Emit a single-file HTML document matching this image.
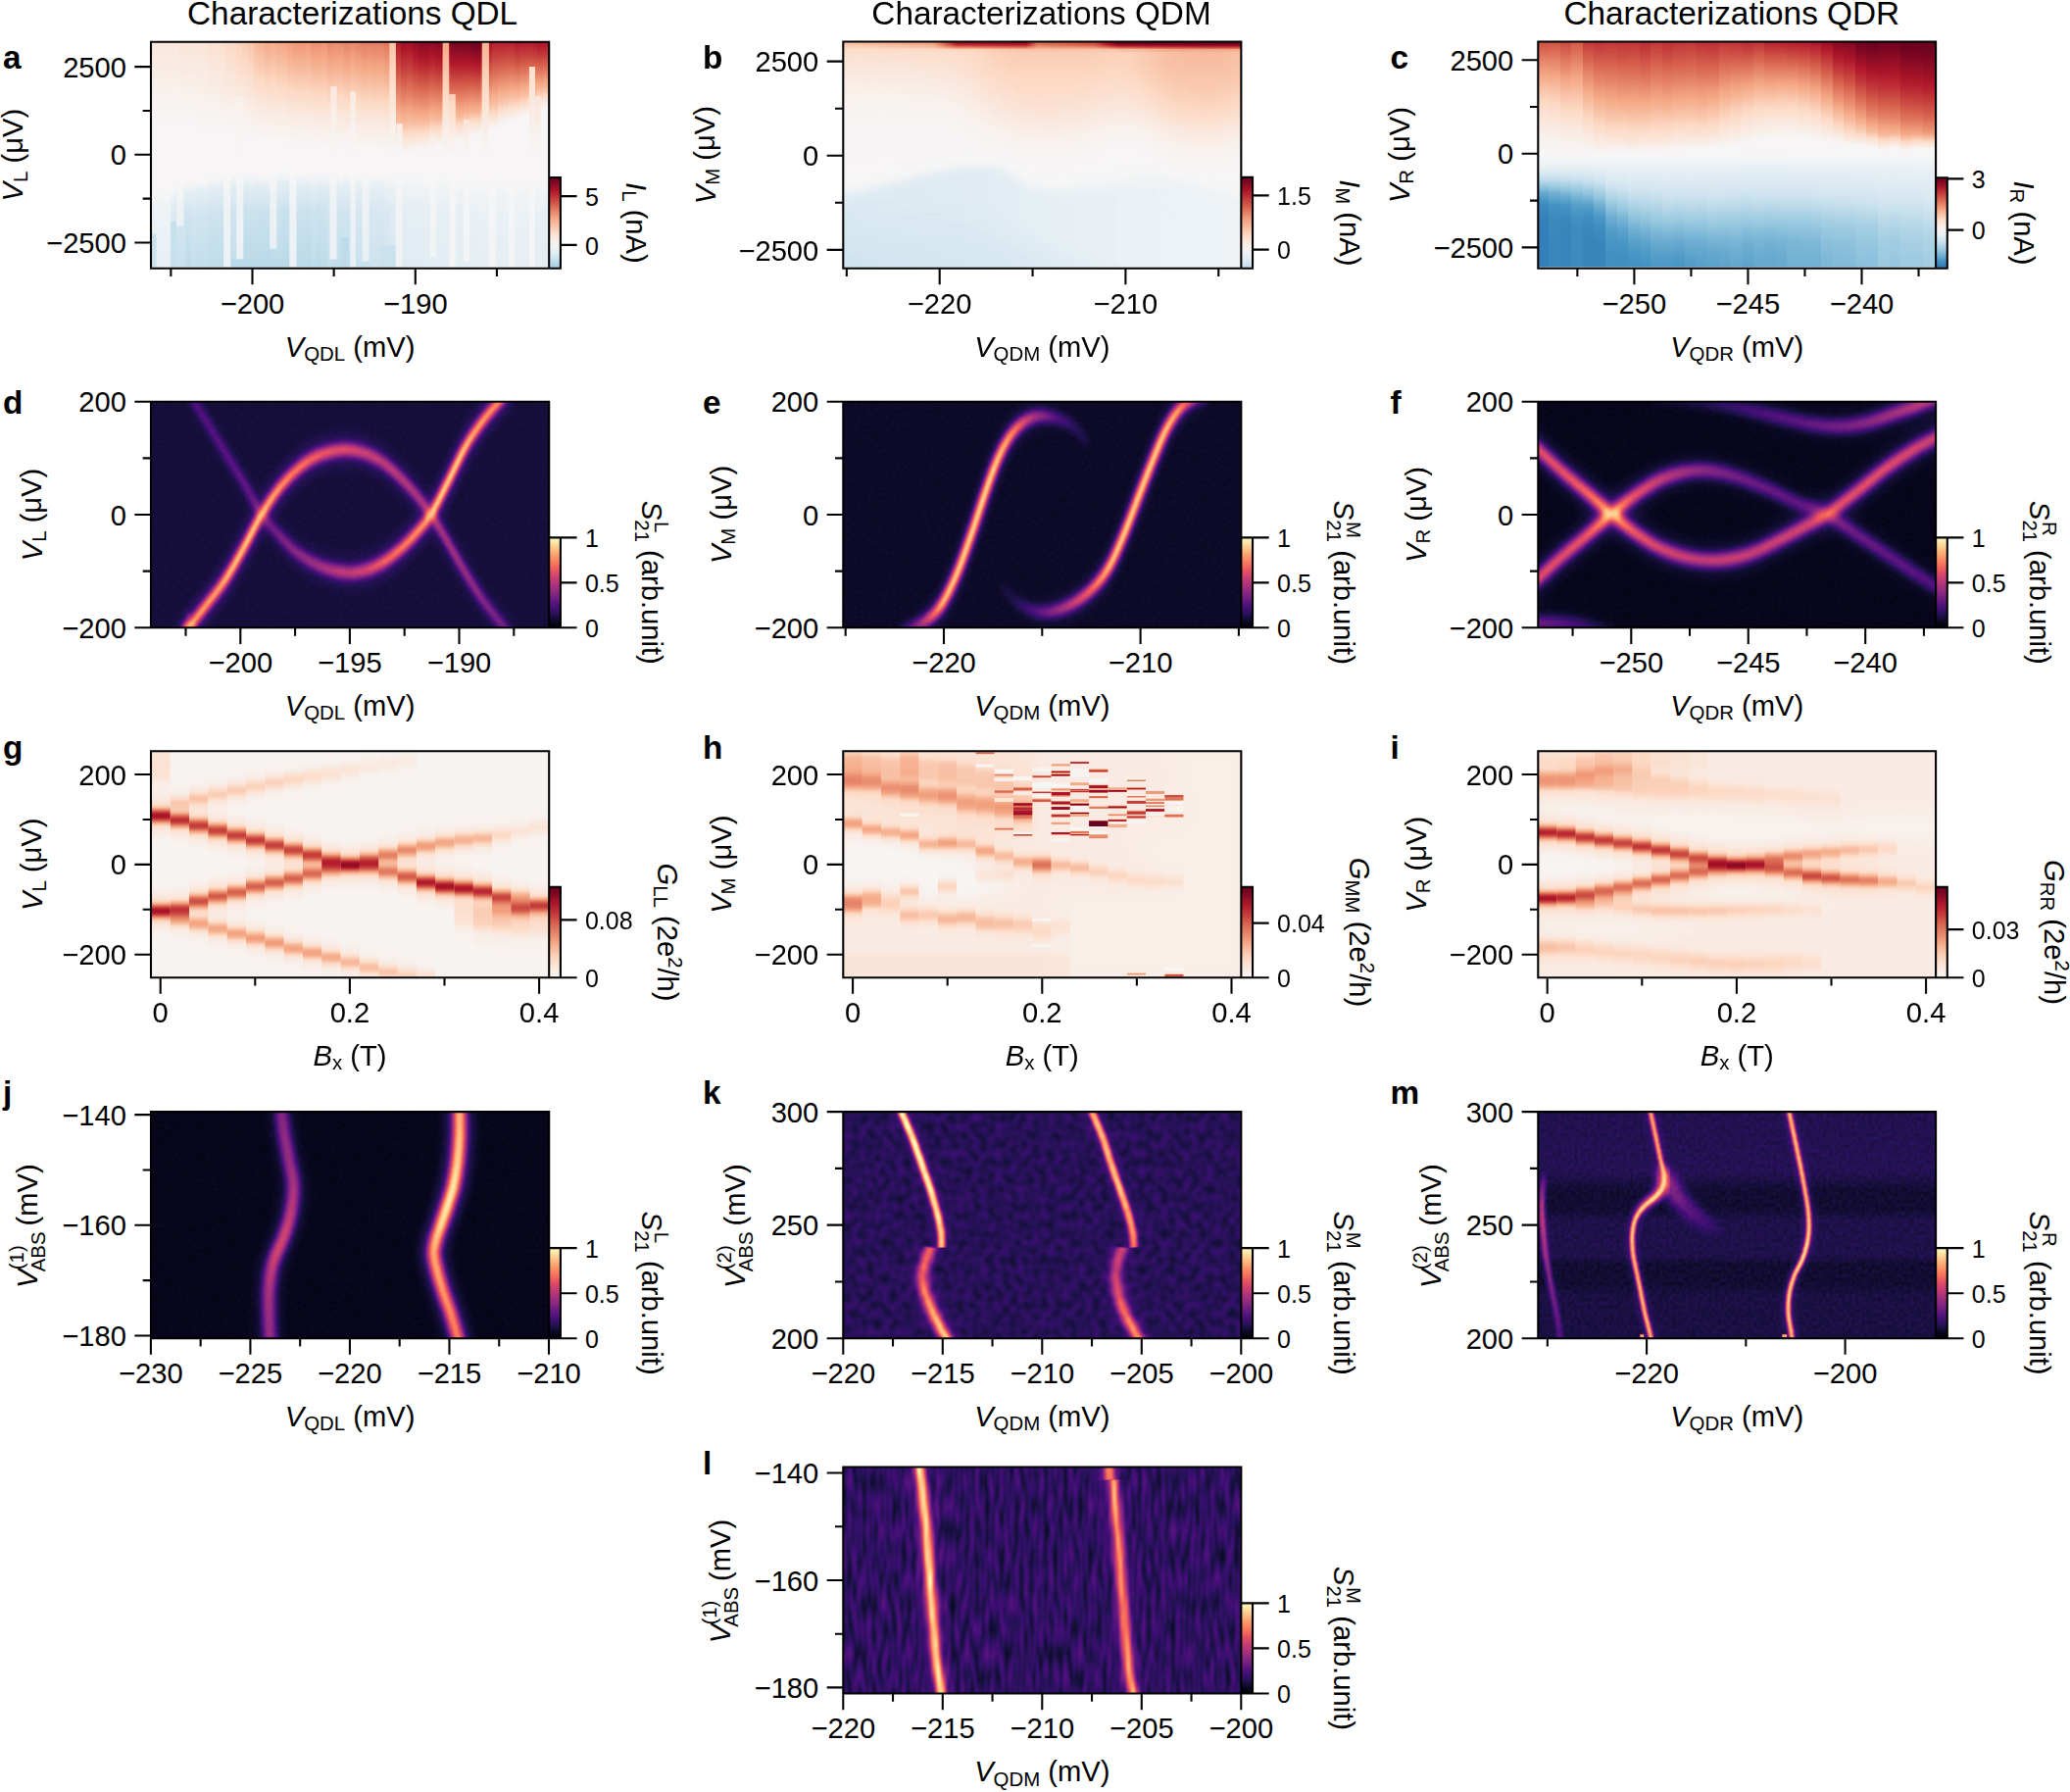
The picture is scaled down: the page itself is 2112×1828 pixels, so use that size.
<!DOCTYPE html><html><head><meta charset="utf-8"><title>Characterizations</title><style>html,body{margin:0;padding:0;background:#fff}svg{display:block}text{font-family:"Liberation Sans",Arial,Helvetica,sans-serif;fill:#000}</style></head><body><svg xmlns="http://www.w3.org/2000/svg" width="2112" height="1828" viewBox="0 0 2112 1828"><defs><filter id="cm_magma" x="0" y="0" width="1" height="1" color-interpolation-filters="sRGB"><feComponentTransfer><feFuncR type="table" tableValues="0.001 0.006 0.014 0.025 0.040 0.057 0.074 0.093 0.113 0.135 0.159 0.185 0.212 0.239 0.265 0.291 0.317 0.341 0.366 0.390 0.415 0.439 0.464 0.488 0.513 0.538 0.563 0.588 0.614 0.639 0.665 0.691 0.716 0.742 0.767 0.792 0.817 0.841 0.863 0.885 0.904 0.922 0.937 0.950 0.961 0.970 0.977 0.982 0.987 0.990 0.993 0.995 0.996 0.997 0.997 0.997 0.997 0.996 0.995 0.994 0.992 0.991 0.989 0.988 0.987"/><feFuncG type="table" tableValues="0.000 0.005 0.012 0.021 0.031 0.042 0.052 0.060 0.065 0.068 0.068 0.066 0.062 0.060 0.060 0.065 0.072 0.081 0.090 0.100 0.110 0.120 0.130 0.139 0.148 0.157 0.165 0.174 0.182 0.190 0.198 0.206 0.215 0.224 0.234 0.244 0.256 0.269 0.284 0.301 0.320 0.341 0.365 0.391 0.418 0.447 0.476 0.506 0.536 0.565 0.595 0.624 0.654 0.683 0.712 0.741 0.770 0.798 0.827 0.856 0.884 0.913 0.941 0.970 0.991"/><feFuncB type="table" tableValues="0.014 0.037 0.069 0.101 0.134 0.167 0.203 0.239 0.277 0.315 0.353 0.388 0.419 0.443 0.462 0.475 0.485 0.493 0.498 0.502 0.505 0.507 0.508 0.508 0.508 0.507 0.505 0.502 0.499 0.494 0.489 0.483 0.475 0.467 0.458 0.448 0.436 0.425 0.412 0.400 0.388 0.377 0.369 0.362 0.360 0.360 0.364 0.372 0.382 0.395 0.410 0.427 0.446 0.467 0.488 0.511 0.535 0.560 0.586 0.612 0.640 0.668 0.698 0.727 0.750"/></feComponentTransfer></filter><filter id="cm_rdbu" x="0" y="0" width="1" height="1" color-interpolation-filters="sRGB"><feComponentTransfer><feFuncR type="table" tableValues="0.020 0.037 0.054 0.071 0.089 0.106 0.123 0.142 0.163 0.184 0.205 0.226 0.247 0.275 0.323 0.372 0.421 0.469 0.518 0.566 0.606 0.645 0.684 0.723 0.761 0.800 0.831 0.855 0.878 0.901 0.925 0.948 0.969 0.973 0.976 0.980 0.984 0.988 0.991 0.988 0.982 0.977 0.971 0.966 0.960 0.950 0.931 0.913 0.895 0.876 0.858 0.839 0.817 0.795 0.773 0.751 0.728 0.706 0.669 0.623 0.577 0.531 0.485 0.439 0.404"/><feFuncG type="table" tableValues="0.188 0.221 0.255 0.288 0.321 0.354 0.388 0.417 0.445 0.473 0.500 0.528 0.556 0.584 0.615 0.646 0.676 0.707 0.738 0.769 0.790 0.809 0.829 0.849 0.869 0.888 0.904 0.915 0.926 0.937 0.948 0.959 0.966 0.949 0.932 0.915 0.898 0.880 0.863 0.834 0.801 0.767 0.734 0.701 0.668 0.631 0.589 0.546 0.504 0.461 0.419 0.376 0.332 0.288 0.244 0.199 0.155 0.111 0.085 0.070 0.055 0.041 0.026 0.011 0.000"/><feFuncB type="table" tableValues="0.380 0.427 0.473 0.519 0.565 0.611 0.657 0.683 0.698 0.712 0.726 0.740 0.754 0.769 0.785 0.802 0.819 0.835 0.852 0.869 0.880 0.891 0.902 0.913 0.925 0.936 0.943 0.948 0.952 0.956 0.961 0.965 0.965 0.935 0.906 0.876 0.847 0.817 0.788 0.749 0.706 0.664 0.621 0.579 0.536 0.498 0.465 0.432 0.400 0.367 0.335 0.302 0.281 0.260 0.239 0.218 0.197 0.176 0.164 0.157 0.149 0.142 0.134 0.127 0.122"/></feComponentTransfer></filter><filter id="cm_reds" x="0" y="0" width="1" height="1" color-interpolation-filters="sRGB"><feComponentTransfer><feFuncR type="table" tableValues="0.969 0.971 0.973 0.975 0.976 0.978 0.980 0.982 0.984 0.986 0.988 0.989 0.991 0.991 0.988 0.985 0.982 0.980 0.977 0.974 0.971 0.969 0.966 0.963 0.960 0.958 0.950 0.941 0.931 0.922 0.913 0.904 0.895 0.885 0.876 0.867 0.858 0.848 0.839 0.828 0.817 0.806 0.795 0.784 0.773 0.762 0.751 0.740 0.728 0.717 0.706 0.692 0.669 0.646 0.623 0.600 0.577 0.554 0.531 0.508 0.485 0.462 0.439 0.415 0.404"/><feFuncG type="table" tableValues="0.966 0.958 0.949 0.941 0.932 0.923 0.915 0.906 0.898 0.889 0.880 0.872 0.863 0.851 0.834 0.817 0.801 0.784 0.767 0.751 0.734 0.718 0.701 0.684 0.668 0.651 0.631 0.610 0.589 0.567 0.546 0.525 0.504 0.483 0.461 0.440 0.419 0.398 0.376 0.354 0.332 0.310 0.288 0.266 0.244 0.221 0.199 0.177 0.155 0.133 0.111 0.092 0.085 0.078 0.070 0.063 0.055 0.048 0.041 0.033 0.026 0.018 0.011 0.004 0.000"/><feFuncB type="table" tableValues="0.965 0.950 0.935 0.921 0.906 0.891 0.876 0.862 0.847 0.832 0.817 0.803 0.788 0.770 0.749 0.727 0.706 0.685 0.664 0.642 0.621 0.600 0.579 0.558 0.536 0.515 0.498 0.481 0.465 0.449 0.432 0.416 0.400 0.383 0.367 0.351 0.335 0.318 0.302 0.292 0.281 0.271 0.260 0.250 0.239 0.229 0.218 0.208 0.197 0.187 0.176 0.168 0.164 0.160 0.157 0.153 0.149 0.146 0.142 0.138 0.134 0.131 0.127 0.123 0.122"/></feComponentTransfer></filter><filter id="b1" x="-0.2" y="-0.2" width="1.4" height="1.4" color-interpolation-filters="sRGB"><feGaussianBlur stdDeviation="1 1"/></filter><filter id="b1h" x="-0.2" y="-0.2" width="1.4" height="1.4" color-interpolation-filters="sRGB"><feGaussianBlur stdDeviation="1.5 1.5"/></filter><filter id="b2" x="-0.2" y="-0.2" width="1.4" height="1.4" color-interpolation-filters="sRGB"><feGaussianBlur stdDeviation="2 2"/></filter><filter id="b3" x="-0.2" y="-0.2" width="1.4" height="1.4" color-interpolation-filters="sRGB"><feGaussianBlur stdDeviation="3 3"/></filter><filter id="b4" x="-0.2" y="-0.2" width="1.4" height="1.4" color-interpolation-filters="sRGB"><feGaussianBlur stdDeviation="4 4"/></filter><filter id="b5" x="-0.2" y="-0.2" width="1.4" height="1.4" color-interpolation-filters="sRGB"><feGaussianBlur stdDeviation="5 5"/></filter><filter id="b6" x="-0.2" y="-0.2" width="1.4" height="1.4" color-interpolation-filters="sRGB"><feGaussianBlur stdDeviation="6 6"/></filter><filter id="b8" x="-0.2" y="-0.2" width="1.4" height="1.4" color-interpolation-filters="sRGB"><feGaussianBlur stdDeviation="8 8"/></filter><filter id="b12" x="-0.2" y="-0.2" width="1.4" height="1.4" color-interpolation-filters="sRGB"><feGaussianBlur stdDeviation="12 12"/></filter><filter id="b20" x="-0.2" y="-0.2" width="1.4" height="1.4" color-interpolation-filters="sRGB"><feGaussianBlur stdDeviation="20 20"/></filter><filter id="bv2" x="-0.2" y="-0.2" width="1.4" height="1.4" color-interpolation-filters="sRGB"><feGaussianBlur stdDeviation="0 2"/></filter><filter id="bv3" x="-0.2" y="-0.2" width="1.4" height="1.4" color-interpolation-filters="sRGB"><feGaussianBlur stdDeviation="0 3"/></filter><filter id="bv4" x="-0.2" y="-0.2" width="1.4" height="1.4" color-interpolation-filters="sRGB"><feGaussianBlur stdDeviation="0 4"/></filter><filter id="bv6" x="-0.2" y="-0.2" width="1.4" height="1.4" color-interpolation-filters="sRGB"><feGaussianBlur stdDeviation="0 6"/></filter><filter id="bv10" x="-0.2" y="-0.2" width="1.4" height="1.4" color-interpolation-filters="sRGB"><feGaussianBlur stdDeviation="0 10"/></filter><filter id="bh2" x="-0.2" y="-0.2" width="1.4" height="1.4" color-interpolation-filters="sRGB"><feGaussianBlur stdDeviation="2 0"/></filter><filter id="bh3" x="-0.2" y="-0.2" width="1.4" height="1.4" color-interpolation-filters="sRGB"><feGaussianBlur stdDeviation="3 0"/></filter><filter id="bh1" x="-0.2" y="-0.2" width="1.4" height="1.4" color-interpolation-filters="sRGB"><feGaussianBlur stdDeviation="1 0"/></filter><filter id="bh5" x="-0.2" y="-0.2" width="1.4" height="1.4" color-interpolation-filters="sRGB"><feGaussianBlur stdDeviation="5 0"/></filter><linearGradient id="a_up" x1="0" y1="0" x2="0" y2="1"><stop offset="0" stop-color="#ffffff"/><stop offset="0.25" stop-color="#dedede"/><stop offset="0.5" stop-color="#bababa"/><stop offset="0.75" stop-color="#969696"/><stop offset="1" stop-color="#808080"/></linearGradient><linearGradient id="a_up2" x1="0" y1="0" x2="0" y2="1"><stop offset="0" stop-color="#ffffff"/><stop offset="0.25" stop-color="#e6e6e6"/><stop offset="0.5" stop-color="#c9c9c9"/><stop offset="0.75" stop-color="#ababab"/><stop offset="0.9" stop-color="#8f8f8f"/><stop offset="1" stop-color="#808080"/></linearGradient><linearGradient id="a_dn" x1="0" y1="0" x2="0" y2="1"><stop offset="0" stop-color="#808080"/><stop offset="0.15" stop-color="#464646"/><stop offset="0.4" stop-color="#191919"/><stop offset="1" stop-color="#000000"/></linearGradient><clipPath id="clip_a"><rect x="154" y="42.7" width="406.2" height="231"/></clipPath><linearGradient id="cbg_a" x1="0" y1="0" x2="0" y2="1"><stop offset="0" stop-color="#67001f"/><stop offset="0.08" stop-color="#8d0c25"/><stop offset="0.15" stop-color="#b3192c"/><stop offset="0.23" stop-color="#c53e3d"/><stop offset="0.31" stop-color="#d86551"/><stop offset="0.38" stop-color="#e8896c"/><stop offset="0.46" stop-color="#f5aa89"/><stop offset="0.54" stop-color="#f9c6ac"/><stop offset="0.62" stop-color="#fcdfcf"/><stop offset="0.69" stop-color="#f9eee7"/><stop offset="0.77" stop-color="#f0f4f6"/><stop offset="0.85" stop-color="#ddebf2"/><stop offset="0.92" stop-color="#c2ddec"/><stop offset="1" stop-color="#a2cde3"/></linearGradient><linearGradient id="lg1" gradientUnits="userSpaceOnUse" x1="0" y1="42.01" x2="0" y2="158.29"><stop offset="0" stop-color="#999999" stop-opacity="1"/><stop offset="0.224" stop-color="#939393" stop-opacity="1"/><stop offset="0.534" stop-color="#8a8a8a" stop-opacity="1"/><stop offset="0.793" stop-color="#838383" stop-opacity="1"/><stop offset="1" stop-color="#808080" stop-opacity="1"/></linearGradient><linearGradient id="lg2" gradientUnits="userSpaceOnUse" x1="860.41" y1="0" x2="1265.98" y2="0"><stop offset="0" stop-color="#fff" stop-opacity="0.1"/><stop offset="0.226" stop-color="#fff" stop-opacity="0.2"/><stop offset="0.286" stop-color="#fff" stop-opacity="0.75"/><stop offset="0.459" stop-color="#fff" stop-opacity="0.8"/><stop offset="0.488" stop-color="#fff" stop-opacity="0.35"/><stop offset="0.632" stop-color="#fff" stop-opacity="0.5"/><stop offset="0.691" stop-color="#fff" stop-opacity="0.95"/><stop offset="1" stop-color="#fff" stop-opacity="1"/></linearGradient><linearGradient id="lg3" gradientUnits="userSpaceOnUse" x1="860.41" y1="0" x2="1265.98" y2="0"><stop offset="0" stop-color="#fff" stop-opacity="0.02"/><stop offset="0.286" stop-color="#fff" stop-opacity="0.1"/><stop offset="0.632" stop-color="#fff" stop-opacity="0.1"/><stop offset="0.706" stop-color="#fff" stop-opacity="0.22"/><stop offset="1" stop-color="#fff" stop-opacity="0.25"/></linearGradient><linearGradient id="lg4" gradientUnits="userSpaceOnUse" x1="856" y1="0" x2="1268.99" y2="0"><stop offset="0" stop-color="#000000" stop-opacity="0.15"/><stop offset="0.34" stop-color="#000000" stop-opacity="0.125"/><stop offset="0.534" stop-color="#000000" stop-opacity="0.085"/><stop offset="0.777" stop-color="#000000" stop-opacity="0.065"/><stop offset="1" stop-color="#000000" stop-opacity="0.055"/></linearGradient><linearGradient id="lg5" gradientUnits="userSpaceOnUse" x1="0" y1="198.38" x2="0" y2="272.56"><stop offset="0" stop-color="#000000" stop-opacity="0"/><stop offset="1" stop-color="#000000" stop-opacity="0.075"/></linearGradient><clipPath id="clip_b"><rect x="860.3" y="42.5" width="406.05" height="231.2"/></clipPath><linearGradient id="cbg_b" x1="0" y1="0" x2="0" y2="1"><stop offset="0" stop-color="#67001f"/><stop offset="0.08" stop-color="#8a0b25"/><stop offset="0.15" stop-color="#ae172a"/><stop offset="0.23" stop-color="#c2383a"/><stop offset="0.31" stop-color="#d35a4a"/><stop offset="0.38" stop-color="#e27b62"/><stop offset="0.46" stop-color="#f19e7d"/><stop offset="0.54" stop-color="#f7b99c"/><stop offset="0.62" stop-color="#fcd3bc"/><stop offset="0.69" stop-color="#fbe5d8"/><stop offset="0.77" stop-color="#f8f2ef"/><stop offset="0.85" stop-color="#ecf2f5"/><stop offset="0.92" stop-color="#d8e9f1"/><stop offset="1" stop-color="#c0dceb"/></linearGradient><linearGradient id="cc0" x1="0" y1="0" x2="0" y2="1"><stop offset="0" stop-color="#d2d2d2"/><stop offset="0.071" stop-color="#c1c1c1"/><stop offset="0.141" stop-color="#b2b2b2"/><stop offset="0.212" stop-color="#a4a4a4"/><stop offset="0.282" stop-color="#979797"/><stop offset="0.353" stop-color="#8d8d8d"/><stop offset="0.424" stop-color="#848484"/><stop offset="0.494" stop-color="#808080"/><stop offset="0.504" stop-color="#808080"/><stop offset="0.559" stop-color="#757575"/><stop offset="0.614" stop-color="#5e5e5e"/><stop offset="0.67" stop-color="#3f3f3f"/><stop offset="0.725" stop-color="#2e2e2e"/><stop offset="0.78" stop-color="#292929"/><stop offset="0.835" stop-color="#282828"/><stop offset="0.89" stop-color="#282828"/><stop offset="0.945" stop-color="#282828"/><stop offset="1" stop-color="#282828"/></linearGradient><linearGradient id="cc1" x1="0" y1="0" x2="0" y2="1"><stop offset="0" stop-color="#d0d0d0"/><stop offset="0.071" stop-color="#c1c1c1"/><stop offset="0.142" stop-color="#b3b3b3"/><stop offset="0.212" stop-color="#a5a5a5"/><stop offset="0.283" stop-color="#999999"/><stop offset="0.354" stop-color="#8e8e8e"/><stop offset="0.425" stop-color="#858585"/><stop offset="0.496" stop-color="#808080"/><stop offset="0.504" stop-color="#808080"/><stop offset="0.559" stop-color="#747474"/><stop offset="0.614" stop-color="#5e5e5e"/><stop offset="0.67" stop-color="#434343"/><stop offset="0.725" stop-color="#333333"/><stop offset="0.78" stop-color="#2e2e2e"/><stop offset="0.835" stop-color="#2d2d2d"/><stop offset="0.89" stop-color="#2c2c2c"/><stop offset="0.945" stop-color="#2c2c2c"/><stop offset="1" stop-color="#2c2c2c"/></linearGradient><linearGradient id="cc2" x1="0" y1="0" x2="0" y2="1"><stop offset="0" stop-color="#d4d4d4"/><stop offset="0.071" stop-color="#c5c5c5"/><stop offset="0.142" stop-color="#b7b7b7"/><stop offset="0.213" stop-color="#a9a9a9"/><stop offset="0.284" stop-color="#9c9c9c"/><stop offset="0.355" stop-color="#919191"/><stop offset="0.426" stop-color="#878787"/><stop offset="0.497" stop-color="#808080"/><stop offset="0.504" stop-color="#808080"/><stop offset="0.559" stop-color="#747474"/><stop offset="0.614" stop-color="#606060"/><stop offset="0.67" stop-color="#464646"/><stop offset="0.725" stop-color="#343434"/><stop offset="0.78" stop-color="#2d2d2d"/><stop offset="0.835" stop-color="#2b2b2b"/><stop offset="0.89" stop-color="#2a2a2a"/><stop offset="0.945" stop-color="#2a2a2a"/><stop offset="1" stop-color="#2a2a2a"/></linearGradient><linearGradient id="cc3" x1="0" y1="0" x2="0" y2="1"><stop offset="0" stop-color="#cecece"/><stop offset="0.071" stop-color="#c1c1c1"/><stop offset="0.141" stop-color="#b4b4b4"/><stop offset="0.212" stop-color="#a8a8a8"/><stop offset="0.283" stop-color="#9c9c9c"/><stop offset="0.354" stop-color="#919191"/><stop offset="0.424" stop-color="#878787"/><stop offset="0.495" stop-color="#808080"/><stop offset="0.504" stop-color="#808080"/><stop offset="0.559" stop-color="#747474"/><stop offset="0.614" stop-color="#626262"/><stop offset="0.67" stop-color="#4a4a4a"/><stop offset="0.725" stop-color="#393939"/><stop offset="0.78" stop-color="#323232"/><stop offset="0.835" stop-color="#2f2f2f"/><stop offset="0.89" stop-color="#2f2f2f"/><stop offset="0.945" stop-color="#2e2e2e"/><stop offset="1" stop-color="#2e2e2e"/></linearGradient><linearGradient id="cc4" x1="0" y1="0" x2="0" y2="1"><stop offset="0" stop-color="#dadada"/><stop offset="0.07" stop-color="#cccccc"/><stop offset="0.14" stop-color="#bebebe"/><stop offset="0.211" stop-color="#b1b1b1"/><stop offset="0.281" stop-color="#a4a4a4"/><stop offset="0.351" stop-color="#979797"/><stop offset="0.421" stop-color="#8b8b8b"/><stop offset="0.492" stop-color="#808080"/><stop offset="0.504" stop-color="#808080"/><stop offset="0.559" stop-color="#747474"/><stop offset="0.614" stop-color="#646464"/><stop offset="0.67" stop-color="#4e4e4e"/><stop offset="0.725" stop-color="#3a3a3a"/><stop offset="0.78" stop-color="#303030"/><stop offset="0.835" stop-color="#2c2c2c"/><stop offset="0.89" stop-color="#2b2b2b"/><stop offset="0.945" stop-color="#2b2b2b"/><stop offset="1" stop-color="#2b2b2b"/></linearGradient><linearGradient id="cc5" x1="0" y1="0" x2="0" y2="1"><stop offset="0" stop-color="#dcdcdc"/><stop offset="0.071" stop-color="#cfcfcf"/><stop offset="0.142" stop-color="#c3c3c3"/><stop offset="0.214" stop-color="#b6b6b6"/><stop offset="0.285" stop-color="#a9a9a9"/><stop offset="0.356" stop-color="#9c9c9c"/><stop offset="0.427" stop-color="#8e8e8e"/><stop offset="0.499" stop-color="#808080"/><stop offset="0.504" stop-color="#808080"/><stop offset="0.559" stop-color="#757575"/><stop offset="0.614" stop-color="#676767"/><stop offset="0.67" stop-color="#545454"/><stop offset="0.725" stop-color="#424242"/><stop offset="0.78" stop-color="#353535"/><stop offset="0.835" stop-color="#2f2f2f"/><stop offset="0.89" stop-color="#2c2c2c"/><stop offset="0.945" stop-color="#2b2b2b"/><stop offset="1" stop-color="#2b2b2b"/></linearGradient><linearGradient id="cc6" x1="0" y1="0" x2="0" y2="1"><stop offset="0" stop-color="#dadada"/><stop offset="0.07" stop-color="#cfcfcf"/><stop offset="0.141" stop-color="#c4c4c4"/><stop offset="0.211" stop-color="#b8b8b8"/><stop offset="0.282" stop-color="#acacac"/><stop offset="0.352" stop-color="#a0a0a0"/><stop offset="0.423" stop-color="#929292"/><stop offset="0.493" stop-color="#808080"/><stop offset="0.504" stop-color="#808080"/><stop offset="0.559" stop-color="#767676"/><stop offset="0.614" stop-color="#6c6c6c"/><stop offset="0.67" stop-color="#5e5e5e"/><stop offset="0.725" stop-color="#4e4e4e"/><stop offset="0.78" stop-color="#414141"/><stop offset="0.835" stop-color="#383838"/><stop offset="0.89" stop-color="#343434"/><stop offset="0.945" stop-color="#323232"/><stop offset="1" stop-color="#313131"/></linearGradient><linearGradient id="cc7" x1="0" y1="0" x2="0" y2="1"><stop offset="0" stop-color="#dbdbdb"/><stop offset="0.07" stop-color="#d1d1d1"/><stop offset="0.14" stop-color="#c5c5c5"/><stop offset="0.211" stop-color="#bababa"/><stop offset="0.281" stop-color="#adadad"/><stop offset="0.351" stop-color="#a0a0a0"/><stop offset="0.421" stop-color="#929292"/><stop offset="0.491" stop-color="#808080"/><stop offset="0.504" stop-color="#808080"/><stop offset="0.559" stop-color="#767676"/><stop offset="0.614" stop-color="#6c6c6c"/><stop offset="0.67" stop-color="#616161"/><stop offset="0.725" stop-color="#535353"/><stop offset="0.78" stop-color="#454545"/><stop offset="0.835" stop-color="#3b3b3b"/><stop offset="0.89" stop-color="#353535"/><stop offset="0.945" stop-color="#323232"/><stop offset="1" stop-color="#303030"/></linearGradient><linearGradient id="cc8" x1="0" y1="0" x2="0" y2="1"><stop offset="0" stop-color="#dbdbdb"/><stop offset="0.071" stop-color="#d0d0d0"/><stop offset="0.143" stop-color="#c5c5c5"/><stop offset="0.214" stop-color="#b9b9b9"/><stop offset="0.285" stop-color="#adadad"/><stop offset="0.356" stop-color="#a0a0a0"/><stop offset="0.428" stop-color="#929292"/><stop offset="0.499" stop-color="#808080"/><stop offset="0.504" stop-color="#808080"/><stop offset="0.559" stop-color="#767676"/><stop offset="0.614" stop-color="#6e6e6e"/><stop offset="0.67" stop-color="#646464"/><stop offset="0.725" stop-color="#585858"/><stop offset="0.78" stop-color="#4c4c4c"/><stop offset="0.835" stop-color="#414141"/><stop offset="0.89" stop-color="#393939"/><stop offset="0.945" stop-color="#343434"/><stop offset="1" stop-color="#313131"/></linearGradient><linearGradient id="cc9" x1="0" y1="0" x2="0" y2="1"><stop offset="0" stop-color="#dedede"/><stop offset="0.07" stop-color="#d3d3d3"/><stop offset="0.14" stop-color="#c7c7c7"/><stop offset="0.21" stop-color="#bbbbbb"/><stop offset="0.281" stop-color="#aeaeae"/><stop offset="0.351" stop-color="#a1a1a1"/><stop offset="0.421" stop-color="#929292"/><stop offset="0.491" stop-color="#808080"/><stop offset="0.504" stop-color="#808080"/><stop offset="0.559" stop-color="#757575"/><stop offset="0.614" stop-color="#6d6d6d"/><stop offset="0.67" stop-color="#646464"/><stop offset="0.725" stop-color="#5a5a5a"/><stop offset="0.78" stop-color="#4e4e4e"/><stop offset="0.835" stop-color="#444444"/><stop offset="0.89" stop-color="#3b3b3b"/><stop offset="0.945" stop-color="#363636"/><stop offset="1" stop-color="#323232"/></linearGradient><linearGradient id="cc10" x1="0" y1="0" x2="0" y2="1"><stop offset="0" stop-color="#dadada"/><stop offset="0.07" stop-color="#cfcfcf"/><stop offset="0.141" stop-color="#c4c4c4"/><stop offset="0.211" stop-color="#b8b8b8"/><stop offset="0.282" stop-color="#acacac"/><stop offset="0.352" stop-color="#9f9f9f"/><stop offset="0.423" stop-color="#919191"/><stop offset="0.493" stop-color="#808080"/><stop offset="0.504" stop-color="#808080"/><stop offset="0.559" stop-color="#757575"/><stop offset="0.614" stop-color="#6e6e6e"/><stop offset="0.67" stop-color="#656565"/><stop offset="0.725" stop-color="#5b5b5b"/><stop offset="0.78" stop-color="#515151"/><stop offset="0.835" stop-color="#474747"/><stop offset="0.89" stop-color="#3f3f3f"/><stop offset="0.945" stop-color="#393939"/><stop offset="1" stop-color="#353535"/></linearGradient><linearGradient id="cc11" x1="0" y1="0" x2="0" y2="1"><stop offset="0" stop-color="#dddddd"/><stop offset="0.07" stop-color="#d2d2d2"/><stop offset="0.139" stop-color="#c6c6c6"/><stop offset="0.209" stop-color="#bababa"/><stop offset="0.278" stop-color="#aeaeae"/><stop offset="0.348" stop-color="#a0a0a0"/><stop offset="0.417" stop-color="#929292"/><stop offset="0.487" stop-color="#808080"/><stop offset="0.504" stop-color="#808080"/><stop offset="0.559" stop-color="#767676"/><stop offset="0.614" stop-color="#6f6f6f"/><stop offset="0.67" stop-color="#676767"/><stop offset="0.725" stop-color="#5e5e5e"/><stop offset="0.78" stop-color="#535353"/><stop offset="0.835" stop-color="#484848"/><stop offset="0.89" stop-color="#404040"/><stop offset="0.945" stop-color="#393939"/><stop offset="1" stop-color="#353535"/></linearGradient><linearGradient id="cc12" x1="0" y1="0" x2="0" y2="1"><stop offset="0" stop-color="#dbdbdb"/><stop offset="0.069" stop-color="#d0d0d0"/><stop offset="0.138" stop-color="#c5c5c5"/><stop offset="0.207" stop-color="#b9b9b9"/><stop offset="0.276" stop-color="#acacac"/><stop offset="0.344" stop-color="#9f9f9f"/><stop offset="0.413" stop-color="#919191"/><stop offset="0.482" stop-color="#808080"/><stop offset="0.504" stop-color="#808080"/><stop offset="0.559" stop-color="#757575"/><stop offset="0.614" stop-color="#6e6e6e"/><stop offset="0.67" stop-color="#666666"/><stop offset="0.725" stop-color="#5d5d5d"/><stop offset="0.78" stop-color="#525252"/><stop offset="0.835" stop-color="#474747"/><stop offset="0.89" stop-color="#3f3f3f"/><stop offset="0.945" stop-color="#383838"/><stop offset="1" stop-color="#343434"/></linearGradient><linearGradient id="cc13" x1="0" y1="0" x2="0" y2="1"><stop offset="0" stop-color="#dadada"/><stop offset="0.069" stop-color="#cfcfcf"/><stop offset="0.137" stop-color="#c4c4c4"/><stop offset="0.206" stop-color="#b8b8b8"/><stop offset="0.274" stop-color="#acacac"/><stop offset="0.343" stop-color="#9f9f9f"/><stop offset="0.411" stop-color="#919191"/><stop offset="0.48" stop-color="#808080"/><stop offset="0.504" stop-color="#808080"/><stop offset="0.559" stop-color="#767676"/><stop offset="0.614" stop-color="#6f6f6f"/><stop offset="0.67" stop-color="#676767"/><stop offset="0.725" stop-color="#5e5e5e"/><stop offset="0.78" stop-color="#545454"/><stop offset="0.835" stop-color="#494949"/><stop offset="0.89" stop-color="#414141"/><stop offset="0.945" stop-color="#3b3b3b"/><stop offset="1" stop-color="#373737"/></linearGradient><linearGradient id="cc14" x1="0" y1="0" x2="0" y2="1"><stop offset="0" stop-color="#dddddd"/><stop offset="0.069" stop-color="#d1d1d1"/><stop offset="0.137" stop-color="#c6c6c6"/><stop offset="0.206" stop-color="#b9b9b9"/><stop offset="0.274" stop-color="#adadad"/><stop offset="0.343" stop-color="#a0a0a0"/><stop offset="0.411" stop-color="#919191"/><stop offset="0.48" stop-color="#808080"/><stop offset="0.504" stop-color="#808080"/><stop offset="0.559" stop-color="#757575"/><stop offset="0.614" stop-color="#6e6e6e"/><stop offset="0.67" stop-color="#676767"/><stop offset="0.725" stop-color="#5d5d5d"/><stop offset="0.78" stop-color="#535353"/><stop offset="0.835" stop-color="#494949"/><stop offset="0.89" stop-color="#414141"/><stop offset="0.945" stop-color="#3c3c3c"/><stop offset="1" stop-color="#393939"/></linearGradient><linearGradient id="cc15" x1="0" y1="0" x2="0" y2="1"><stop offset="0" stop-color="#dedede"/><stop offset="0.067" stop-color="#d2d2d2"/><stop offset="0.135" stop-color="#c6c6c6"/><stop offset="0.202" stop-color="#b9b9b9"/><stop offset="0.27" stop-color="#acacac"/><stop offset="0.337" stop-color="#9f9f9f"/><stop offset="0.405" stop-color="#919191"/><stop offset="0.472" stop-color="#808080"/><stop offset="0.504" stop-color="#808080"/><stop offset="0.559" stop-color="#757575"/><stop offset="0.614" stop-color="#6f6f6f"/><stop offset="0.67" stop-color="#686868"/><stop offset="0.725" stop-color="#5f5f5f"/><stop offset="0.78" stop-color="#555555"/><stop offset="0.835" stop-color="#4b4b4b"/><stop offset="0.89" stop-color="#434343"/><stop offset="0.945" stop-color="#3d3d3d"/><stop offset="1" stop-color="#3a3a3a"/></linearGradient><linearGradient id="cc16" x1="0" y1="0" x2="0" y2="1"><stop offset="0" stop-color="#dbdbdb"/><stop offset="0.067" stop-color="#cecece"/><stop offset="0.134" stop-color="#c2c2c2"/><stop offset="0.2" stop-color="#b5b5b5"/><stop offset="0.267" stop-color="#a8a8a8"/><stop offset="0.334" stop-color="#9b9b9b"/><stop offset="0.401" stop-color="#8e8e8e"/><stop offset="0.467" stop-color="#808080"/><stop offset="0.504" stop-color="#808080"/><stop offset="0.559" stop-color="#757575"/><stop offset="0.614" stop-color="#6e6e6e"/><stop offset="0.67" stop-color="#676767"/><stop offset="0.725" stop-color="#5e5e5e"/><stop offset="0.78" stop-color="#545454"/><stop offset="0.835" stop-color="#4a4a4a"/><stop offset="0.89" stop-color="#434343"/><stop offset="0.945" stop-color="#3e3e3e"/><stop offset="1" stop-color="#3b3b3b"/></linearGradient><linearGradient id="cc17" x1="0" y1="0" x2="0" y2="1"><stop offset="0" stop-color="#dcdcdc"/><stop offset="0.066" stop-color="#cfcfcf"/><stop offset="0.132" stop-color="#c1c1c1"/><stop offset="0.198" stop-color="#b3b3b3"/><stop offset="0.265" stop-color="#a6a6a6"/><stop offset="0.331" stop-color="#989898"/><stop offset="0.397" stop-color="#8c8c8c"/><stop offset="0.463" stop-color="#808080"/><stop offset="0.504" stop-color="#808080"/><stop offset="0.559" stop-color="#757575"/><stop offset="0.614" stop-color="#6e6e6e"/><stop offset="0.67" stop-color="#676767"/><stop offset="0.725" stop-color="#5e5e5e"/><stop offset="0.78" stop-color="#545454"/><stop offset="0.835" stop-color="#4b4b4b"/><stop offset="0.89" stop-color="#444444"/><stop offset="0.945" stop-color="#404040"/><stop offset="1" stop-color="#3d3d3d"/></linearGradient><linearGradient id="cc18" x1="0" y1="0" x2="0" y2="1"><stop offset="0" stop-color="#dfdfdf"/><stop offset="0.065" stop-color="#d0d0d0"/><stop offset="0.13" stop-color="#c1c1c1"/><stop offset="0.195" stop-color="#b2b2b2"/><stop offset="0.259" stop-color="#a4a4a4"/><stop offset="0.324" stop-color="#969696"/><stop offset="0.389" stop-color="#8a8a8a"/><stop offset="0.454" stop-color="#808080"/><stop offset="0.504" stop-color="#808080"/><stop offset="0.559" stop-color="#747474"/><stop offset="0.614" stop-color="#6e6e6e"/><stop offset="0.67" stop-color="#666666"/><stop offset="0.725" stop-color="#5d5d5d"/><stop offset="0.78" stop-color="#535353"/><stop offset="0.835" stop-color="#494949"/><stop offset="0.89" stop-color="#424242"/><stop offset="0.945" stop-color="#3e3e3e"/><stop offset="1" stop-color="#3b3b3b"/></linearGradient><linearGradient id="cc19" x1="0" y1="0" x2="0" y2="1"><stop offset="0" stop-color="#dddddd"/><stop offset="0.063" stop-color="#cdcdcd"/><stop offset="0.127" stop-color="#bebebe"/><stop offset="0.19" stop-color="#b0b0b0"/><stop offset="0.253" stop-color="#a2a2a2"/><stop offset="0.317" stop-color="#959595"/><stop offset="0.38" stop-color="#898989"/><stop offset="0.443" stop-color="#808080"/><stop offset="0.504" stop-color="#808080"/><stop offset="0.559" stop-color="#747474"/><stop offset="0.614" stop-color="#6e6e6e"/><stop offset="0.67" stop-color="#676767"/><stop offset="0.725" stop-color="#5e5e5e"/><stop offset="0.78" stop-color="#545454"/><stop offset="0.835" stop-color="#4a4a4a"/><stop offset="0.89" stop-color="#444444"/><stop offset="0.945" stop-color="#404040"/><stop offset="1" stop-color="#3e3e3e"/></linearGradient><linearGradient id="cc20" x1="0" y1="0" x2="0" y2="1"><stop offset="0" stop-color="#e2e2e2"/><stop offset="0.062" stop-color="#d1d1d1"/><stop offset="0.125" stop-color="#c1c1c1"/><stop offset="0.187" stop-color="#b2b2b2"/><stop offset="0.249" stop-color="#a3a3a3"/><stop offset="0.312" stop-color="#959595"/><stop offset="0.374" stop-color="#898989"/><stop offset="0.437" stop-color="#808080"/><stop offset="0.504" stop-color="#808080"/><stop offset="0.559" stop-color="#747474"/><stop offset="0.614" stop-color="#6e6e6e"/><stop offset="0.67" stop-color="#676767"/><stop offset="0.725" stop-color="#5d5d5d"/><stop offset="0.78" stop-color="#535353"/><stop offset="0.835" stop-color="#494949"/><stop offset="0.89" stop-color="#434343"/><stop offset="0.945" stop-color="#3f3f3f"/><stop offset="1" stop-color="#3e3e3e"/></linearGradient><linearGradient id="cc21" x1="0" y1="0" x2="0" y2="1"><stop offset="0" stop-color="#e3e3e3"/><stop offset="0.062" stop-color="#d1d1d1"/><stop offset="0.125" stop-color="#c1c1c1"/><stop offset="0.187" stop-color="#b1b1b1"/><stop offset="0.249" stop-color="#a2a2a2"/><stop offset="0.312" stop-color="#959595"/><stop offset="0.374" stop-color="#888888"/><stop offset="0.437" stop-color="#808080"/><stop offset="0.504" stop-color="#808080"/><stop offset="0.559" stop-color="#747474"/><stop offset="0.614" stop-color="#6e6e6e"/><stop offset="0.67" stop-color="#676767"/><stop offset="0.725" stop-color="#5e5e5e"/><stop offset="0.78" stop-color="#535353"/><stop offset="0.835" stop-color="#4a4a4a"/><stop offset="0.89" stop-color="#444444"/><stop offset="0.945" stop-color="#404040"/><stop offset="1" stop-color="#3f3f3f"/></linearGradient><linearGradient id="cc22" x1="0" y1="0" x2="0" y2="1"><stop offset="0" stop-color="#e4e4e4"/><stop offset="0.062" stop-color="#d3d3d3"/><stop offset="0.123" stop-color="#c2c2c2"/><stop offset="0.185" stop-color="#b2b2b2"/><stop offset="0.246" stop-color="#a3a3a3"/><stop offset="0.308" stop-color="#959595"/><stop offset="0.369" stop-color="#898989"/><stop offset="0.431" stop-color="#808080"/><stop offset="0.504" stop-color="#808080"/><stop offset="0.559" stop-color="#757575"/><stop offset="0.614" stop-color="#6e6e6e"/><stop offset="0.67" stop-color="#676767"/><stop offset="0.725" stop-color="#5e5e5e"/><stop offset="0.78" stop-color="#535353"/><stop offset="0.835" stop-color="#4b4b4b"/><stop offset="0.89" stop-color="#454545"/><stop offset="0.945" stop-color="#434343"/><stop offset="1" stop-color="#424242"/></linearGradient><linearGradient id="cc23" x1="0" y1="0" x2="0" y2="1"><stop offset="0" stop-color="#e5e5e5"/><stop offset="0.062" stop-color="#d4d4d4"/><stop offset="0.124" stop-color="#c4c4c4"/><stop offset="0.187" stop-color="#b4b4b4"/><stop offset="0.249" stop-color="#a5a5a5"/><stop offset="0.311" stop-color="#979797"/><stop offset="0.373" stop-color="#8a8a8a"/><stop offset="0.435" stop-color="#808080"/><stop offset="0.504" stop-color="#808080"/><stop offset="0.559" stop-color="#757575"/><stop offset="0.614" stop-color="#6e6e6e"/><stop offset="0.67" stop-color="#676767"/><stop offset="0.725" stop-color="#5e5e5e"/><stop offset="0.78" stop-color="#535353"/><stop offset="0.835" stop-color="#4b4b4b"/><stop offset="0.89" stop-color="#464646"/><stop offset="0.945" stop-color="#434343"/><stop offset="1" stop-color="#424242"/></linearGradient><linearGradient id="cc24" x1="0" y1="0" x2="0" y2="1"><stop offset="0" stop-color="#e7e7e7"/><stop offset="0.063" stop-color="#d7d7d7"/><stop offset="0.126" stop-color="#c7c7c7"/><stop offset="0.189" stop-color="#b7b7b7"/><stop offset="0.253" stop-color="#a8a8a8"/><stop offset="0.316" stop-color="#999999"/><stop offset="0.379" stop-color="#8b8b8b"/><stop offset="0.442" stop-color="#808080"/><stop offset="0.504" stop-color="#808080"/><stop offset="0.559" stop-color="#757575"/><stop offset="0.614" stop-color="#6e6e6e"/><stop offset="0.67" stop-color="#686868"/><stop offset="0.725" stop-color="#5f5f5f"/><stop offset="0.78" stop-color="#545454"/><stop offset="0.835" stop-color="#4c4c4c"/><stop offset="0.89" stop-color="#464646"/><stop offset="0.945" stop-color="#434343"/><stop offset="1" stop-color="#424242"/></linearGradient><linearGradient id="cc25" x1="0" y1="0" x2="0" y2="1"><stop offset="0" stop-color="#ededed"/><stop offset="0.064" stop-color="#dddddd"/><stop offset="0.127" stop-color="#cecece"/><stop offset="0.191" stop-color="#bebebe"/><stop offset="0.255" stop-color="#afafaf"/><stop offset="0.319" stop-color="#9f9f9f"/><stop offset="0.382" stop-color="#909090"/><stop offset="0.446" stop-color="#808080"/><stop offset="0.504" stop-color="#808080"/><stop offset="0.559" stop-color="#757575"/><stop offset="0.614" stop-color="#6f6f6f"/><stop offset="0.67" stop-color="#696969"/><stop offset="0.725" stop-color="#606060"/><stop offset="0.78" stop-color="#575757"/><stop offset="0.835" stop-color="#4f4f4f"/><stop offset="0.89" stop-color="#4a4a4a"/><stop offset="0.945" stop-color="#474747"/><stop offset="1" stop-color="#464646"/></linearGradient><linearGradient id="cc26" x1="0" y1="0" x2="0" y2="1"><stop offset="0" stop-color="#f5f5f5"/><stop offset="0.064" stop-color="#e6e6e6"/><stop offset="0.128" stop-color="#d8d8d8"/><stop offset="0.192" stop-color="#c8c8c8"/><stop offset="0.255" stop-color="#b9b9b9"/><stop offset="0.319" stop-color="#a8a8a8"/><stop offset="0.383" stop-color="#969696"/><stop offset="0.447" stop-color="#808080"/><stop offset="0.504" stop-color="#808080"/><stop offset="0.559" stop-color="#757575"/><stop offset="0.614" stop-color="#6f6f6f"/><stop offset="0.67" stop-color="#696969"/><stop offset="0.725" stop-color="#616161"/><stop offset="0.78" stop-color="#585858"/><stop offset="0.835" stop-color="#505050"/><stop offset="0.89" stop-color="#4b4b4b"/><stop offset="0.945" stop-color="#484848"/><stop offset="1" stop-color="#474747"/></linearGradient><linearGradient id="cc27" x1="0" y1="0" x2="0" y2="1"><stop offset="0" stop-color="#f6f6f6"/><stop offset="0.066" stop-color="#e9e9e9"/><stop offset="0.132" stop-color="#dbdbdb"/><stop offset="0.198" stop-color="#cccccc"/><stop offset="0.264" stop-color="#bdbdbd"/><stop offset="0.329" stop-color="#adadad"/><stop offset="0.395" stop-color="#9a9a9a"/><stop offset="0.461" stop-color="#808080"/><stop offset="0.504" stop-color="#808080"/><stop offset="0.559" stop-color="#757575"/><stop offset="0.614" stop-color="#6f6f6f"/><stop offset="0.67" stop-color="#696969"/><stop offset="0.725" stop-color="#616161"/><stop offset="0.78" stop-color="#585858"/><stop offset="0.835" stop-color="#505050"/><stop offset="0.89" stop-color="#4b4b4b"/><stop offset="0.945" stop-color="#494949"/><stop offset="1" stop-color="#474747"/></linearGradient><linearGradient id="cc28" x1="0" y1="0" x2="0" y2="1"><stop offset="0" stop-color="#fdfdfd"/><stop offset="0.066" stop-color="#f0f0f0"/><stop offset="0.132" stop-color="#e3e3e3"/><stop offset="0.198" stop-color="#d5d5d5"/><stop offset="0.264" stop-color="#c5c5c5"/><stop offset="0.33" stop-color="#b4b4b4"/><stop offset="0.396" stop-color="#a0a0a0"/><stop offset="0.462" stop-color="#808080"/><stop offset="0.504" stop-color="#808080"/><stop offset="0.559" stop-color="#767676"/><stop offset="0.614" stop-color="#707070"/><stop offset="0.67" stop-color="#6a6a6a"/><stop offset="0.725" stop-color="#626262"/><stop offset="0.78" stop-color="#5a5a5a"/><stop offset="0.835" stop-color="#535353"/><stop offset="0.89" stop-color="#4e4e4e"/><stop offset="0.945" stop-color="#4c4c4c"/><stop offset="1" stop-color="#4a4a4a"/></linearGradient><linearGradient id="cc29" x1="0" y1="0" x2="0" y2="1"><stop offset="0" stop-color="#ffffff"/><stop offset="0.067" stop-color="#f3f3f3"/><stop offset="0.134" stop-color="#e7e7e7"/><stop offset="0.201" stop-color="#dadada"/><stop offset="0.268" stop-color="#cbcbcb"/><stop offset="0.335" stop-color="#bbbbbb"/><stop offset="0.401" stop-color="#a6a6a6"/><stop offset="0.468" stop-color="#808080"/><stop offset="0.504" stop-color="#808080"/><stop offset="0.559" stop-color="#767676"/><stop offset="0.614" stop-color="#707070"/><stop offset="0.67" stop-color="#6a6a6a"/><stop offset="0.725" stop-color="#636363"/><stop offset="0.78" stop-color="#5a5a5a"/><stop offset="0.835" stop-color="#535353"/><stop offset="0.89" stop-color="#4e4e4e"/><stop offset="0.945" stop-color="#4b4b4b"/><stop offset="1" stop-color="#4a4a4a"/></linearGradient><linearGradient id="cc30" x1="0" y1="0" x2="0" y2="1"><stop offset="0" stop-color="#fcfcfc"/><stop offset="0.069" stop-color="#f2f2f2"/><stop offset="0.137" stop-color="#e7e7e7"/><stop offset="0.206" stop-color="#dbdbdb"/><stop offset="0.274" stop-color="#cdcdcd"/><stop offset="0.343" stop-color="#bdbdbd"/><stop offset="0.411" stop-color="#a9a9a9"/><stop offset="0.48" stop-color="#808080"/><stop offset="0.504" stop-color="#808080"/><stop offset="0.559" stop-color="#777777"/><stop offset="0.614" stop-color="#717171"/><stop offset="0.67" stop-color="#6c6c6c"/><stop offset="0.725" stop-color="#666666"/><stop offset="0.78" stop-color="#5e5e5e"/><stop offset="0.835" stop-color="#585858"/><stop offset="0.89" stop-color="#535353"/><stop offset="0.945" stop-color="#515151"/><stop offset="1" stop-color="#505050"/></linearGradient><linearGradient id="cc31" x1="0" y1="0" x2="0" y2="1"><stop offset="0" stop-color="#fcfcfc"/><stop offset="0.067" stop-color="#f2f2f2"/><stop offset="0.135" stop-color="#e7e7e7"/><stop offset="0.202" stop-color="#dcdcdc"/><stop offset="0.27" stop-color="#cecece"/><stop offset="0.337" stop-color="#bfbfbf"/><stop offset="0.405" stop-color="#ababab"/><stop offset="0.472" stop-color="#808080"/><stop offset="0.504" stop-color="#808080"/><stop offset="0.559" stop-color="#767676"/><stop offset="0.614" stop-color="#717171"/><stop offset="0.67" stop-color="#6c6c6c"/><stop offset="0.725" stop-color="#656565"/><stop offset="0.78" stop-color="#5d5d5d"/><stop offset="0.835" stop-color="#575757"/><stop offset="0.89" stop-color="#525252"/><stop offset="0.945" stop-color="#505050"/><stop offset="1" stop-color="#4e4e4e"/></linearGradient><linearGradient id="cc32" x1="0" y1="0" x2="0" y2="1"><stop offset="0" stop-color="#ffffff"/><stop offset="0.069" stop-color="#f6f6f6"/><stop offset="0.138" stop-color="#ebebeb"/><stop offset="0.207" stop-color="#e0e0e0"/><stop offset="0.276" stop-color="#d2d2d2"/><stop offset="0.345" stop-color="#c3c3c3"/><stop offset="0.414" stop-color="#afafaf"/><stop offset="0.483" stop-color="#808080"/><stop offset="0.504" stop-color="#808080"/><stop offset="0.559" stop-color="#777777"/><stop offset="0.614" stop-color="#717171"/><stop offset="0.67" stop-color="#6c6c6c"/><stop offset="0.725" stop-color="#666666"/><stop offset="0.78" stop-color="#5f5f5f"/><stop offset="0.835" stop-color="#595959"/><stop offset="0.89" stop-color="#555555"/><stop offset="0.945" stop-color="#525252"/><stop offset="1" stop-color="#515151"/></linearGradient><linearGradient id="cc33" x1="0" y1="0" x2="0" y2="1"><stop offset="0" stop-color="#ffffff"/><stop offset="0.068" stop-color="#f6f6f6"/><stop offset="0.136" stop-color="#ececec"/><stop offset="0.204" stop-color="#e1e1e1"/><stop offset="0.272" stop-color="#d4d4d4"/><stop offset="0.34" stop-color="#c5c5c5"/><stop offset="0.408" stop-color="#b1b1b1"/><stop offset="0.476" stop-color="#808080"/><stop offset="0.504" stop-color="#808080"/><stop offset="0.559" stop-color="#777777"/><stop offset="0.614" stop-color="#727272"/><stop offset="0.67" stop-color="#6c6c6c"/><stop offset="0.725" stop-color="#666666"/><stop offset="0.78" stop-color="#5f5f5f"/><stop offset="0.835" stop-color="#595959"/><stop offset="0.89" stop-color="#555555"/><stop offset="0.945" stop-color="#525252"/><stop offset="1" stop-color="#515151"/></linearGradient><linearGradient id="cc34" x1="0" y1="0" x2="0" y2="1"><stop offset="0" stop-color="#ffffff"/><stop offset="0.068" stop-color="#f7f7f7"/><stop offset="0.136" stop-color="#eeeeee"/><stop offset="0.205" stop-color="#e3e3e3"/><stop offset="0.273" stop-color="#d6d6d6"/><stop offset="0.341" stop-color="#c8c8c8"/><stop offset="0.409" stop-color="#b4b4b4"/><stop offset="0.477" stop-color="#808080"/><stop offset="0.504" stop-color="#808080"/><stop offset="0.559" stop-color="#777777"/><stop offset="0.614" stop-color="#727272"/><stop offset="0.67" stop-color="#6e6e6e"/><stop offset="0.725" stop-color="#686868"/><stop offset="0.78" stop-color="#616161"/><stop offset="0.835" stop-color="#5b5b5b"/><stop offset="0.89" stop-color="#575757"/><stop offset="0.945" stop-color="#555555"/><stop offset="1" stop-color="#535353"/></linearGradient><clipPath id="clip_c"><rect x="1569.3" y="42.5" width="405.8" height="231.2"/></clipPath><linearGradient id="cbg_c" x1="0" y1="0" x2="0" y2="1"><stop offset="0" stop-color="#67001f"/><stop offset="0.08" stop-color="#991027"/><stop offset="0.15" stop-color="#be3036"/><stop offset="0.23" stop-color="#d6604d"/><stop offset="0.31" stop-color="#ea8e70"/><stop offset="0.38" stop-color="#f7b799"/><stop offset="0.46" stop-color="#fddbc7"/><stop offset="0.54" stop-color="#f9eee7"/><stop offset="0.62" stop-color="#eaf1f5"/><stop offset="0.69" stop-color="#d1e5f0"/><stop offset="0.77" stop-color="#a7d0e4"/><stop offset="0.85" stop-color="#78b4d5"/><stop offset="0.92" stop-color="#4393c3"/><stop offset="1" stop-color="#2c75b4"/></linearGradient><linearGradient id="lg6" gradientUnits="userSpaceOnUse" x1="180.07" y1="0" x2="524.9" y2="0"><stop offset="0" stop-color="#fff" stop-opacity="0.336"/><stop offset="0.047" stop-color="#fff" stop-opacity="0.42"/><stop offset="0.494" stop-color="#fff" stop-opacity="0.42"/><stop offset="0.61" stop-color="#fff" stop-opacity="0.294"/><stop offset="0.753" stop-color="#fff" stop-opacity="0.189"/><stop offset="0.843" stop-color="#fff" stop-opacity="0.168"/><stop offset="1" stop-color="#fff" stop-opacity="0.126"/></linearGradient><linearGradient id="lg7" gradientUnits="userSpaceOnUse" x1="180.07" y1="0" x2="524.9" y2="0"><stop offset="0" stop-color="#fff" stop-opacity="0.8"/><stop offset="0.047" stop-color="#fff" stop-opacity="1"/><stop offset="0.494" stop-color="#fff" stop-opacity="1"/><stop offset="0.61" stop-color="#fff" stop-opacity="0.7"/><stop offset="0.753" stop-color="#fff" stop-opacity="0.45"/><stop offset="0.843" stop-color="#fff" stop-opacity="0.4"/><stop offset="1" stop-color="#fff" stop-opacity="0.3"/></linearGradient><linearGradient id="lg8" gradientUnits="userSpaceOnUse" x1="190.1" y1="0" x2="520.89" y2="0"><stop offset="0" stop-color="#fff" stop-opacity="0.067"/><stop offset="0.232" stop-color="#fff" stop-opacity="0.101"/><stop offset="0.339" stop-color="#fff" stop-opacity="0.189"/><stop offset="0.485" stop-color="#fff" stop-opacity="0.336"/><stop offset="0.606" stop-color="#fff" stop-opacity="0.42"/><stop offset="1" stop-color="#fff" stop-opacity="0.42"/></linearGradient><linearGradient id="lg9" gradientUnits="userSpaceOnUse" x1="190.1" y1="0" x2="520.89" y2="0"><stop offset="0" stop-color="#fff" stop-opacity="0.16"/><stop offset="0.232" stop-color="#fff" stop-opacity="0.24"/><stop offset="0.339" stop-color="#fff" stop-opacity="0.45"/><stop offset="0.485" stop-color="#fff" stop-opacity="0.8"/><stop offset="0.606" stop-color="#fff" stop-opacity="1"/><stop offset="1" stop-color="#fff" stop-opacity="1"/></linearGradient><filter id="cm_dn" x="0" y="0" width="1" height="1" color-interpolation-filters="sRGB"><feTurbulence type="fractalNoise" baseFrequency="0.28 0.32" numOctaves="1" seed="21" result="n"/><feColorMatrix in="n" type="matrix" values="1 0 0 0 0 1 0 0 0 0 1 0 0 0 0 0 0 0 0 1" result="ng"/><feComposite in="SourceGraphic" in2="ng" operator="arithmetic" k1="0" k2="1" k3="0.04" k4="-0.02" result="mix"/><feComponentTransfer in="mix"><feFuncR type="table" tableValues="0.001 0.006 0.014 0.025 0.040 0.057 0.074 0.093 0.113 0.135 0.159 0.185 0.212 0.239 0.265 0.291 0.317 0.341 0.366 0.390 0.415 0.439 0.464 0.488 0.513 0.538 0.563 0.588 0.614 0.639 0.665 0.691 0.716 0.742 0.767 0.792 0.817 0.841 0.863 0.885 0.904 0.922 0.937 0.950 0.961 0.970 0.977 0.982 0.987 0.990 0.993 0.995 0.996 0.997 0.997 0.997 0.997 0.996 0.995 0.994 0.992 0.991 0.989 0.988 0.987"/><feFuncG type="table" tableValues="0.000 0.005 0.012 0.021 0.031 0.042 0.052 0.060 0.065 0.068 0.068 0.066 0.062 0.060 0.060 0.065 0.072 0.081 0.090 0.100 0.110 0.120 0.130 0.139 0.148 0.157 0.165 0.174 0.182 0.190 0.198 0.206 0.215 0.224 0.234 0.244 0.256 0.269 0.284 0.301 0.320 0.341 0.365 0.391 0.418 0.447 0.476 0.506 0.536 0.565 0.595 0.624 0.654 0.683 0.712 0.741 0.770 0.798 0.827 0.856 0.884 0.913 0.941 0.970 0.991"/><feFuncB type="table" tableValues="0.014 0.037 0.069 0.101 0.134 0.167 0.203 0.239 0.277 0.315 0.353 0.388 0.419 0.443 0.462 0.475 0.485 0.493 0.498 0.502 0.505 0.507 0.508 0.508 0.508 0.507 0.505 0.502 0.499 0.494 0.489 0.483 0.475 0.467 0.458 0.448 0.436 0.425 0.412 0.400 0.388 0.377 0.369 0.362 0.360 0.360 0.364 0.372 0.382 0.395 0.410 0.427 0.446 0.467 0.488 0.511 0.535 0.560 0.586 0.612 0.640 0.668 0.698 0.727 0.750"/></feComponentTransfer></filter><filter id="bd_glow" x="-0.2" y="-0.2" width="1.4" height="1.4" color-interpolation-filters="sRGB"><feGaussianBlur stdDeviation="4.5 11"/></filter><filter id="bd_core" x="-0.2" y="-0.2" width="1.4" height="1.4" color-interpolation-filters="sRGB"><feGaussianBlur stdDeviation="1.8 4.6"/></filter><clipPath id="clip_d"><rect x="154" y="409.7" width="406.2" height="230.6"/></clipPath><linearGradient id="cbg_d" x1="0" y1="0" x2="0" y2="1"><stop offset="0" stop-color="#fcfdbf"/><stop offset="0.08" stop-color="#fdda9c"/><stop offset="0.15" stop-color="#feb67c"/><stop offset="0.23" stop-color="#fc9065"/><stop offset="0.31" stop-color="#f66c5c"/><stop offset="0.38" stop-color="#e34e65"/><stop offset="0.46" stop-color="#c53c74"/><stop offset="0.54" stop-color="#a6317d"/><stop offset="0.62" stop-color="#862781"/><stop offset="0.69" stop-color="#671b80"/><stop offset="0.77" stop-color="#491078"/><stop offset="0.85" stop-color="#271258"/><stop offset="0.92" stop-color="#0d0a29"/><stop offset="1" stop-color="#000004"/></linearGradient><linearGradient id="lg10" gradientUnits="userSpaceOnUse" x1="916.14" y1="0" x2="1110.61" y2="0"><stop offset="0" stop-color="#fff" stop-opacity="0.035"/><stop offset="0.052" stop-color="#fff" stop-opacity="0.087"/><stop offset="0.144" stop-color="#fff" stop-opacity="0.245"/><stop offset="0.227" stop-color="#fff" stop-opacity="0.35"/><stop offset="0.309" stop-color="#fff" stop-opacity="0.35"/><stop offset="0.392" stop-color="#fff" stop-opacity="0.35"/><stop offset="0.454" stop-color="#fff" stop-opacity="0.35"/><stop offset="0.515" stop-color="#fff" stop-opacity="0.35"/><stop offset="0.577" stop-color="#fff" stop-opacity="0.332"/><stop offset="0.649" stop-color="#fff" stop-opacity="0.297"/><stop offset="0.732" stop-color="#fff" stop-opacity="0.21"/><stop offset="0.825" stop-color="#fff" stop-opacity="0.105"/><stop offset="0.928" stop-color="#fff" stop-opacity="0.042"/><stop offset="1" stop-color="#fff" stop-opacity="0.017"/></linearGradient><linearGradient id="lg11" gradientUnits="userSpaceOnUse" x1="916.14" y1="0" x2="1110.61" y2="0"><stop offset="0" stop-color="#fff" stop-opacity="0.1"/><stop offset="0.052" stop-color="#fff" stop-opacity="0.25"/><stop offset="0.144" stop-color="#fff" stop-opacity="0.7"/><stop offset="0.227" stop-color="#fff" stop-opacity="1"/><stop offset="0.309" stop-color="#fff" stop-opacity="1"/><stop offset="0.392" stop-color="#fff" stop-opacity="1"/><stop offset="0.454" stop-color="#fff" stop-opacity="1"/><stop offset="0.515" stop-color="#fff" stop-opacity="1"/><stop offset="0.577" stop-color="#fff" stop-opacity="0.95"/><stop offset="0.649" stop-color="#fff" stop-opacity="0.85"/><stop offset="0.732" stop-color="#fff" stop-opacity="0.6"/><stop offset="0.825" stop-color="#fff" stop-opacity="0.3"/><stop offset="0.928" stop-color="#fff" stop-opacity="0.12"/><stop offset="1" stop-color="#fff" stop-opacity="0.05"/></linearGradient><linearGradient id="lg12" gradientUnits="userSpaceOnUse" x1="1020.39" y1="0" x2="1232.9" y2="0"><stop offset="0" stop-color="#fff" stop-opacity="0.01"/><stop offset="0.075" stop-color="#fff" stop-opacity="0.035"/><stop offset="0.151" stop-color="#fff" stop-opacity="0.087"/><stop offset="0.245" stop-color="#fff" stop-opacity="0.175"/><stop offset="0.358" stop-color="#fff" stop-opacity="0.262"/><stop offset="0.453" stop-color="#fff" stop-opacity="0.315"/><stop offset="0.528" stop-color="#fff" stop-opacity="0.35"/><stop offset="0.594" stop-color="#fff" stop-opacity="0.35"/><stop offset="0.66" stop-color="#fff" stop-opacity="0.35"/><stop offset="0.726" stop-color="#fff" stop-opacity="0.35"/><stop offset="0.792" stop-color="#fff" stop-opacity="0.35"/><stop offset="0.858" stop-color="#fff" stop-opacity="0.35"/><stop offset="0.925" stop-color="#fff" stop-opacity="0.28"/><stop offset="1" stop-color="#fff" stop-opacity="0.14"/></linearGradient><linearGradient id="lg13" gradientUnits="userSpaceOnUse" x1="1020.39" y1="0" x2="1232.9" y2="0"><stop offset="0" stop-color="#fff" stop-opacity="0.03"/><stop offset="0.075" stop-color="#fff" stop-opacity="0.1"/><stop offset="0.151" stop-color="#fff" stop-opacity="0.25"/><stop offset="0.245" stop-color="#fff" stop-opacity="0.5"/><stop offset="0.358" stop-color="#fff" stop-opacity="0.75"/><stop offset="0.453" stop-color="#fff" stop-opacity="0.9"/><stop offset="0.528" stop-color="#fff" stop-opacity="1"/><stop offset="0.594" stop-color="#fff" stop-opacity="1"/><stop offset="0.66" stop-color="#fff" stop-opacity="1"/><stop offset="0.726" stop-color="#fff" stop-opacity="1"/><stop offset="0.792" stop-color="#fff" stop-opacity="1"/><stop offset="0.858" stop-color="#fff" stop-opacity="1"/><stop offset="0.925" stop-color="#fff" stop-opacity="0.8"/><stop offset="1" stop-color="#fff" stop-opacity="0.4"/></linearGradient><filter id="bg_e" x="-0.2" y="-0.2" width="1.4" height="1.4" color-interpolation-filters="sRGB"><feGaussianBlur stdDeviation="4.5 10"/></filter><filter id="bc_e" x="-0.2" y="-0.2" width="1.4" height="1.4" color-interpolation-filters="sRGB"><feGaussianBlur stdDeviation="2.2 4.3"/></filter><clipPath id="clip_e"><rect x="860.3" y="409.7" width="406.05" height="230.6"/></clipPath><linearGradient id="cbg_e" x1="0" y1="0" x2="0" y2="1"><stop offset="0" stop-color="#fcfdbf"/><stop offset="0.08" stop-color="#fdda9c"/><stop offset="0.15" stop-color="#feb67c"/><stop offset="0.23" stop-color="#fc9065"/><stop offset="0.31" stop-color="#f66c5c"/><stop offset="0.38" stop-color="#e34e65"/><stop offset="0.46" stop-color="#c53c74"/><stop offset="0.54" stop-color="#a6317d"/><stop offset="0.62" stop-color="#862781"/><stop offset="0.69" stop-color="#671b80"/><stop offset="0.77" stop-color="#491078"/><stop offset="0.85" stop-color="#271258"/><stop offset="0.92" stop-color="#0d0a29"/><stop offset="1" stop-color="#000004"/></linearGradient><linearGradient id="lg14" gradientUnits="userSpaceOnUse" x1="1555.98" y1="0" x2="1985.01" y2="0"><stop offset="0" stop-color="#fff" stop-opacity="0.28"/><stop offset="0.033" stop-color="#fff" stop-opacity="0.28"/><stop offset="0.089" stop-color="#fff" stop-opacity="0.288"/><stop offset="0.15" stop-color="#fff" stop-opacity="0.32"/><stop offset="0.206" stop-color="#fff" stop-opacity="0.38"/><stop offset="0.262" stop-color="#fff" stop-opacity="0.312"/><stop offset="0.322" stop-color="#fff" stop-opacity="0.288"/><stop offset="0.393" stop-color="#fff" stop-opacity="0.28"/><stop offset="0.463" stop-color="#fff" stop-opacity="0.28"/><stop offset="0.533" stop-color="#fff" stop-opacity="0.272"/><stop offset="0.603" stop-color="#fff" stop-opacity="0.272"/><stop offset="0.673" stop-color="#fff" stop-opacity="0.28"/><stop offset="0.72" stop-color="#fff" stop-opacity="0.296"/><stop offset="0.79" stop-color="#fff" stop-opacity="0.288"/><stop offset="0.86" stop-color="#fff" stop-opacity="0.288"/><stop offset="0.93" stop-color="#fff" stop-opacity="0.28"/><stop offset="0.974" stop-color="#fff" stop-opacity="0.272"/><stop offset="1" stop-color="#fff" stop-opacity="0.272"/></linearGradient><linearGradient id="lg15" gradientUnits="userSpaceOnUse" x1="1555.98" y1="0" x2="1985.01" y2="0"><stop offset="0" stop-color="#fff" stop-opacity="0.7"/><stop offset="0.033" stop-color="#fff" stop-opacity="0.7"/><stop offset="0.089" stop-color="#fff" stop-opacity="0.72"/><stop offset="0.15" stop-color="#fff" stop-opacity="0.8"/><stop offset="0.206" stop-color="#fff" stop-opacity="0.95"/><stop offset="0.262" stop-color="#fff" stop-opacity="0.78"/><stop offset="0.322" stop-color="#fff" stop-opacity="0.72"/><stop offset="0.393" stop-color="#fff" stop-opacity="0.7"/><stop offset="0.463" stop-color="#fff" stop-opacity="0.7"/><stop offset="0.533" stop-color="#fff" stop-opacity="0.68"/><stop offset="0.603" stop-color="#fff" stop-opacity="0.68"/><stop offset="0.673" stop-color="#fff" stop-opacity="0.7"/><stop offset="0.72" stop-color="#fff" stop-opacity="0.74"/><stop offset="0.79" stop-color="#fff" stop-opacity="0.72"/><stop offset="0.86" stop-color="#fff" stop-opacity="0.72"/><stop offset="0.93" stop-color="#fff" stop-opacity="0.7"/><stop offset="0.974" stop-color="#fff" stop-opacity="0.68"/><stop offset="1" stop-color="#fff" stop-opacity="0.68"/></linearGradient><linearGradient id="lg16" gradientUnits="userSpaceOnUse" x1="1555.98" y1="0" x2="1985.01" y2="0"><stop offset="0" stop-color="#fff" stop-opacity="0.28"/><stop offset="0.033" stop-color="#fff" stop-opacity="0.28"/><stop offset="0.089" stop-color="#fff" stop-opacity="0.28"/><stop offset="0.15" stop-color="#fff" stop-opacity="0.304"/><stop offset="0.206" stop-color="#fff" stop-opacity="0.38"/><stop offset="0.262" stop-color="#fff" stop-opacity="0.296"/><stop offset="0.322" stop-color="#fff" stop-opacity="0.264"/><stop offset="0.383" stop-color="#fff" stop-opacity="0.224"/><stop offset="0.439" stop-color="#fff" stop-opacity="0.184"/><stop offset="0.509" stop-color="#fff" stop-opacity="0.152"/><stop offset="0.579" stop-color="#fff" stop-opacity="0.132"/><stop offset="0.65" stop-color="#fff" stop-opacity="0.12"/><stop offset="0.72" stop-color="#fff" stop-opacity="0.144"/><stop offset="0.79" stop-color="#fff" stop-opacity="0.132"/><stop offset="0.86" stop-color="#fff" stop-opacity="0.12"/><stop offset="0.93" stop-color="#fff" stop-opacity="0.112"/><stop offset="0.974" stop-color="#fff" stop-opacity="0.104"/><stop offset="1" stop-color="#fff" stop-opacity="0.104"/></linearGradient><linearGradient id="lg17" gradientUnits="userSpaceOnUse" x1="1555.98" y1="0" x2="1985.01" y2="0"><stop offset="0" stop-color="#fff" stop-opacity="0.7"/><stop offset="0.033" stop-color="#fff" stop-opacity="0.7"/><stop offset="0.089" stop-color="#fff" stop-opacity="0.7"/><stop offset="0.15" stop-color="#fff" stop-opacity="0.76"/><stop offset="0.206" stop-color="#fff" stop-opacity="0.95"/><stop offset="0.262" stop-color="#fff" stop-opacity="0.74"/><stop offset="0.322" stop-color="#fff" stop-opacity="0.66"/><stop offset="0.383" stop-color="#fff" stop-opacity="0.56"/><stop offset="0.439" stop-color="#fff" stop-opacity="0.46"/><stop offset="0.509" stop-color="#fff" stop-opacity="0.38"/><stop offset="0.579" stop-color="#fff" stop-opacity="0.33"/><stop offset="0.65" stop-color="#fff" stop-opacity="0.3"/><stop offset="0.72" stop-color="#fff" stop-opacity="0.36"/><stop offset="0.79" stop-color="#fff" stop-opacity="0.33"/><stop offset="0.86" stop-color="#fff" stop-opacity="0.3"/><stop offset="0.93" stop-color="#fff" stop-opacity="0.28"/><stop offset="0.974" stop-color="#fff" stop-opacity="0.26"/><stop offset="1" stop-color="#fff" stop-opacity="0.26"/></linearGradient><linearGradient id="lg18" gradientUnits="userSpaceOnUse" x1="1684.29" y1="0" x2="1985.01" y2="0"><stop offset="0" stop-color="#fff" stop-opacity="0.016"/><stop offset="0.133" stop-color="#fff" stop-opacity="0.04"/><stop offset="0.267" stop-color="#fff" stop-opacity="0.072"/><stop offset="0.4" stop-color="#fff" stop-opacity="0.108"/><stop offset="0.533" stop-color="#fff" stop-opacity="0.132"/><stop offset="0.633" stop-color="#fff" stop-opacity="0.16"/><stop offset="0.733" stop-color="#fff" stop-opacity="0.184"/><stop offset="0.833" stop-color="#fff" stop-opacity="0.224"/><stop offset="0.9" stop-color="#fff" stop-opacity="0.248"/><stop offset="0.963" stop-color="#fff" stop-opacity="0.264"/><stop offset="1" stop-color="#fff" stop-opacity="0.264"/></linearGradient><linearGradient id="lg19" gradientUnits="userSpaceOnUse" x1="1684.29" y1="0" x2="1985.01" y2="0"><stop offset="0" stop-color="#fff" stop-opacity="0.04"/><stop offset="0.133" stop-color="#fff" stop-opacity="0.1"/><stop offset="0.267" stop-color="#fff" stop-opacity="0.18"/><stop offset="0.4" stop-color="#fff" stop-opacity="0.27"/><stop offset="0.533" stop-color="#fff" stop-opacity="0.33"/><stop offset="0.633" stop-color="#fff" stop-opacity="0.4"/><stop offset="0.733" stop-color="#fff" stop-opacity="0.46"/><stop offset="0.833" stop-color="#fff" stop-opacity="0.56"/><stop offset="0.9" stop-color="#fff" stop-opacity="0.62"/><stop offset="0.963" stop-color="#fff" stop-opacity="0.66"/><stop offset="1" stop-color="#fff" stop-opacity="0.66"/></linearGradient><linearGradient id="lg20" gradientUnits="userSpaceOnUse" x1="1555.98" y1="0" x2="1654.22" y2="0"><stop offset="0" stop-color="#fff" stop-opacity="0.16"/><stop offset="0.143" stop-color="#fff" stop-opacity="0.152"/><stop offset="0.49" stop-color="#fff" stop-opacity="0.1"/><stop offset="0.796" stop-color="#fff" stop-opacity="0.04"/><stop offset="1" stop-color="#fff" stop-opacity="0.012"/></linearGradient><linearGradient id="lg21" gradientUnits="userSpaceOnUse" x1="1555.98" y1="0" x2="1654.22" y2="0"><stop offset="0" stop-color="#fff" stop-opacity="0.4"/><stop offset="0.143" stop-color="#fff" stop-opacity="0.38"/><stop offset="0.49" stop-color="#fff" stop-opacity="0.25"/><stop offset="0.796" stop-color="#fff" stop-opacity="0.1"/><stop offset="1" stop-color="#fff" stop-opacity="0.03"/></linearGradient><filter id="bg_f" x="-0.2" y="-0.2" width="1.4" height="1.4" color-interpolation-filters="sRGB"><feGaussianBlur stdDeviation="7 12"/></filter><filter id="bc_f" x="-0.2" y="-0.2" width="1.4" height="1.4" color-interpolation-filters="sRGB"><feGaussianBlur stdDeviation="2.5 4.6"/></filter><clipPath id="clip_f"><rect x="1569.3" y="409.7" width="405.8" height="230.6"/></clipPath><linearGradient id="cbg_f" x1="0" y1="0" x2="0" y2="1"><stop offset="0" stop-color="#fcfdbf"/><stop offset="0.08" stop-color="#fdda9c"/><stop offset="0.15" stop-color="#feb67c"/><stop offset="0.23" stop-color="#fc9065"/><stop offset="0.31" stop-color="#f66c5c"/><stop offset="0.38" stop-color="#e34e65"/><stop offset="0.46" stop-color="#c53c74"/><stop offset="0.54" stop-color="#a6317d"/><stop offset="0.62" stop-color="#862781"/><stop offset="0.69" stop-color="#671b80"/><stop offset="0.77" stop-color="#491078"/><stop offset="0.85" stop-color="#271258"/><stop offset="0.92" stop-color="#0d0a29"/><stop offset="1" stop-color="#000004"/></linearGradient><filter id="bcol_g" x="-0.2" y="-0.2" width="1.4" height="1.4" color-interpolation-filters="sRGB"><feGaussianBlur stdDeviation="0 3.6"/></filter><filter id="bcol_gg" x="-0.2" y="-0.2" width="1.4" height="1.4" color-interpolation-filters="sRGB"><feGaussianBlur stdDeviation="0 8"/></filter><clipPath id="clip_g"><rect x="154" y="766.3" width="406.2" height="230.9"/></clipPath><linearGradient id="cbg_g" x1="0" y1="0" x2="0" y2="1"><stop offset="0" stop-color="#67001f"/><stop offset="0.08" stop-color="#810823"/><stop offset="0.15" stop-color="#9f1228"/><stop offset="0.23" stop-color="#b72230"/><stop offset="0.31" stop-color="#c53e3d"/><stop offset="0.38" stop-color="#d35a4a"/><stop offset="0.46" stop-color="#df765e"/><stop offset="0.54" stop-color="#ea8e70"/><stop offset="0.62" stop-color="#f5a886"/><stop offset="0.69" stop-color="#f8bda1"/><stop offset="0.77" stop-color="#fcd3bc"/><stop offset="0.85" stop-color="#fce2d2"/><stop offset="0.92" stop-color="#f9ede5"/><stop offset="1" stop-color="#f7f6f6"/></linearGradient><filter id="bcol_h" x="-0.2" y="-0.2" width="1.4" height="1.4" color-interpolation-filters="sRGB"><feGaussianBlur stdDeviation="0 3"/></filter><filter id="bcol_hg" x="-0.2" y="-0.2" width="1.4" height="1.4" color-interpolation-filters="sRGB"><feGaussianBlur stdDeviation="0 7"/></filter><filter id="bv05" x="-0.2" y="-0.2" width="1.4" height="1.4" color-interpolation-filters="sRGB"><feGaussianBlur stdDeviation="0 0.5"/></filter><clipPath id="clip_h"><rect x="860.3" y="766.3" width="406.05" height="230.9"/></clipPath><linearGradient id="cbg_h" x1="0" y1="0" x2="0" y2="1"><stop offset="0" stop-color="#67001f"/><stop offset="0.08" stop-color="#810823"/><stop offset="0.15" stop-color="#9f1228"/><stop offset="0.23" stop-color="#b72230"/><stop offset="0.31" stop-color="#c53e3d"/><stop offset="0.38" stop-color="#d35a4a"/><stop offset="0.46" stop-color="#df765e"/><stop offset="0.54" stop-color="#ea8e70"/><stop offset="0.62" stop-color="#f5a886"/><stop offset="0.69" stop-color="#f8bda1"/><stop offset="0.77" stop-color="#fcd3bc"/><stop offset="0.85" stop-color="#fce2d2"/><stop offset="0.92" stop-color="#f9ede5"/><stop offset="1" stop-color="#f7f6f6"/></linearGradient><filter id="bcol_i" x="-0.2" y="-0.2" width="1.4" height="1.4" color-interpolation-filters="sRGB"><feGaussianBlur stdDeviation="0 3.4"/></filter><filter id="bcol_ig" x="-0.2" y="-0.2" width="1.4" height="1.4" color-interpolation-filters="sRGB"><feGaussianBlur stdDeviation="0 8"/></filter><clipPath id="clip_i"><rect x="1569.3" y="766.3" width="405.8" height="230.9"/></clipPath><linearGradient id="cbg_i" x1="0" y1="0" x2="0" y2="1"><stop offset="0" stop-color="#67001f"/><stop offset="0.08" stop-color="#810823"/><stop offset="0.15" stop-color="#9f1228"/><stop offset="0.23" stop-color="#b72230"/><stop offset="0.31" stop-color="#c53e3d"/><stop offset="0.38" stop-color="#d35a4a"/><stop offset="0.46" stop-color="#df765e"/><stop offset="0.54" stop-color="#ea8e70"/><stop offset="0.62" stop-color="#f5a886"/><stop offset="0.69" stop-color="#f8bda1"/><stop offset="0.77" stop-color="#fcd3bc"/><stop offset="0.85" stop-color="#fce2d2"/><stop offset="0.92" stop-color="#f9ede5"/><stop offset="1" stop-color="#f7f6f6"/></linearGradient><linearGradient id="lg22" gradientUnits="userSpaceOnUse" x1="0" y1="1120.98" x2="0" y2="1377.6"><stop offset="0" stop-color="#fff" stop-opacity="0.161"/><stop offset="0.055" stop-color="#fff" stop-opacity="0.161"/><stop offset="0.148" stop-color="#fff" stop-opacity="0.175"/><stop offset="0.25" stop-color="#fff" stop-opacity="0.184"/><stop offset="0.344" stop-color="#fff" stop-opacity="0.207"/><stop offset="0.437" stop-color="#fff" stop-opacity="0.23"/><stop offset="0.516" stop-color="#fff" stop-opacity="0.253"/><stop offset="0.578" stop-color="#fff" stop-opacity="0.258"/><stop offset="0.633" stop-color="#fff" stop-opacity="0.253"/><stop offset="0.695" stop-color="#fff" stop-opacity="0.23"/><stop offset="0.773" stop-color="#fff" stop-opacity="0.207"/><stop offset="0.852" stop-color="#fff" stop-opacity="0.193"/><stop offset="0.945" stop-color="#fff" stop-opacity="0.184"/><stop offset="1" stop-color="#fff" stop-opacity="0.184"/></linearGradient><linearGradient id="lg23" gradientUnits="userSpaceOnUse" x1="0" y1="1120.98" x2="0" y2="1377.6"><stop offset="0" stop-color="#fff" stop-opacity="0.322"/><stop offset="0.055" stop-color="#fff" stop-opacity="0.322"/><stop offset="0.148" stop-color="#fff" stop-opacity="0.35"/><stop offset="0.25" stop-color="#fff" stop-opacity="0.368"/><stop offset="0.344" stop-color="#fff" stop-opacity="0.414"/><stop offset="0.437" stop-color="#fff" stop-opacity="0.46"/><stop offset="0.516" stop-color="#fff" stop-opacity="0.506"/><stop offset="0.578" stop-color="#fff" stop-opacity="0.515"/><stop offset="0.633" stop-color="#fff" stop-opacity="0.506"/><stop offset="0.695" stop-color="#fff" stop-opacity="0.46"/><stop offset="0.773" stop-color="#fff" stop-opacity="0.414"/><stop offset="0.852" stop-color="#fff" stop-opacity="0.386"/><stop offset="0.945" stop-color="#fff" stop-opacity="0.368"/><stop offset="1" stop-color="#fff" stop-opacity="0.368"/></linearGradient><linearGradient id="lg24" gradientUnits="userSpaceOnUse" x1="0" y1="1120.98" x2="0" y2="1377.6"><stop offset="0" stop-color="#fff" stop-opacity="0.425"/><stop offset="0.055" stop-color="#fff" stop-opacity="0.425"/><stop offset="0.148" stop-color="#fff" stop-opacity="0.45"/><stop offset="0.25" stop-color="#fff" stop-opacity="0.475"/><stop offset="0.344" stop-color="#fff" stop-opacity="0.5"/><stop offset="0.422" stop-color="#fff" stop-opacity="0.5"/><stop offset="0.492" stop-color="#fff" stop-opacity="0.48"/><stop offset="0.562" stop-color="#fff" stop-opacity="0.44"/><stop offset="0.617" stop-color="#fff" stop-opacity="0.41"/><stop offset="0.695" stop-color="#fff" stop-opacity="0.4"/><stop offset="0.773" stop-color="#fff" stop-opacity="0.38"/><stop offset="0.852" stop-color="#fff" stop-opacity="0.365"/><stop offset="0.945" stop-color="#fff" stop-opacity="0.35"/><stop offset="1" stop-color="#fff" stop-opacity="0.35"/></linearGradient><linearGradient id="lg25" gradientUnits="userSpaceOnUse" x1="0" y1="1120.98" x2="0" y2="1377.6"><stop offset="0" stop-color="#fff" stop-opacity="0.85"/><stop offset="0.055" stop-color="#fff" stop-opacity="0.85"/><stop offset="0.148" stop-color="#fff" stop-opacity="0.9"/><stop offset="0.25" stop-color="#fff" stop-opacity="0.95"/><stop offset="0.344" stop-color="#fff" stop-opacity="1"/><stop offset="0.422" stop-color="#fff" stop-opacity="1"/><stop offset="0.492" stop-color="#fff" stop-opacity="0.96"/><stop offset="0.562" stop-color="#fff" stop-opacity="0.88"/><stop offset="0.617" stop-color="#fff" stop-opacity="0.82"/><stop offset="0.695" stop-color="#fff" stop-opacity="0.8"/><stop offset="0.773" stop-color="#fff" stop-opacity="0.76"/><stop offset="0.852" stop-color="#fff" stop-opacity="0.73"/><stop offset="0.945" stop-color="#fff" stop-opacity="0.7"/><stop offset="1" stop-color="#fff" stop-opacity="0.7"/></linearGradient><filter id="bg_j" x="-0.2" y="-0.2" width="1.4" height="1.4" color-interpolation-filters="sRGB"><feGaussianBlur stdDeviation="9 2"/></filter><filter id="bc_j" x="-0.2" y="-0.2" width="1.4" height="1.4" color-interpolation-filters="sRGB"><feGaussianBlur stdDeviation="3.2 1"/></filter><clipPath id="clip_j"><rect x="154" y="1134.1" width="406.2" height="231.1"/></clipPath><linearGradient id="cbg_j" x1="0" y1="0" x2="0" y2="1"><stop offset="0" stop-color="#fcfdbf"/><stop offset="0.08" stop-color="#fdda9c"/><stop offset="0.15" stop-color="#feb67c"/><stop offset="0.23" stop-color="#fc9065"/><stop offset="0.31" stop-color="#f66c5c"/><stop offset="0.38" stop-color="#e34e65"/><stop offset="0.46" stop-color="#c53c74"/><stop offset="0.54" stop-color="#a6317d"/><stop offset="0.62" stop-color="#862781"/><stop offset="0.69" stop-color="#671b80"/><stop offset="0.77" stop-color="#491078"/><stop offset="0.85" stop-color="#271258"/><stop offset="0.92" stop-color="#0d0a29"/><stop offset="1" stop-color="#000004"/></linearGradient><linearGradient id="lg26" gradientUnits="userSpaceOnUse" x1="0" y1="1120.98" x2="0" y2="1272.54"><stop offset="0" stop-color="#fff" stop-opacity="0.285"/><stop offset="0.093" stop-color="#fff" stop-opacity="0.285"/><stop offset="0.251" stop-color="#fff" stop-opacity="0.285"/><stop offset="0.437" stop-color="#fff" stop-opacity="0.3"/><stop offset="0.608" stop-color="#fff" stop-opacity="0.285"/><stop offset="0.767" stop-color="#fff" stop-opacity="0.27"/><stop offset="0.899" stop-color="#fff" stop-opacity="0.255"/><stop offset="1" stop-color="#fff" stop-opacity="0.24"/></linearGradient><linearGradient id="lg27" gradientUnits="userSpaceOnUse" x1="0" y1="1120.98" x2="0" y2="1272.54"><stop offset="0" stop-color="#fff" stop-opacity="0.95"/><stop offset="0.093" stop-color="#fff" stop-opacity="0.95"/><stop offset="0.251" stop-color="#fff" stop-opacity="0.95"/><stop offset="0.437" stop-color="#fff" stop-opacity="1"/><stop offset="0.608" stop-color="#fff" stop-opacity="0.95"/><stop offset="0.767" stop-color="#fff" stop-opacity="0.9"/><stop offset="0.899" stop-color="#fff" stop-opacity="0.85"/><stop offset="1" stop-color="#fff" stop-opacity="0.8"/></linearGradient><linearGradient id="lg28" gradientUnits="userSpaceOnUse" x1="0" y1="1120.98" x2="0" y2="1272.54"><stop offset="0" stop-color="#fff" stop-opacity="0.225"/><stop offset="0.093" stop-color="#fff" stop-opacity="0.225"/><stop offset="0.251" stop-color="#fff" stop-opacity="0.24"/><stop offset="0.437" stop-color="#fff" stop-opacity="0.24"/><stop offset="0.608" stop-color="#fff" stop-opacity="0.24"/><stop offset="0.767" stop-color="#fff" stop-opacity="0.228"/><stop offset="0.899" stop-color="#fff" stop-opacity="0.21"/><stop offset="1" stop-color="#fff" stop-opacity="0.186"/></linearGradient><linearGradient id="lg29" gradientUnits="userSpaceOnUse" x1="0" y1="1120.98" x2="0" y2="1272.54"><stop offset="0" stop-color="#fff" stop-opacity="0.75"/><stop offset="0.093" stop-color="#fff" stop-opacity="0.75"/><stop offset="0.251" stop-color="#fff" stop-opacity="0.8"/><stop offset="0.437" stop-color="#fff" stop-opacity="0.8"/><stop offset="0.608" stop-color="#fff" stop-opacity="0.8"/><stop offset="0.767" stop-color="#fff" stop-opacity="0.76"/><stop offset="0.899" stop-color="#fff" stop-opacity="0.7"/><stop offset="1" stop-color="#fff" stop-opacity="0.62"/></linearGradient><filter id="bg_k1" x="-0.2" y="-0.2" width="1.4" height="1.4" color-interpolation-filters="sRGB"><feGaussianBlur stdDeviation="5 1"/></filter><filter id="bc_k1" x="-0.2" y="-0.2" width="1.4" height="1.4" color-interpolation-filters="sRGB"><feGaussianBlur stdDeviation="1.8 0.6"/></filter><linearGradient id="lg30" gradientUnits="userSpaceOnUse" x1="0" y1="1272.54" x2="0" y2="1375.59"><stop offset="0" stop-color="#fff" stop-opacity="0.315"/><stop offset="0.144" stop-color="#fff" stop-opacity="0.297"/><stop offset="0.28" stop-color="#fff" stop-opacity="0.315"/><stop offset="0.455" stop-color="#fff" stop-opacity="0.36"/><stop offset="0.65" stop-color="#fff" stop-opacity="0.405"/><stop offset="0.805" stop-color="#fff" stop-opacity="0.427"/><stop offset="0.893" stop-color="#fff" stop-opacity="0.45"/><stop offset="1" stop-color="#fff" stop-opacity="0.45"/></linearGradient><linearGradient id="lg31" gradientUnits="userSpaceOnUse" x1="0" y1="1272.54" x2="0" y2="1375.59"><stop offset="0" stop-color="#fff" stop-opacity="0.7"/><stop offset="0.144" stop-color="#fff" stop-opacity="0.66"/><stop offset="0.28" stop-color="#fff" stop-opacity="0.7"/><stop offset="0.455" stop-color="#fff" stop-opacity="0.8"/><stop offset="0.65" stop-color="#fff" stop-opacity="0.9"/><stop offset="0.805" stop-color="#fff" stop-opacity="0.95"/><stop offset="0.893" stop-color="#fff" stop-opacity="1"/><stop offset="1" stop-color="#fff" stop-opacity="1"/></linearGradient><linearGradient id="lg32" gradientUnits="userSpaceOnUse" x1="0" y1="1272.54" x2="0" y2="1375.59"><stop offset="0" stop-color="#fff" stop-opacity="0.248"/><stop offset="0.163" stop-color="#fff" stop-opacity="0.225"/><stop offset="0.319" stop-color="#fff" stop-opacity="0.248"/><stop offset="0.514" stop-color="#fff" stop-opacity="0.293"/><stop offset="0.708" stop-color="#fff" stop-opacity="0.338"/><stop offset="0.883" stop-color="#fff" stop-opacity="0.36"/><stop offset="1" stop-color="#fff" stop-opacity="0.36"/></linearGradient><linearGradient id="lg33" gradientUnits="userSpaceOnUse" x1="0" y1="1272.54" x2="0" y2="1375.59"><stop offset="0" stop-color="#fff" stop-opacity="0.55"/><stop offset="0.163" stop-color="#fff" stop-opacity="0.5"/><stop offset="0.319" stop-color="#fff" stop-opacity="0.55"/><stop offset="0.514" stop-color="#fff" stop-opacity="0.65"/><stop offset="0.708" stop-color="#fff" stop-opacity="0.75"/><stop offset="0.883" stop-color="#fff" stop-opacity="0.8"/><stop offset="1" stop-color="#fff" stop-opacity="0.8"/></linearGradient><filter id="bg_k2" x="-0.2" y="-0.2" width="1.4" height="1.4" color-interpolation-filters="sRGB"><feGaussianBlur stdDeviation="7 1"/></filter><filter id="bc_k2" x="-0.2" y="-0.2" width="1.4" height="1.4" color-interpolation-filters="sRGB"><feGaussianBlur stdDeviation="3.2 0.6"/></filter><filter id="cm_k" x="0" y="0" width="1" height="1" color-interpolation-filters="sRGB"><feTurbulence type="fractalNoise" baseFrequency="0.13 0.11" numOctaves="1" seed="7" result="n"/><feColorMatrix in="n" type="matrix" values="1 0 0 0 0 1 0 0 0 0 1 0 0 0 0 0 0 0 0 1" result="ng"/><feComposite in="SourceGraphic" in2="ng" operator="arithmetic" k1="0" k2="1" k3="0.17" k4="-0.09" result="mix"/><feComponentTransfer in="mix"><feFuncR type="table" tableValues="0.001 0.006 0.014 0.025 0.040 0.057 0.074 0.093 0.113 0.135 0.159 0.185 0.212 0.239 0.265 0.291 0.317 0.341 0.366 0.390 0.415 0.439 0.464 0.488 0.513 0.538 0.563 0.588 0.614 0.639 0.665 0.691 0.716 0.742 0.767 0.792 0.817 0.841 0.863 0.885 0.904 0.922 0.937 0.950 0.961 0.970 0.977 0.982 0.987 0.990 0.993 0.995 0.996 0.997 0.997 0.997 0.997 0.996 0.995 0.994 0.992 0.991 0.989 0.988 0.987"/><feFuncG type="table" tableValues="0.000 0.005 0.012 0.021 0.031 0.042 0.052 0.060 0.065 0.068 0.068 0.066 0.062 0.060 0.060 0.065 0.072 0.081 0.090 0.100 0.110 0.120 0.130 0.139 0.148 0.157 0.165 0.174 0.182 0.190 0.198 0.206 0.215 0.224 0.234 0.244 0.256 0.269 0.284 0.301 0.320 0.341 0.365 0.391 0.418 0.447 0.476 0.506 0.536 0.565 0.595 0.624 0.654 0.683 0.712 0.741 0.770 0.798 0.827 0.856 0.884 0.913 0.941 0.970 0.991"/><feFuncB type="table" tableValues="0.014 0.037 0.069 0.101 0.134 0.167 0.203 0.239 0.277 0.315 0.353 0.388 0.419 0.443 0.462 0.475 0.485 0.493 0.498 0.502 0.505 0.507 0.508 0.508 0.508 0.507 0.505 0.502 0.499 0.494 0.489 0.483 0.475 0.467 0.458 0.448 0.436 0.425 0.412 0.400 0.388 0.377 0.369 0.362 0.360 0.360 0.364 0.372 0.382 0.395 0.410 0.427 0.446 0.467 0.488 0.511 0.535 0.560 0.586 0.612 0.640 0.668 0.698 0.727 0.750"/></feComponentTransfer></filter><clipPath id="clip_k"><rect x="860.3" y="1134.1" width="406.05" height="231.1"/></clipPath><linearGradient id="cbg_k" x1="0" y1="0" x2="0" y2="1"><stop offset="0" stop-color="#fcfdbf"/><stop offset="0.08" stop-color="#fdda9c"/><stop offset="0.15" stop-color="#feb67c"/><stop offset="0.23" stop-color="#fc9065"/><stop offset="0.31" stop-color="#f66c5c"/><stop offset="0.38" stop-color="#e34e65"/><stop offset="0.46" stop-color="#c53c74"/><stop offset="0.54" stop-color="#a6317d"/><stop offset="0.62" stop-color="#862781"/><stop offset="0.69" stop-color="#671b80"/><stop offset="0.77" stop-color="#491078"/><stop offset="0.85" stop-color="#271258"/><stop offset="0.92" stop-color="#0d0a29"/><stop offset="1" stop-color="#000004"/></linearGradient><linearGradient id="lg34" gradientUnits="userSpaceOnUse" x1="0" y1="1120.98" x2="0" y2="1375.59"><stop offset="0" stop-color="#fff" stop-opacity="0.229"/><stop offset="0.055" stop-color="#fff" stop-opacity="0.229"/><stop offset="0.15" stop-color="#fff" stop-opacity="0.229"/><stop offset="0.244" stop-color="#fff" stop-opacity="0.229"/><stop offset="0.307" stop-color="#fff" stop-opacity="0.229"/><stop offset="0.354" stop-color="#fff" stop-opacity="0.229"/><stop offset="0.394" stop-color="#fff" stop-opacity="0.243"/><stop offset="0.433" stop-color="#fff" stop-opacity="0.248"/><stop offset="0.48" stop-color="#fff" stop-opacity="0.257"/><stop offset="0.543" stop-color="#fff" stop-opacity="0.257"/><stop offset="0.622" stop-color="#fff" stop-opacity="0.243"/><stop offset="0.701" stop-color="#fff" stop-opacity="0.243"/><stop offset="0.78" stop-color="#fff" stop-opacity="0.243"/><stop offset="0.858" stop-color="#fff" stop-opacity="0.243"/><stop offset="0.937" stop-color="#fff" stop-opacity="0.243"/><stop offset="1" stop-color="#fff" stop-opacity="0.243"/></linearGradient><linearGradient id="lg35" gradientUnits="userSpaceOnUse" x1="0" y1="1120.98" x2="0" y2="1375.59"><stop offset="0" stop-color="#fff" stop-opacity="0.765"/><stop offset="0.055" stop-color="#fff" stop-opacity="0.765"/><stop offset="0.15" stop-color="#fff" stop-opacity="0.765"/><stop offset="0.244" stop-color="#fff" stop-opacity="0.765"/><stop offset="0.307" stop-color="#fff" stop-opacity="0.765"/><stop offset="0.354" stop-color="#fff" stop-opacity="0.765"/><stop offset="0.394" stop-color="#fff" stop-opacity="0.81"/><stop offset="0.433" stop-color="#fff" stop-opacity="0.828"/><stop offset="0.48" stop-color="#fff" stop-opacity="0.855"/><stop offset="0.543" stop-color="#fff" stop-opacity="0.855"/><stop offset="0.622" stop-color="#fff" stop-opacity="0.81"/><stop offset="0.701" stop-color="#fff" stop-opacity="0.81"/><stop offset="0.78" stop-color="#fff" stop-opacity="0.81"/><stop offset="0.858" stop-color="#fff" stop-opacity="0.81"/><stop offset="0.937" stop-color="#fff" stop-opacity="0.81"/><stop offset="1" stop-color="#fff" stop-opacity="0.81"/></linearGradient><linearGradient id="lg36" gradientUnits="userSpaceOnUse" x1="0" y1="1120.98" x2="0" y2="1375.59"><stop offset="0" stop-color="#fff" stop-opacity="0.248"/><stop offset="0.055" stop-color="#fff" stop-opacity="0.248"/><stop offset="0.15" stop-color="#fff" stop-opacity="0.248"/><stop offset="0.244" stop-color="#fff" stop-opacity="0.248"/><stop offset="0.346" stop-color="#fff" stop-opacity="0.243"/><stop offset="0.441" stop-color="#fff" stop-opacity="0.248"/><stop offset="0.52" stop-color="#fff" stop-opacity="0.262"/><stop offset="0.583" stop-color="#fff" stop-opacity="0.276"/><stop offset="0.646" stop-color="#fff" stop-opacity="0.276"/><stop offset="0.709" stop-color="#fff" stop-opacity="0.262"/><stop offset="0.78" stop-color="#fff" stop-opacity="0.262"/><stop offset="0.858" stop-color="#fff" stop-opacity="0.262"/><stop offset="0.937" stop-color="#fff" stop-opacity="0.248"/><stop offset="1" stop-color="#fff" stop-opacity="0.248"/></linearGradient><linearGradient id="lg37" gradientUnits="userSpaceOnUse" x1="0" y1="1120.98" x2="0" y2="1375.59"><stop offset="0" stop-color="#fff" stop-opacity="0.828"/><stop offset="0.055" stop-color="#fff" stop-opacity="0.828"/><stop offset="0.15" stop-color="#fff" stop-opacity="0.828"/><stop offset="0.244" stop-color="#fff" stop-opacity="0.828"/><stop offset="0.346" stop-color="#fff" stop-opacity="0.81"/><stop offset="0.441" stop-color="#fff" stop-opacity="0.828"/><stop offset="0.52" stop-color="#fff" stop-opacity="0.874"/><stop offset="0.583" stop-color="#fff" stop-opacity="0.92"/><stop offset="0.646" stop-color="#fff" stop-opacity="0.92"/><stop offset="0.709" stop-color="#fff" stop-opacity="0.874"/><stop offset="0.78" stop-color="#fff" stop-opacity="0.874"/><stop offset="0.858" stop-color="#fff" stop-opacity="0.874"/><stop offset="0.937" stop-color="#fff" stop-opacity="0.828"/><stop offset="1" stop-color="#fff" stop-opacity="0.828"/></linearGradient><filter id="bg_m1" x="-0.2" y="-0.2" width="1.4" height="1.4" color-interpolation-filters="sRGB"><feGaussianBlur stdDeviation="4.5 1.5"/></filter><filter id="bc_m1" x="-0.2" y="-0.2" width="1.4" height="1.4" color-interpolation-filters="sRGB"><feGaussianBlur stdDeviation="1.3 0.8"/></filter><linearGradient id="lg38" gradientUnits="userSpaceOnUse" x1="0" y1="1189.14" x2="0" y2="1263.32"><stop offset="0" stop-color="#fff" stop-opacity="0"/><stop offset="0.216" stop-color="#fff" stop-opacity="0.15"/><stop offset="0.459" stop-color="#fff" stop-opacity="0.12"/><stop offset="0.676" stop-color="#fff" stop-opacity="0.07"/><stop offset="0.865" stop-color="#fff" stop-opacity="0.025"/><stop offset="1" stop-color="#fff" stop-opacity="0"/></linearGradient><linearGradient id="lg39" gradientUnits="userSpaceOnUse" x1="0" y1="1189.14" x2="0" y2="1263.32"><stop offset="0" stop-color="#fff" stop-opacity="0"/><stop offset="0.216" stop-color="#fff" stop-opacity="0.3"/><stop offset="0.459" stop-color="#fff" stop-opacity="0.24"/><stop offset="0.676" stop-color="#fff" stop-opacity="0.14"/><stop offset="0.865" stop-color="#fff" stop-opacity="0.05"/><stop offset="1" stop-color="#fff" stop-opacity="0"/></linearGradient><filter id="bg_m2" x="-0.2" y="-0.2" width="1.4" height="1.4" color-interpolation-filters="sRGB"><feGaussianBlur stdDeviation="9 6"/></filter><filter id="bc_m2" x="-0.2" y="-0.2" width="1.4" height="1.4" color-interpolation-filters="sRGB"><feGaussianBlur stdDeviation="5 4"/></filter><linearGradient id="lg40" gradientUnits="userSpaceOnUse" x1="0" y1="1195.16" x2="0" y2="1375.59"><stop offset="0" stop-color="#fff" stop-opacity="0"/><stop offset="0.078" stop-color="#fff" stop-opacity="0.075"/><stop offset="0.189" stop-color="#fff" stop-opacity="0.126"/><stop offset="0.3" stop-color="#fff" stop-opacity="0.126"/><stop offset="0.467" stop-color="#fff" stop-opacity="0.105"/><stop offset="0.633" stop-color="#fff" stop-opacity="0.081"/><stop offset="0.8" stop-color="#fff" stop-opacity="0.06"/><stop offset="0.911" stop-color="#fff" stop-opacity="0.048"/><stop offset="1" stop-color="#fff" stop-opacity="0.048"/></linearGradient><linearGradient id="lg41" gradientUnits="userSpaceOnUse" x1="0" y1="1195.16" x2="0" y2="1375.59"><stop offset="0" stop-color="#fff" stop-opacity="0"/><stop offset="0.078" stop-color="#fff" stop-opacity="0.25"/><stop offset="0.189" stop-color="#fff" stop-opacity="0.42"/><stop offset="0.3" stop-color="#fff" stop-opacity="0.42"/><stop offset="0.467" stop-color="#fff" stop-opacity="0.35"/><stop offset="0.633" stop-color="#fff" stop-opacity="0.27"/><stop offset="0.8" stop-color="#fff" stop-opacity="0.2"/><stop offset="0.911" stop-color="#fff" stop-opacity="0.16"/><stop offset="1" stop-color="#fff" stop-opacity="0.16"/></linearGradient><filter id="bg_m3" x="-0.2" y="-0.2" width="1.4" height="1.4" color-interpolation-filters="sRGB"><feGaussianBlur stdDeviation="3 1"/></filter><filter id="bc_m3" x="-0.2" y="-0.2" width="1.4" height="1.4" color-interpolation-filters="sRGB"><feGaussianBlur stdDeviation="1.5 1"/></filter><linearGradient id="lg42" gradientUnits="userSpaceOnUse" x1="0" y1="1185.13" x2="0" y2="1243.27"><stop offset="0" stop-color="#fff" stop-opacity="0"/><stop offset="0.241" stop-color="#fff" stop-opacity="0.18"/><stop offset="0.448" stop-color="#fff" stop-opacity="0.22"/><stop offset="0.621" stop-color="#fff" stop-opacity="0.2"/><stop offset="0.793" stop-color="#fff" stop-opacity="0.12"/><stop offset="1" stop-color="#fff" stop-opacity="0"/></linearGradient><linearGradient id="lg43" gradientUnits="userSpaceOnUse" x1="0" y1="1185.13" x2="0" y2="1243.27"><stop offset="0" stop-color="#fff" stop-opacity="0"/><stop offset="0.241" stop-color="#fff" stop-opacity="0.45"/><stop offset="0.448" stop-color="#fff" stop-opacity="0.55"/><stop offset="0.621" stop-color="#fff" stop-opacity="0.5"/><stop offset="0.793" stop-color="#fff" stop-opacity="0.3"/><stop offset="1" stop-color="#fff" stop-opacity="0"/></linearGradient><filter id="bg_m4" x="-0.2" y="-0.2" width="1.4" height="1.4" color-interpolation-filters="sRGB"><feGaussianBlur stdDeviation="6 3"/></filter><filter id="bc_m4" x="-0.2" y="-0.2" width="1.4" height="1.4" color-interpolation-filters="sRGB"><feGaussianBlur stdDeviation="3 2"/></filter><linearGradient id="lg44" gradientUnits="userSpaceOnUse" x1="0" y1="1129" x2="0" y2="1369.58"><stop offset="0" stop-color="#222222" stop-opacity="1"/><stop offset="0.275" stop-color="#242424" stop-opacity="1"/><stop offset="0.358" stop-color="#161616" stop-opacity="1"/><stop offset="0.433" stop-color="#161616" stop-opacity="1"/><stop offset="0.483" stop-color="#202020" stop-opacity="1"/><stop offset="0.633" stop-color="#202020" stop-opacity="1"/><stop offset="0.667" stop-color="#161616" stop-opacity="1"/><stop offset="0.75" stop-color="#161616" stop-opacity="1"/><stop offset="0.8" stop-color="#1d1d1d" stop-opacity="1"/><stop offset="1" stop-color="#1d1d1d" stop-opacity="1"/></linearGradient><filter id="cm_m" x="0" y="0" width="1" height="1" color-interpolation-filters="sRGB"><feTurbulence type="fractalNoise" baseFrequency="0.3 0.25" numOctaves="1" seed="11" result="n"/><feColorMatrix in="n" type="matrix" values="1 0 0 0 0 1 0 0 0 0 1 0 0 0 0 0 0 0 0 1" result="ng"/><feComposite in="SourceGraphic" in2="ng" operator="arithmetic" k1="0" k2="1" k3="0.09" k4="-0.04" result="mix"/><feComponentTransfer in="mix"><feFuncR type="table" tableValues="0.001 0.006 0.014 0.025 0.040 0.057 0.074 0.093 0.113 0.135 0.159 0.185 0.212 0.239 0.265 0.291 0.317 0.341 0.366 0.390 0.415 0.439 0.464 0.488 0.513 0.538 0.563 0.588 0.614 0.639 0.665 0.691 0.716 0.742 0.767 0.792 0.817 0.841 0.863 0.885 0.904 0.922 0.937 0.950 0.961 0.970 0.977 0.982 0.987 0.990 0.993 0.995 0.996 0.997 0.997 0.997 0.997 0.996 0.995 0.994 0.992 0.991 0.989 0.988 0.987"/><feFuncG type="table" tableValues="0.000 0.005 0.012 0.021 0.031 0.042 0.052 0.060 0.065 0.068 0.068 0.066 0.062 0.060 0.060 0.065 0.072 0.081 0.090 0.100 0.110 0.120 0.130 0.139 0.148 0.157 0.165 0.174 0.182 0.190 0.198 0.206 0.215 0.224 0.234 0.244 0.256 0.269 0.284 0.301 0.320 0.341 0.365 0.391 0.418 0.447 0.476 0.506 0.536 0.565 0.595 0.624 0.654 0.683 0.712 0.741 0.770 0.798 0.827 0.856 0.884 0.913 0.941 0.970 0.991"/><feFuncB type="table" tableValues="0.014 0.037 0.069 0.101 0.134 0.167 0.203 0.239 0.277 0.315 0.353 0.388 0.419 0.443 0.462 0.475 0.485 0.493 0.498 0.502 0.505 0.507 0.508 0.508 0.508 0.507 0.505 0.502 0.499 0.494 0.489 0.483 0.475 0.467 0.458 0.448 0.436 0.425 0.412 0.400 0.388 0.377 0.369 0.362 0.360 0.360 0.364 0.372 0.382 0.395 0.410 0.427 0.446 0.467 0.488 0.511 0.535 0.560 0.586 0.612 0.640 0.668 0.698 0.727 0.750"/></feComponentTransfer></filter><clipPath id="clip_m"><rect x="1569.3" y="1134.1" width="405.8" height="231.1"/></clipPath><linearGradient id="cbg_m" x1="0" y1="0" x2="0" y2="1"><stop offset="0" stop-color="#fcfdbf"/><stop offset="0.08" stop-color="#fdda9c"/><stop offset="0.15" stop-color="#feb67c"/><stop offset="0.23" stop-color="#fc9065"/><stop offset="0.31" stop-color="#f66c5c"/><stop offset="0.38" stop-color="#e34e65"/><stop offset="0.46" stop-color="#c53c74"/><stop offset="0.54" stop-color="#a6317d"/><stop offset="0.62" stop-color="#862781"/><stop offset="0.69" stop-color="#671b80"/><stop offset="0.77" stop-color="#491078"/><stop offset="0.85" stop-color="#271258"/><stop offset="0.92" stop-color="#0d0a29"/><stop offset="1" stop-color="#000004"/></linearGradient><linearGradient id="lg45" gradientUnits="userSpaceOnUse" x1="0" y1="1482.98" x2="0" y2="1737.59"><stop offset="0" stop-color="#fff" stop-opacity="0.4"/><stop offset="0.055" stop-color="#fff" stop-opacity="0.4"/><stop offset="0.15" stop-color="#fff" stop-opacity="0.4"/><stop offset="0.268" stop-color="#fff" stop-opacity="0.4"/><stop offset="0.386" stop-color="#fff" stop-opacity="0.4"/><stop offset="0.504" stop-color="#fff" stop-opacity="0.4"/><stop offset="0.622" stop-color="#fff" stop-opacity="0.392"/><stop offset="0.74" stop-color="#fff" stop-opacity="0.392"/><stop offset="0.835" stop-color="#fff" stop-opacity="0.392"/><stop offset="0.913" stop-color="#fff" stop-opacity="0.392"/><stop offset="0.953" stop-color="#fff" stop-opacity="0.392"/><stop offset="1" stop-color="#fff" stop-opacity="0.392"/></linearGradient><linearGradient id="lg46" gradientUnits="userSpaceOnUse" x1="0" y1="1482.98" x2="0" y2="1737.59"><stop offset="0" stop-color="#fff" stop-opacity="1"/><stop offset="0.055" stop-color="#fff" stop-opacity="1"/><stop offset="0.15" stop-color="#fff" stop-opacity="1"/><stop offset="0.268" stop-color="#fff" stop-opacity="1"/><stop offset="0.386" stop-color="#fff" stop-opacity="1"/><stop offset="0.504" stop-color="#fff" stop-opacity="1"/><stop offset="0.622" stop-color="#fff" stop-opacity="0.98"/><stop offset="0.74" stop-color="#fff" stop-opacity="0.98"/><stop offset="0.835" stop-color="#fff" stop-opacity="0.98"/><stop offset="0.913" stop-color="#fff" stop-opacity="0.98"/><stop offset="0.953" stop-color="#fff" stop-opacity="0.98"/><stop offset="1" stop-color="#fff" stop-opacity="0.98"/></linearGradient><linearGradient id="lg47" gradientUnits="userSpaceOnUse" x1="0" y1="1482.98" x2="0" y2="1509.44"><stop offset="0" stop-color="#fff" stop-opacity="0.32"/><stop offset="0.53" stop-color="#fff" stop-opacity="0.32"/><stop offset="1" stop-color="#fff" stop-opacity="0.32"/></linearGradient><linearGradient id="lg48" gradientUnits="userSpaceOnUse" x1="0" y1="1482.98" x2="0" y2="1509.44"><stop offset="0" stop-color="#fff" stop-opacity="0.8"/><stop offset="0.53" stop-color="#fff" stop-opacity="0.8"/><stop offset="1" stop-color="#fff" stop-opacity="0.8"/></linearGradient><linearGradient id="lg49" gradientUnits="userSpaceOnUse" x1="0" y1="1509.44" x2="0" y2="1737.59"><stop offset="0" stop-color="#fff" stop-opacity="0.32"/><stop offset="0.051" stop-color="#fff" stop-opacity="0.312"/><stop offset="0.183" stop-color="#fff" stop-opacity="0.312"/><stop offset="0.315" stop-color="#fff" stop-opacity="0.304"/><stop offset="0.446" stop-color="#fff" stop-opacity="0.3"/><stop offset="0.578" stop-color="#fff" stop-opacity="0.3"/><stop offset="0.71" stop-color="#fff" stop-opacity="0.304"/><stop offset="0.815" stop-color="#fff" stop-opacity="0.312"/><stop offset="0.903" stop-color="#fff" stop-opacity="0.32"/><stop offset="0.947" stop-color="#fff" stop-opacity="0.32"/><stop offset="1" stop-color="#fff" stop-opacity="0.32"/></linearGradient><linearGradient id="lg50" gradientUnits="userSpaceOnUse" x1="0" y1="1509.44" x2="0" y2="1737.59"><stop offset="0" stop-color="#fff" stop-opacity="0.8"/><stop offset="0.051" stop-color="#fff" stop-opacity="0.78"/><stop offset="0.183" stop-color="#fff" stop-opacity="0.78"/><stop offset="0.315" stop-color="#fff" stop-opacity="0.76"/><stop offset="0.446" stop-color="#fff" stop-opacity="0.75"/><stop offset="0.578" stop-color="#fff" stop-opacity="0.75"/><stop offset="0.71" stop-color="#fff" stop-opacity="0.76"/><stop offset="0.815" stop-color="#fff" stop-opacity="0.78"/><stop offset="0.903" stop-color="#fff" stop-opacity="0.8"/><stop offset="0.947" stop-color="#fff" stop-opacity="0.8"/><stop offset="1" stop-color="#fff" stop-opacity="0.8"/></linearGradient><filter id="bg_l" x="-0.2" y="-0.2" width="1.4" height="1.4" color-interpolation-filters="sRGB"><feGaussianBlur stdDeviation="6.5 1"/></filter><filter id="bc_l" x="-0.2" y="-0.2" width="1.4" height="1.4" color-interpolation-filters="sRGB"><feGaussianBlur stdDeviation="2.4 0.5"/></filter><filter id="cm_l" x="0" y="0" width="1" height="1" color-interpolation-filters="sRGB"><feTurbulence type="fractalNoise" baseFrequency="0.2 0.04" numOctaves="1" seed="3" result="n"/><feColorMatrix in="n" type="matrix" values="1 0 0 0 0 1 0 0 0 0 1 0 0 0 0 0 0 0 0 1" result="ng"/><feComposite in="SourceGraphic" in2="ng" operator="arithmetic" k1="0" k2="1" k3="0.3" k4="-0.15" result="mix"/><feComponentTransfer in="mix"><feFuncR type="table" tableValues="0.001 0.006 0.014 0.025 0.040 0.057 0.074 0.093 0.113 0.135 0.159 0.185 0.212 0.239 0.265 0.291 0.317 0.341 0.366 0.390 0.415 0.439 0.464 0.488 0.513 0.538 0.563 0.588 0.614 0.639 0.665 0.691 0.716 0.742 0.767 0.792 0.817 0.841 0.863 0.885 0.904 0.922 0.937 0.950 0.961 0.970 0.977 0.982 0.987 0.990 0.993 0.995 0.996 0.997 0.997 0.997 0.997 0.996 0.995 0.994 0.992 0.991 0.989 0.988 0.987"/><feFuncG type="table" tableValues="0.000 0.005 0.012 0.021 0.031 0.042 0.052 0.060 0.065 0.068 0.068 0.066 0.062 0.060 0.060 0.065 0.072 0.081 0.090 0.100 0.110 0.120 0.130 0.139 0.148 0.157 0.165 0.174 0.182 0.190 0.198 0.206 0.215 0.224 0.234 0.244 0.256 0.269 0.284 0.301 0.320 0.341 0.365 0.391 0.418 0.447 0.476 0.506 0.536 0.565 0.595 0.624 0.654 0.683 0.712 0.741 0.770 0.798 0.827 0.856 0.884 0.913 0.941 0.970 0.991"/><feFuncB type="table" tableValues="0.014 0.037 0.069 0.101 0.134 0.167 0.203 0.239 0.277 0.315 0.353 0.388 0.419 0.443 0.462 0.475 0.485 0.493 0.498 0.502 0.505 0.507 0.508 0.508 0.508 0.507 0.505 0.502 0.499 0.494 0.489 0.483 0.475 0.467 0.458 0.448 0.436 0.425 0.412 0.400 0.388 0.377 0.369 0.362 0.360 0.360 0.364 0.372 0.382 0.395 0.410 0.427 0.446 0.467 0.488 0.511 0.535 0.560 0.586 0.612 0.640 0.668 0.698 0.727 0.750"/></feComponentTransfer></filter><clipPath id="clip_l"><rect x="860.3" y="1496.5" width="406.05" height="231"/></clipPath><linearGradient id="cbg_l" x1="0" y1="0" x2="0" y2="1"><stop offset="0" stop-color="#fcfdbf"/><stop offset="0.08" stop-color="#fdda9c"/><stop offset="0.15" stop-color="#feb67c"/><stop offset="0.23" stop-color="#fc9065"/><stop offset="0.31" stop-color="#f66c5c"/><stop offset="0.38" stop-color="#e34e65"/><stop offset="0.46" stop-color="#c53c74"/><stop offset="0.54" stop-color="#a6317d"/><stop offset="0.62" stop-color="#862781"/><stop offset="0.69" stop-color="#671b80"/><stop offset="0.77" stop-color="#491078"/><stop offset="0.85" stop-color="#271258"/><stop offset="0.92" stop-color="#0d0a29"/><stop offset="1" stop-color="#000004"/></linearGradient></defs><g id="panel-a"><g clip-path="url(#clip_a)"><g filter="url(#cm_rdbu)"><rect x="152" y="40.7" width="410.2" height="235" fill="#808080"/><rect x="154" y="42.01" width="6" height="81.49" fill="url(#a_up)" opacity="0.095"/><rect x="154" y="199.27" width="6" height="73.29" fill="url(#a_dn)" opacity="0.096"/><rect x="160" y="42.01" width="6" height="83.11" fill="url(#a_up)" opacity="0.103"/><rect x="160" y="195.59" width="6" height="76.98" fill="url(#a_dn)" opacity="0.121"/><rect x="166" y="42.01" width="6" height="83.28" fill="url(#a_up)" opacity="0.112"/><rect x="166" y="192.4" width="6" height="80.16" fill="url(#a_dn)" opacity="0.107"/><rect x="172" y="42.01" width="6" height="83.03" fill="url(#a_up)" opacity="0.104"/><rect x="172" y="192.35" width="6" height="80.21" fill="url(#a_dn)" opacity="0.198"/><rect x="178" y="42.01" width="5" height="83.97" fill="url(#a_up)" opacity="0.096"/><rect x="178" y="190.83" width="5" height="81.74" fill="url(#a_dn)" opacity="0.230"/><rect x="183" y="42.01" width="6" height="84.83" fill="url(#a_up)" opacity="0.120"/><rect x="183" y="184.81" width="6" height="87.75" fill="url(#a_dn)" opacity="0.233"/><rect x="189" y="42.01" width="6" height="85.77" fill="url(#a_up)" opacity="0.120"/><rect x="189" y="185.54" width="6" height="87.02" fill="url(#a_dn)" opacity="0.262"/><rect x="195" y="42.01" width="6" height="87.1" fill="url(#a_up)" opacity="0.113"/><rect x="195" y="184.68" width="6" height="87.88" fill="url(#a_dn)" opacity="0.240"/><rect x="201" y="42.01" width="6" height="90.53" fill="url(#a_up)" opacity="0.120"/><rect x="201" y="183.03" width="6" height="89.53" fill="url(#a_dn)" opacity="0.252"/><rect x="207" y="42.01" width="5" height="91.51" fill="url(#a_up)" opacity="0.122"/><rect x="207" y="183.32" width="5" height="89.24" fill="url(#a_dn)" opacity="0.250"/><rect x="212" y="42.01" width="6" height="90.34" fill="url(#a_up)" opacity="0.153"/><rect x="212" y="179.24" width="6" height="93.32" fill="url(#a_dn)" opacity="0.260"/><rect x="218" y="42.01" width="6" height="90.46" fill="url(#a_up)" opacity="0.146"/><rect x="218" y="180.12" width="6" height="92.44" fill="url(#a_dn)" opacity="0.262"/><rect x="224" y="42.01" width="6" height="93.29" fill="url(#a_up)" opacity="0.155"/><rect x="224" y="178.08" width="6" height="94.48" fill="url(#a_dn)" opacity="0.263"/><rect x="230" y="42.01" width="6" height="93.53" fill="url(#a_up)" opacity="0.191"/><rect x="230" y="178.14" width="6" height="94.42" fill="url(#a_dn)" opacity="0.265"/><rect x="236" y="42.01" width="5" height="93.04" fill="url(#a_up)" opacity="0.202"/><rect x="236" y="176.01" width="5" height="96.55" fill="url(#a_dn)" opacity="0.251"/><rect x="241" y="42.01" width="6" height="96.43" fill="url(#a_up)" opacity="0.230"/><rect x="241" y="178.79" width="6" height="93.77" fill="url(#a_dn)" opacity="0.275"/><rect x="247" y="42.01" width="6" height="96.45" fill="url(#a_up)" opacity="0.252"/><rect x="247" y="175.53" width="6" height="97.03" fill="url(#a_dn)" opacity="0.277"/><rect x="253" y="42.01" width="6" height="98.8" fill="url(#a_up)" opacity="0.278"/><rect x="253" y="178.08" width="6" height="94.48" fill="url(#a_dn)" opacity="0.274"/><rect x="259" y="42.01" width="5" height="99.92" fill="url(#a_up)" opacity="0.330"/><rect x="259" y="176.18" width="5" height="96.38" fill="url(#a_dn)" opacity="0.272"/><rect x="264" y="42.01" width="6" height="100.55" fill="url(#a_up)" opacity="0.346"/><rect x="264" y="177.47" width="6" height="95.09" fill="url(#a_dn)" opacity="0.279"/><rect x="270" y="42.01" width="6" height="101.68" fill="url(#a_up)" opacity="0.376"/><rect x="270" y="178.12" width="6" height="94.44" fill="url(#a_dn)" opacity="0.281"/><rect x="276" y="42.01" width="6" height="100.6" fill="url(#a_up)" opacity="0.364"/><rect x="276" y="178.01" width="6" height="94.55" fill="url(#a_dn)" opacity="0.267"/><rect x="282" y="42.01" width="6" height="103.05" fill="url(#a_up)" opacity="0.384"/><rect x="282" y="175.58" width="6" height="96.98" fill="url(#a_dn)" opacity="0.269"/><rect x="288" y="42.01" width="5" height="101.23" fill="url(#a_up)" opacity="0.394"/><rect x="288" y="174.92" width="5" height="97.64" fill="url(#a_dn)" opacity="0.280"/><rect x="293" y="42.01" width="6" height="104.44" fill="url(#a_up)" opacity="0.418"/><rect x="293" y="174.52" width="6" height="98.04" fill="url(#a_dn)" opacity="0.278"/><rect x="299" y="42.01" width="6" height="103.53" fill="url(#a_up)" opacity="0.440"/><rect x="299" y="175.28" width="6" height="97.28" fill="url(#a_dn)" opacity="0.272"/><rect x="305" y="42.01" width="6" height="105.05" fill="url(#a_up)" opacity="0.438"/><rect x="305" y="176.02" width="6" height="96.54" fill="url(#a_dn)" opacity="0.271"/><rect x="311" y="42.01" width="6" height="105.84" fill="url(#a_up)" opacity="0.428"/><rect x="311" y="176.31" width="6" height="96.26" fill="url(#a_dn)" opacity="0.280"/><rect x="317" y="42.01" width="5" height="103.75" fill="url(#a_up)" opacity="0.461"/><rect x="317" y="178.14" width="5" height="94.43" fill="url(#a_dn)" opacity="0.260"/><rect x="322" y="42.01" width="6" height="106.29" fill="url(#a_up)" opacity="0.459"/><rect x="322" y="176.07" width="6" height="96.49" fill="url(#a_dn)" opacity="0.272"/><rect x="328" y="42.01" width="6" height="106.91" fill="url(#a_up)" opacity="0.448"/><rect x="328" y="176.14" width="6" height="96.42" fill="url(#a_dn)" opacity="0.265"/><rect x="334" y="42.01" width="6" height="107.37" fill="url(#a_up)" opacity="0.484"/><rect x="334" y="176.15" width="6" height="96.42" fill="url(#a_dn)" opacity="0.245"/><rect x="340" y="42.01" width="6" height="107.41" fill="url(#a_up)" opacity="0.472"/><rect x="340" y="175.49" width="6" height="97.07" fill="url(#a_dn)" opacity="0.254"/><rect x="346" y="42.01" width="5" height="105.98" fill="url(#a_up)" opacity="0.475"/><rect x="346" y="178.29" width="5" height="94.27" fill="url(#a_dn)" opacity="0.254"/><rect x="351" y="42.01" width="6" height="107.95" fill="url(#a_up)" opacity="0.501"/><rect x="351" y="175.68" width="6" height="96.88" fill="url(#a_dn)" opacity="0.246"/><rect x="357" y="42.01" width="6" height="107.25" fill="url(#a_up)" opacity="0.477"/><rect x="357" y="177.81" width="6" height="94.76" fill="url(#a_dn)" opacity="0.234"/><rect x="363" y="42.01" width="6" height="109.33" fill="url(#a_up)" opacity="0.494"/><rect x="363" y="177.11" width="6" height="95.45" fill="url(#a_dn)" opacity="0.228"/><rect x="369" y="42.01" width="6" height="109.68" fill="url(#a_up)" opacity="0.512"/><rect x="369" y="177.15" width="6" height="95.41" fill="url(#a_dn)" opacity="0.232"/><rect x="375" y="42.01" width="5" height="109.24" fill="url(#a_up)" opacity="0.506"/><rect x="375" y="177.1" width="5" height="95.47" fill="url(#a_dn)" opacity="0.217"/><rect x="380" y="42.01" width="6" height="111.15" fill="url(#a_up)" opacity="0.513"/><rect x="380" y="176.66" width="6" height="95.91" fill="url(#a_dn)" opacity="0.214"/><rect x="386" y="42.01" width="6" height="110.3" fill="url(#a_up)" opacity="0.510"/><rect x="386" y="177.02" width="6" height="95.54" fill="url(#a_dn)" opacity="0.217"/><rect x="392" y="42.01" width="6" height="111.28" fill="url(#a_up)" opacity="0.532"/><rect x="392" y="177.95" width="6" height="94.61" fill="url(#a_dn)" opacity="0.192"/><rect x="398" y="42.01" width="6" height="110.73" fill="url(#a_up)" opacity="0.532"/><rect x="398" y="178.66" width="6" height="93.91" fill="url(#a_dn)" opacity="0.169"/><rect x="404" y="42.01" width="5" height="115.09" fill="url(#a_up2)" opacity="0.801"/><rect x="404" y="178.67" width="5" height="93.89" fill="url(#a_dn)" opacity="0.146"/><rect x="409" y="42.01" width="6" height="114.57" fill="url(#a_up2)" opacity="0.850"/><rect x="409" y="178.62" width="6" height="93.95" fill="url(#a_dn)" opacity="0.138"/><rect x="415" y="42.01" width="6" height="113.29" fill="url(#a_up2)" opacity="0.837"/><rect x="415" y="178.99" width="6" height="93.58" fill="url(#a_dn)" opacity="0.124"/><rect x="421" y="42.01" width="6" height="112.02" fill="url(#a_up2)" opacity="0.882"/><rect x="421" y="178.34" width="6" height="94.22" fill="url(#a_dn)" opacity="0.125"/><rect x="427" y="42.01" width="6" height="110.69" fill="url(#a_up2)" opacity="0.909"/><rect x="427" y="179.92" width="6" height="92.64" fill="url(#a_dn)" opacity="0.122"/><rect x="433" y="42.01" width="5" height="109.96" fill="url(#a_up2)" opacity="0.915"/><rect x="433" y="181.7" width="5" height="90.86" fill="url(#a_dn)" opacity="0.118"/><rect x="438" y="42.01" width="6" height="106.54" fill="url(#a_up2)" opacity="0.899"/><rect x="438" y="182" width="6" height="90.57" fill="url(#a_dn)" opacity="0.119"/><rect x="444" y="42.01" width="6" height="106.78" fill="url(#a_up2)" opacity="0.920"/><rect x="444" y="180.14" width="6" height="92.43" fill="url(#a_dn)" opacity="0.110"/><rect x="450" y="42.01" width="6" height="103.68" fill="url(#a_up2)" opacity="0.944"/><rect x="450" y="180.88" width="6" height="91.69" fill="url(#a_dn)" opacity="0.120"/><rect x="456" y="42.01" width="5" height="101.61" fill="url(#a_up2)" opacity="0.951"/><rect x="456" y="180.48" width="5" height="92.08" fill="url(#a_dn)" opacity="0.115"/><rect x="461" y="42.01" width="6" height="100.51" fill="url(#a_up2)" opacity="0.965"/><rect x="461" y="182.71" width="6" height="89.85" fill="url(#a_dn)" opacity="0.103"/><rect x="467" y="42.01" width="6" height="100.94" fill="url(#a_up2)" opacity="0.962"/><rect x="467" y="181.97" width="6" height="90.6" fill="url(#a_dn)" opacity="0.116"/><rect x="473" y="42.01" width="6" height="98.12" fill="url(#a_up2)" opacity="0.971"/><rect x="473" y="183.68" width="6" height="88.89" fill="url(#a_dn)" opacity="0.111"/><rect x="479" y="42.01" width="6" height="95.68" fill="url(#a_up2)" opacity="0.983"/><rect x="479" y="180.72" width="6" height="91.84" fill="url(#a_dn)" opacity="0.097"/><rect x="485" y="42.01" width="5" height="95.41" fill="url(#a_up2)" opacity="0.998"/><rect x="485" y="184.18" width="5" height="88.38" fill="url(#a_dn)" opacity="0.096"/><rect x="490" y="42.01" width="6" height="93.7" fill="url(#a_up2)" opacity="0.964"/><rect x="490" y="182.92" width="6" height="89.65" fill="url(#a_dn)" opacity="0.088"/><rect x="496" y="42.01" width="6" height="89.92" fill="url(#a_up2)" opacity="0.828"/><rect x="496" y="182.6" width="6" height="89.96" fill="url(#a_dn)" opacity="0.092"/><rect x="502" y="42.01" width="6" height="89.9" fill="url(#a_up2)" opacity="0.782"/><rect x="502" y="181.75" width="6" height="90.81" fill="url(#a_dn)" opacity="0.089"/><rect x="508" y="42.01" width="6" height="84.55" fill="url(#a_up2)" opacity="0.785"/><rect x="508" y="182.61" width="6" height="89.95" fill="url(#a_dn)" opacity="0.099"/><rect x="514" y="42.01" width="5" height="82.74" fill="url(#a_up2)" opacity="0.779"/><rect x="514" y="183.92" width="5" height="88.65" fill="url(#a_dn)" opacity="0.089"/><rect x="519" y="42.01" width="6" height="81.48" fill="url(#a_up2)" opacity="0.775"/><rect x="519" y="181.51" width="6" height="91.05" fill="url(#a_dn)" opacity="0.101"/><rect x="525" y="42.01" width="6" height="79.28" fill="url(#a_up2)" opacity="0.807"/><rect x="525" y="184.01" width="6" height="88.56" fill="url(#a_dn)" opacity="0.086"/><rect x="531" y="42.01" width="6" height="76.87" fill="url(#a_up2)" opacity="0.797"/><rect x="531" y="182.33" width="6" height="90.23" fill="url(#a_dn)" opacity="0.088"/><rect x="537" y="42.01" width="6" height="75.03" fill="url(#a_up2)" opacity="0.795"/><rect x="537" y="182.31" width="6" height="90.25" fill="url(#a_dn)" opacity="0.090"/><rect x="543" y="42.01" width="5" height="72.95" fill="url(#a_up2)" opacity="0.805"/><rect x="543" y="182.83" width="5" height="89.73" fill="url(#a_dn)" opacity="0.113"/><rect x="548" y="42.01" width="6" height="69.61" fill="url(#a_up2)" opacity="0.830"/><rect x="548" y="183.66" width="6" height="88.91" fill="url(#a_dn)" opacity="0.100"/><rect x="554" y="42.01" width="6" height="67.64" fill="url(#a_up2)" opacity="0.829"/><rect x="554" y="184.09" width="6" height="88.47" fill="url(#a_dn)" opacity="0.114"/><rect x="337.45" y="88.12" width="6.01" height="78.19" fill="#808080"/><rect x="337.45" y="88.12" width="6.01" height="70.17" fill="url(#a_up)" opacity="0.090"/><rect x="357.5" y="93.13" width="5.41" height="73.18" fill="#808080"/><rect x="357.5" y="93.13" width="5.41" height="65.16" fill="url(#a_up)" opacity="0.080"/><rect x="397.59" y="42.01" width="6.01" height="124.3" fill="#808080"/><rect x="397.59" y="42.01" width="6.01" height="116.28" fill="url(#a_up)" opacity="0.280"/><rect x="451.72" y="42.01" width="6.42" height="124.3" fill="#808080"/><rect x="451.72" y="42.01" width="6.42" height="116.28" fill="url(#a_up)" opacity="0.380"/><rect x="458.14" y="96.14" width="6.62" height="70.17" fill="#808080"/><rect x="458.14" y="96.14" width="6.62" height="62.15" fill="url(#a_up)" opacity="0.240"/><rect x="491.82" y="42.01" width="7.02" height="124.3" fill="#808080"/><rect x="491.82" y="42.01" width="7.02" height="116.28" fill="url(#a_up)" opacity="0.340"/><rect x="539.94" y="68.07" width="6.01" height="98.24" fill="#808080"/><rect x="539.94" y="68.07" width="6.01" height="90.22" fill="url(#a_up)" opacity="0.170"/><rect x="472.77" y="122.2" width="6.01" height="44.11" fill="#808080"/><rect x="472.77" y="122.2" width="6.01" height="36.09" fill="url(#a_up)" opacity="0.120"/><rect x="438.69" y="138.24" width="6.01" height="28.07" fill="#808080"/><rect x="438.69" y="138.24" width="6.01" height="20.05" fill="url(#a_up)" opacity="0.060"/><rect x="241.22" y="98.14" width="7.02" height="68.16" fill="#808080"/><rect x="241.22" y="98.14" width="7.02" height="60.14" fill="url(#a_up)" opacity="0.040"/><rect x="404.61" y="126.21" width="6.01" height="40.1" fill="#808080"/><rect x="404.61" y="126.21" width="6.01" height="32.08" fill="url(#a_up)" opacity="0.070"/><rect x="545.95" y="98.14" width="5.61" height="68.16" fill="#808080"/><rect x="545.95" y="98.14" width="5.61" height="60.14" fill="url(#a_up)" opacity="0.120"/><rect x="228.19" y="162.3" width="7.02" height="110.26" fill="#808080"/><rect x="228.19" y="178.26" width="7.02" height="94.3" fill="url(#a_dn)" opacity="0.070"/><rect x="241.22" y="162.3" width="7.02" height="102.25" fill="#808080"/><rect x="241.22" y="177.61" width="7.02" height="86.93" fill="url(#a_dn)" opacity="0.070"/><rect x="275.3" y="162.3" width="7.02" height="91.22" fill="#808080"/><rect x="275.3" y="176.33" width="7.02" height="77.19" fill="url(#a_dn)" opacity="0.080"/><rect x="295.35" y="162.3" width="7.02" height="110.26" fill="#808080"/><rect x="295.35" y="176.33" width="7.02" height="96.23" fill="url(#a_dn)" opacity="0.070"/><rect x="336.45" y="162.3" width="7.02" height="102.25" fill="#808080"/><rect x="336.45" y="176.33" width="7.02" height="88.21" fill="url(#a_dn)" opacity="0.070"/><rect x="357.5" y="162.3" width="5.41" height="110.26" fill="#808080"/><rect x="357.5" y="176.33" width="5.41" height="96.23" fill="url(#a_dn)" opacity="0.080"/><rect x="369.53" y="162.3" width="7.02" height="104.25" fill="#808080"/><rect x="369.53" y="176.33" width="7.02" height="90.22" fill="url(#a_dn)" opacity="0.080"/><rect x="403.61" y="162.3" width="7.02" height="110.26" fill="#808080"/><rect x="403.61" y="177.99" width="7.02" height="94.58" fill="url(#a_dn)" opacity="0.050"/><rect x="438.69" y="162.3" width="6.01" height="100.24" fill="#808080"/><rect x="438.69" y="181.44" width="6.01" height="81.09" fill="url(#a_dn)" opacity="0.040"/><rect x="458.74" y="162.3" width="6.01" height="110.26" fill="#808080"/><rect x="458.74" y="182.35" width="6.01" height="90.22" fill="url(#a_dn)" opacity="0.030"/><rect x="472.77" y="162.3" width="6.01" height="104.25" fill="#808080"/><rect x="472.77" y="182.35" width="6.01" height="84.2" fill="url(#a_dn)" opacity="0.030"/><rect x="498.84" y="162.3" width="7.02" height="110.26" fill="#808080"/><rect x="498.84" y="182.35" width="7.02" height="90.22" fill="url(#a_dn)" opacity="0.030"/><rect x="518.89" y="162.3" width="6.01" height="110.26" fill="#808080"/><rect x="518.89" y="182.35" width="6.01" height="90.22" fill="url(#a_dn)" opacity="0.030"/><rect x="539.94" y="162.3" width="6.01" height="110.26" fill="#808080"/><rect x="539.94" y="182.35" width="6.01" height="90.22" fill="url(#a_dn)" opacity="0.030"/><rect x="159.62" y="162.3" width="14.43" height="110.26" fill="#808080"/><rect x="159.62" y="194.58" width="14.43" height="77.98" fill="url(#a_dn)" opacity="0.080"/><rect x="180.07" y="162.3" width="7.02" height="68.16" fill="#808080"/><rect x="180.07" y="187.61" width="7.02" height="42.85" fill="url(#a_dn)" opacity="0.060"/><rect x="154.41" y="238.48" width="5.21" height="34.08" fill="#636363"/><rect x="174.06" y="226.45" width="6.01" height="46.11" fill="#626262"/><rect x="348.48" y="242.49" width="7.02" height="30.07" fill="#5e5e5e"/><rect x="390.58" y="250.51" width="13.03" height="22.05" fill="#636363"/><rect x="236.21" y="264.54" width="58.14" height="8.02" fill="#5d5d5d"/></g></g><rect x="560.2" y="181.1" width="11.7" height="92.6" fill="url(#cbg_a)"/><path d="M257.5 273.7v16.67M423.8 273.7v16.67M174.35 273.7v8.33M340.65 273.7v8.33M506.95 273.7v8.33M154 68.1h-16.67M154 157.8h-16.67M154 247.5h-16.67M154 112.95h-8.33M154 202.65h-8.33M571.9 200.1h16.67M571.9 249.9h16.67M154 42.7H560.2V273.7H154ZM560.2 181.1H571.9V273.7H560.2Z" fill="none" stroke="#000" stroke-width="2.08" stroke-linejoin="miter" stroke-linecap="butt"/><text x="257.5" y="319.6" font-size="29.17" text-anchor="middle">−200</text><text x="423.8" y="319.6" font-size="29.17" text-anchor="middle">−190</text><text x="129" y="78.7" font-size="29.17" text-anchor="end">2500</text><text x="129" y="168.4" font-size="29.17" text-anchor="end">0</text><text x="129" y="258.1" font-size="29.17" text-anchor="end">−2500</text><text x="596.9" y="209.9" font-size="25" text-anchor="start">5</text><text x="596.9" y="259.7" font-size="25" text-anchor="start">0</text><text x="357.1" y="363.6" font-size="29.17" text-anchor="middle"><tspan font-style="italic">V</tspan><tspan font-size="0.7em" dy="0.21em">QDL</tspan><tspan dy="-0.15em"> (mV)</tspan></text><text transform="translate(23.3,158.2) rotate(-90)" font-size="29.17" text-anchor="middle"><tspan font-style="italic">V</tspan><tspan font-size="0.7em" dy="0.21em">L</tspan><tspan dy="-0.15em"> (μV)</tspan></text><text transform="translate(639.1,227.4) rotate(90)" font-size="29.17" text-anchor="middle"><tspan font-style="italic">I</tspan><tspan font-size="0.7em" dy="0.21em">L</tspan><tspan dy="-0.15em"> (nA)</tspan></text><text x="3.1" y="70.2" font-size="33.33" text-anchor="start" font-weight="bold">a</text><text x="359.6" y="25.2" font-size="33.33" text-anchor="middle">Characterizations QDL</text></g><g id="panel-b"><g clip-path="url(#clip_b)"><g filter="url(#cm_rdbu)"><rect x="858.3" y="40.5" width="410.05" height="235.2" fill="#808080"/><rect x="856" y="42.01" width="417" height="116.28" fill="url(#lg1)"/><g filter="url(#b20)"><ellipse cx="1072.52" cy="72.08" rx="76.18" ry="66.16" fill="#fff" opacity="0.09"/><ellipse cx="1226.89" cy="72.08" rx="66.16" ry="68.16" fill="#fff" opacity="0.17"/><ellipse cx="876.05" cy="124.21" rx="130.31" ry="50.12" fill="#808080" opacity="0.6"/><ellipse cx="1156.72" cy="162.3" rx="140.34" ry="24.06" fill="#808080" opacity="0.8"/><ellipse cx="916.14" cy="142.25" rx="100.24" ry="32.08" fill="#808080" opacity="0.7"/></g><g filter="url(#bv2)"><rect x="856" y="39.6" width="417" height="8.42" fill="url(#lg2)"/></g><g filter="url(#bv4)"><rect x="856" y="38" width="417" height="12.03" fill="url(#lg3)"/></g><g filter="url(#b6)"><path d="M843.97 204.4C846.71 203.4 851.72 200.72 860.41 198.38C869.1 196.05 883.47 193.37 896.1 190.37C908.73 187.36 924.5 183.28 936.19 180.34C947.89 177.4 956.24 174.56 966.26 172.72C976.29 170.89 987.32 169.55 996.34 169.32C1005.36 169.08 1013.71 169.48 1020.39 171.32C1027.08 173.16 1031.09 177.17 1036.43 180.34C1041.78 183.52 1044.12 188.36 1052.47 190.37C1060.82 192.37 1074.19 192.87 1086.55 192.37C1098.92 191.87 1113.28 189.2 1126.65 187.36C1140.01 185.52 1155.05 182.18 1166.75 181.34C1178.44 180.51 1186.79 180.84 1196.82 182.35C1206.84 183.85 1215.36 187.36 1226.89 190.37C1238.42 193.37 1256.96 198.05 1265.98 200.39C1275.01 202.73 1278.51 203.73 1281.02 204.4L1281.02 290.61L843.97 290.61Z" fill="url(#lg4)"/></g><g filter="url(#b12)"><path d="M843.97 208.41L996.34 218.43L1156.72 290.61L843.97 290.61Z" fill="url(#lg5)"/></g></g></g><rect x="1266.35" y="180.9" width="11.7" height="92.8" fill="url(#cbg_b)"/><path d="M958.7 273.7v16.67M1148.4 273.7v16.67M863.85 273.7v8.33M1053.55 273.7v8.33M1243.25 273.7v8.33M860.3 62.6h-16.67M860.3 158.75h-16.67M860.3 254.9h-16.67M860.3 110.68h-8.33M860.3 206.82h-8.33M1278.05 199.4h16.67M1278.05 254.6h16.67M860.3 42.5H1266.35V273.7H860.3ZM1266.35 180.9H1278.05V273.7H1266.35Z" fill="none" stroke="#000" stroke-width="2.08" stroke-linejoin="miter" stroke-linecap="butt"/><text x="958.7" y="319.6" font-size="29.17" text-anchor="middle">−220</text><text x="1148.4" y="319.6" font-size="29.17" text-anchor="middle">−210</text><text x="835.3" y="73.2" font-size="29.17" text-anchor="end">2500</text><text x="835.3" y="169.35" font-size="29.17" text-anchor="end">0</text><text x="835.3" y="265.5" font-size="29.17" text-anchor="end">−2500</text><text x="1303.05" y="209.2" font-size="25" text-anchor="start">1.5</text><text x="1303.05" y="264.4" font-size="25" text-anchor="start">0</text><text x="1063.32" y="363.6" font-size="29.17" text-anchor="middle"><tspan font-style="italic">V</tspan><tspan font-size="0.7em" dy="0.21em">QDM</tspan><tspan dy="-0.15em"> (mV)</tspan></text><text transform="translate(729.5,158.1) rotate(-90)" font-size="29.17" text-anchor="middle"><tspan font-style="italic">V</tspan><tspan font-size="0.7em" dy="0.21em">M</tspan><tspan dy="-0.15em"> (μV)</tspan></text><text transform="translate(1366.9,227.3) rotate(90)" font-size="29.17" text-anchor="middle"><tspan font-style="italic">I</tspan><tspan font-size="0.7em" dy="0.21em">M</tspan><tspan dy="-0.15em"> (nA)</tspan></text><text x="717" y="70" font-size="33.33" text-anchor="start" font-weight="bold">b</text><text x="1062.5" y="25.2" font-size="33.33" text-anchor="middle">Characterizations QDM</text></g><g id="panel-c"><g clip-path="url(#clip_c)"><g filter="url(#cm_rdbu)"><rect x="1567.3" y="40.5" width="409.8" height="235.2" fill="#808080"/><rect x="1566" y="42.01" width="14" height="230.55" fill="url(#cc0)"/><rect x="1580" y="42.01" width="12" height="230.55" fill="url(#cc1)"/><rect x="1592" y="42.01" width="11" height="230.55" fill="url(#cc2)"/><rect x="1603" y="42.01" width="12" height="230.55" fill="url(#cc3)"/><rect x="1615" y="42.01" width="11" height="230.55" fill="url(#cc4)"/><rect x="1626" y="42.01" width="12" height="230.55" fill="url(#cc5)"/><rect x="1638" y="42.01" width="12" height="230.55" fill="url(#cc6)"/><rect x="1650" y="42.01" width="11" height="230.55" fill="url(#cc7)"/><rect x="1661" y="42.01" width="12" height="230.55" fill="url(#cc8)"/><rect x="1673" y="42.01" width="11" height="230.55" fill="url(#cc9)"/><rect x="1684" y="42.01" width="12" height="230.55" fill="url(#cc10)"/><rect x="1696" y="42.01" width="11" height="230.55" fill="url(#cc11)"/><rect x="1707" y="42.01" width="12" height="230.55" fill="url(#cc12)"/><rect x="1719" y="42.01" width="12" height="230.55" fill="url(#cc13)"/><rect x="1731" y="42.01" width="11" height="230.55" fill="url(#cc14)"/><rect x="1742" y="42.01" width="12" height="230.55" fill="url(#cc15)"/><rect x="1754" y="42.01" width="11" height="230.55" fill="url(#cc16)"/><rect x="1765" y="42.01" width="12" height="230.55" fill="url(#cc17)"/><rect x="1777" y="42.01" width="12" height="230.55" fill="url(#cc18)"/><rect x="1789" y="42.01" width="11" height="230.55" fill="url(#cc19)"/><rect x="1800" y="42.01" width="12" height="230.55" fill="url(#cc20)"/><rect x="1812" y="42.01" width="11" height="230.55" fill="url(#cc21)"/><rect x="1823" y="42.01" width="12" height="230.55" fill="url(#cc22)"/><rect x="1835" y="42.01" width="12" height="230.55" fill="url(#cc23)"/><rect x="1847" y="42.01" width="11" height="230.55" fill="url(#cc24)"/><rect x="1858" y="42.01" width="12" height="230.55" fill="url(#cc25)"/><rect x="1870" y="42.01" width="11" height="230.55" fill="url(#cc26)"/><rect x="1881" y="42.01" width="12" height="230.55" fill="url(#cc27)"/><rect x="1893" y="42.01" width="11" height="230.55" fill="url(#cc28)"/><rect x="1904" y="42.01" width="12" height="230.55" fill="url(#cc29)"/><rect x="1916" y="42.01" width="12" height="230.55" fill="url(#cc30)"/><rect x="1928" y="42.01" width="11" height="230.55" fill="url(#cc31)"/><rect x="1939" y="42.01" width="12" height="230.55" fill="url(#cc32)"/><rect x="1951" y="42.01" width="11" height="230.55" fill="url(#cc33)"/><rect x="1962" y="42.01" width="14" height="230.55" fill="url(#cc34)"/></g></g><rect x="1975.1" y="181.3" width="11.7" height="92.4" fill="url(#cbg_c)"/><path d="M1667.4 273.7v16.67M1783.45 273.7v16.67M1899.5 273.7v16.67M1609.38 273.7v8.33M1725.43 273.7v8.33M1841.47 273.7v8.33M1957.53 273.7v8.33M1569.3 61.2h-16.67M1569.3 156.8h-16.67M1569.3 252.4h-16.67M1569.3 109h-8.33M1569.3 204.6h-8.33M1986.8 182.4h16.67M1986.8 234.6h16.67M1569.3 42.5H1975.1V273.7H1569.3ZM1975.1 181.3H1986.8V273.7H1975.1Z" fill="none" stroke="#000" stroke-width="2.08" stroke-linejoin="miter" stroke-linecap="butt"/><text x="1667.4" y="319.6" font-size="29.17" text-anchor="middle">−250</text><text x="1783.45" y="319.6" font-size="29.17" text-anchor="middle">−245</text><text x="1899.5" y="319.6" font-size="29.17" text-anchor="middle">−240</text><text x="1544.3" y="71.8" font-size="29.17" text-anchor="end">2500</text><text x="1544.3" y="167.4" font-size="29.17" text-anchor="end">0</text><text x="1544.3" y="263" font-size="29.17" text-anchor="end">−2500</text><text x="2011.8" y="192.2" font-size="25" text-anchor="start">3</text><text x="2011.8" y="244.4" font-size="25" text-anchor="start">0</text><text x="1772.2" y="363.6" font-size="29.17" text-anchor="middle"><tspan font-style="italic">V</tspan><tspan font-size="0.7em" dy="0.21em">QDR</tspan><tspan dy="-0.15em"> (mV)</tspan></text><text transform="translate(1438,158.1) rotate(-90)" font-size="29.17" text-anchor="middle"><tspan font-style="italic">V</tspan><tspan font-size="0.7em" dy="0.21em">R</tspan><tspan dy="-0.15em"> (μV)</tspan></text><text transform="translate(2055,227.5) rotate(90)" font-size="29.17" text-anchor="middle"><tspan font-style="italic">I</tspan><tspan font-size="0.7em" dy="0.21em">R</tspan><tspan dy="-0.15em"> (nA)</tspan></text><text x="1418.5" y="70" font-size="33.33" text-anchor="start" font-weight="bold">c</text><text x="1766.8" y="25.2" font-size="33.33" text-anchor="middle">Characterizations QDR</text></g><g id="panel-d"><g clip-path="url(#clip_d)"><g filter="url(#cm_dn)"><rect x="152" y="407.7" width="410.2" height="234.6" fill="#1b1b1b"/><g filter="url(#b2)"><rect x="187" y="634.8" width="13" height="5" fill="#fff" opacity="0.42"/><rect x="191" y="625.3" width="3" height="9" fill="#fff" opacity="0.3"/></g><g filter="url(#bd_glow)"><path d="M180.07 656.6C182.75 653.1 188.26 645.74 196.11 635.55C203.96 625.36 218.83 607.49 227.19 595.46C235.54 583.43 239.62 575.14 246.23 563.38C252.85 551.62 260.2 536.08 266.88 524.89C273.56 513.69 279.74 504.34 286.33 496.22C292.91 488.1 299.69 481.52 306.38 476.17C313.06 470.82 319.07 467.05 326.42 464.14C333.77 461.23 343.13 459.16 350.48 458.73C357.83 458.29 363.85 459.4 370.53 461.54C377.21 463.67 383.89 466.95 390.58 471.56C397.26 476.17 404.61 483.25 410.63 489.2C416.64 495.15 421.82 501.3 426.66 507.25C431.51 513.19 435.02 517.87 439.7 524.89C444.37 531.9 449.55 540.59 454.73 549.35C459.91 558.1 464.76 567.39 470.77 577.41C476.78 587.44 484.14 599.8 490.82 609.49C497.5 619.18 505.19 628.2 510.87 635.55C516.55 642.9 522.56 650.59 524.9 653.6" fill="none" stroke="url(#lg6)" stroke-width="6.5" stroke-linecap="butt"/><path d="M190.1 396.98C191.77 399.65 195.78 406 200.12 413.02C204.46 420.04 210.48 429.73 216.16 439.08C221.84 448.44 228.52 459.8 234.2 469.15C239.88 478.51 244.79 485.93 250.24 495.22C255.69 504.51 261.53 516.87 266.88 524.89C272.23 532.91 276.4 536.92 282.32 543.33C288.23 549.75 295.01 557.7 302.37 563.38C309.72 569.06 318.4 574.01 326.42 577.41C334.44 580.82 343.13 582.99 350.48 583.83C357.83 584.66 363.85 584.1 370.53 582.43C377.21 580.76 383.89 577.81 390.58 573.81C397.26 569.8 404.61 563.71 410.63 558.37C416.64 553.02 421.82 547.31 426.66 541.73C431.51 536.15 434.68 533.14 439.7 524.89C444.71 516.63 450.72 504 456.74 492.21C462.75 480.41 469.77 464.64 475.78 454.12C481.8 443.59 487.31 436.41 492.82 429.06C498.34 421.71 504.18 415.69 508.86 410.01C513.54 404.33 518.89 397.48 520.89 394.98" fill="none" stroke="url(#lg8)" stroke-width="6.5" stroke-linecap="butt"/></g><g filter="url(#bd_core)"><path d="M180.07 656.6C182.75 653.1 188.26 645.74 196.11 635.55C203.96 625.36 218.83 607.49 227.19 595.46C235.54 583.43 239.62 575.14 246.23 563.38C252.85 551.62 260.2 536.08 266.88 524.89C273.56 513.69 279.74 504.34 286.33 496.22C292.91 488.1 299.69 481.52 306.38 476.17C313.06 470.82 319.07 467.05 326.42 464.14C333.77 461.23 343.13 459.16 350.48 458.73C357.83 458.29 363.85 459.4 370.53 461.54C377.21 463.67 383.89 466.95 390.58 471.56C397.26 476.17 404.61 483.25 410.63 489.2C416.64 495.15 421.82 501.3 426.66 507.25C431.51 513.19 435.02 517.87 439.7 524.89C444.37 531.9 449.55 540.59 454.73 549.35C459.91 558.1 464.76 567.39 470.77 577.41C476.78 587.44 484.14 599.8 490.82 609.49C497.5 619.18 505.19 628.2 510.87 635.55C516.55 642.9 522.56 650.59 524.9 653.6" fill="none" stroke="url(#lg7)" stroke-width="6.5" stroke-linecap="butt"/><path d="M190.1 396.98C191.77 399.65 195.78 406 200.12 413.02C204.46 420.04 210.48 429.73 216.16 439.08C221.84 448.44 228.52 459.8 234.2 469.15C239.88 478.51 244.79 485.93 250.24 495.22C255.69 504.51 261.53 516.87 266.88 524.89C272.23 532.91 276.4 536.92 282.32 543.33C288.23 549.75 295.01 557.7 302.37 563.38C309.72 569.06 318.4 574.01 326.42 577.41C334.44 580.82 343.13 582.99 350.48 583.83C357.83 584.66 363.85 584.1 370.53 582.43C377.21 580.76 383.89 577.81 390.58 573.81C397.26 569.8 404.61 563.71 410.63 558.37C416.64 553.02 421.82 547.31 426.66 541.73C431.51 536.15 434.68 533.14 439.7 524.89C444.71 516.63 450.72 504 456.74 492.21C462.75 480.41 469.77 464.64 475.78 454.12C481.8 443.59 487.31 436.41 492.82 429.06C498.34 421.71 504.18 415.69 508.86 410.01C513.54 404.33 518.89 397.48 520.89 394.98" fill="none" stroke="url(#lg9)" stroke-width="6.5" stroke-linecap="butt"/></g></g></g><rect x="560.2" y="548.4" width="11.7" height="91.9" fill="url(#cbg_d)"/><path d="M245.3 640.3v16.67M356.9 640.3v16.67M468.5 640.3v16.67M189.5 640.3v8.33M301.1 640.3v8.33M412.7 640.3v8.33M524.3 640.3v8.33M154 409.7h-16.67M154 525h-16.67M154 640.3h-16.67M154 467.35h-8.33M154 582.65h-8.33M571.9 548.4h16.67M571.9 594.4h16.67M571.9 640.3h16.67M154 409.7H560.2V640.3H154ZM560.2 548.4H571.9V640.3H560.2Z" fill="none" stroke="#000" stroke-width="2.08" stroke-linejoin="miter" stroke-linecap="butt"/><text x="245.3" y="686.2" font-size="29.17" text-anchor="middle">−200</text><text x="356.9" y="686.2" font-size="29.17" text-anchor="middle">−195</text><text x="468.5" y="686.2" font-size="29.17" text-anchor="middle">−190</text><text x="129" y="420.3" font-size="29.17" text-anchor="end">200</text><text x="129" y="535.6" font-size="29.17" text-anchor="end">0</text><text x="129" y="650.9" font-size="29.17" text-anchor="end">−200</text><text x="596.9" y="558.2" font-size="25" text-anchor="start">1</text><text x="596.9" y="604.2" font-size="25" text-anchor="start">0.5</text><text x="596.9" y="650.1" font-size="25" text-anchor="start">0</text><text x="357.1" y="730.2" font-size="29.17" text-anchor="middle"><tspan font-style="italic">V</tspan><tspan font-size="0.7em" dy="0.21em">QDL</tspan><tspan dy="-0.15em"> (mV)</tspan></text><text transform="translate(42.5,525) rotate(-90)" font-size="29.17" text-anchor="middle"><tspan font-style="italic">V</tspan><tspan font-size="0.7em" dy="0.21em">L</tspan><tspan dy="-0.15em"> (μV)</tspan></text><text transform="translate(654.7,594.35) rotate(90)" font-size="29.17" text-anchor="middle"><tspan font-style="italic">S</tspan><tspan font-size="0.7em" dy="0.33em">21</tspan><tspan font-size="0.7em" dx="-1.03em" dy="-0.96em">L</tspan><tspan dx="0.33em" dy="0.44em"> (arb.unit)</tspan></text><text x="3.1" y="421.7" font-size="33.33" text-anchor="start" font-weight="bold">d</text></g><g id="panel-e"><g clip-path="url(#clip_e)"><g filter="url(#cm_dn)"><rect x="858.3" y="407.7" width="410.05" height="234.6" fill="#131313"/><g filter="url(#bg_e)"><path d="M916.14 645.58C917.82 644.91 921.49 643.57 926.17 641.57C930.85 639.56 938.53 637.56 944.21 633.55C949.89 629.54 954.9 625.53 960.25 617.51C965.6 609.49 970.94 598.13 976.29 585.43C981.63 572.74 987.65 554.69 992.33 541.33C997.01 527.96 1000.35 516.77 1004.36 505.24C1008.37 493.71 1012.38 481.68 1016.38 472.16C1020.39 462.64 1024.07 454.79 1028.41 448.1C1032.76 441.42 1037.44 435.97 1042.45 432.06C1047.46 428.16 1052.81 425.65 1058.49 424.65C1064.17 423.64 1070.18 424.15 1076.53 426.05C1082.88 427.96 1090.9 431.56 1096.58 436.07C1102.26 440.59 1108.27 450.28 1110.61 453.12" fill="none" stroke="url(#lg10)" stroke-width="7" stroke-linecap="butt"/><path d="M1020.39 597.46C1023.07 600.13 1031.09 609.32 1036.43 613.5C1041.78 617.68 1046.46 620.78 1052.47 622.52C1058.49 624.26 1065.17 625.26 1072.52 623.93C1079.87 622.59 1089.23 618.75 1096.58 614.5C1103.93 610.26 1110.61 604.81 1116.63 598.46C1122.64 592.12 1127.65 585.27 1132.66 576.41C1137.68 567.56 1142.02 556.53 1146.7 545.34C1151.38 534.14 1156.05 521.28 1160.73 509.25C1165.41 497.22 1170.09 484.69 1174.77 473.16C1179.44 461.64 1184.12 449.27 1188.8 440.08C1193.48 430.9 1198.15 423.48 1202.83 418.03C1207.51 412.58 1211.85 410.08 1216.87 407.41C1221.88 404.73 1230.23 402.89 1232.9 401.99" fill="none" stroke="url(#lg12)" stroke-width="7" stroke-linecap="butt"/></g><g filter="url(#bc_e)"><path d="M916.14 645.58C917.82 644.91 921.49 643.57 926.17 641.57C930.85 639.56 938.53 637.56 944.21 633.55C949.89 629.54 954.9 625.53 960.25 617.51C965.6 609.49 970.94 598.13 976.29 585.43C981.63 572.74 987.65 554.69 992.33 541.33C997.01 527.96 1000.35 516.77 1004.36 505.24C1008.37 493.71 1012.38 481.68 1016.38 472.16C1020.39 462.64 1024.07 454.79 1028.41 448.1C1032.76 441.42 1037.44 435.97 1042.45 432.06C1047.46 428.16 1052.81 425.65 1058.49 424.65C1064.17 423.64 1070.18 424.15 1076.53 426.05C1082.88 427.96 1090.9 431.56 1096.58 436.07C1102.26 440.59 1108.27 450.28 1110.61 453.12" fill="none" stroke="url(#lg11)" stroke-width="7" stroke-linecap="butt"/><path d="M1020.39 597.46C1023.07 600.13 1031.09 609.32 1036.43 613.5C1041.78 617.68 1046.46 620.78 1052.47 622.52C1058.49 624.26 1065.17 625.26 1072.52 623.93C1079.87 622.59 1089.23 618.75 1096.58 614.5C1103.93 610.26 1110.61 604.81 1116.63 598.46C1122.64 592.12 1127.65 585.27 1132.66 576.41C1137.68 567.56 1142.02 556.53 1146.7 545.34C1151.38 534.14 1156.05 521.28 1160.73 509.25C1165.41 497.22 1170.09 484.69 1174.77 473.16C1179.44 461.64 1184.12 449.27 1188.8 440.08C1193.48 430.9 1198.15 423.48 1202.83 418.03C1207.51 412.58 1211.85 410.08 1216.87 407.41C1221.88 404.73 1230.23 402.89 1232.9 401.99" fill="none" stroke="url(#lg13)" stroke-width="7" stroke-linecap="butt"/></g></g></g><rect x="1266.35" y="548.4" width="11.7" height="91.9" fill="url(#cbg_e)"/><path d="M963 640.3v16.67M1163.6 640.3v16.67M862.7 640.3v8.33M1063.3 640.3v8.33M1263.9 640.3v8.33M860.3 409.7h-16.67M860.3 525h-16.67M860.3 640.3h-16.67M860.3 467.35h-8.33M860.3 582.65h-8.33M1278.05 548.4h16.67M1278.05 594.4h16.67M1278.05 640.3h16.67M860.3 409.7H1266.35V640.3H860.3ZM1266.35 548.4H1278.05V640.3H1266.35Z" fill="none" stroke="#000" stroke-width="2.08" stroke-linejoin="miter" stroke-linecap="butt"/><text x="963" y="686.2" font-size="29.17" text-anchor="middle">−220</text><text x="1163.6" y="686.2" font-size="29.17" text-anchor="middle">−210</text><text x="835.3" y="420.3" font-size="29.17" text-anchor="end">200</text><text x="835.3" y="535.6" font-size="29.17" text-anchor="end">0</text><text x="835.3" y="650.9" font-size="29.17" text-anchor="end">−200</text><text x="1303.05" y="558.2" font-size="25" text-anchor="start">1</text><text x="1303.05" y="604.2" font-size="25" text-anchor="start">0.5</text><text x="1303.05" y="650.1" font-size="25" text-anchor="start">0</text><text x="1063.32" y="730.2" font-size="29.17" text-anchor="middle"><tspan font-style="italic">V</tspan><tspan font-size="0.7em" dy="0.21em">QDM</tspan><tspan dy="-0.15em"> (mV)</tspan></text><text transform="translate(745.7,525) rotate(-90)" font-size="29.17" text-anchor="middle"><tspan font-style="italic">V</tspan><tspan font-size="0.7em" dy="0.21em">M</tspan><tspan dy="-0.15em"> (μV)</tspan></text><text transform="translate(1361,594.35) rotate(90)" font-size="29.17" text-anchor="middle"><tspan font-style="italic">S</tspan><tspan font-size="0.7em" dy="0.33em">21</tspan><tspan font-size="0.7em" dx="-1.03em" dy="-0.96em">M</tspan><tspan dx="0.14em" dy="0.44em"> (arb.unit)</tspan></text><text x="717" y="421.7" font-size="33.33" text-anchor="start" font-weight="bold">e</text></g><g id="panel-f"><g clip-path="url(#clip_f)"><g filter="url(#cm_dn)"><rect x="1567.3" y="407.7" width="409.8" height="234.6" fill="#0d0d0d"/><g filter="url(#bg_f)"><path d="M1555.98 446.1C1558.32 448.27 1563.67 453.28 1570.01 459.13C1576.36 464.98 1585.72 473.83 1594.07 481.18C1602.43 488.53 1611.78 496.05 1620.13 503.24C1628.49 510.42 1636.17 517.6 1644.19 524.29C1652.21 530.97 1659.9 537.48 1668.25 543.33C1676.6 549.18 1684.96 555.03 1694.31 559.37C1703.67 563.71 1714.36 567.39 1724.38 569.39C1734.41 571.4 1744.43 572.07 1754.46 571.4C1764.48 570.73 1774.51 568.73 1784.53 565.38C1794.55 562.04 1804.58 556.36 1814.6 551.35C1824.63 546.34 1836.32 539.82 1844.67 535.31C1853.03 530.8 1856.37 529.97 1864.72 524.29C1873.08 518.61 1884.77 509.08 1894.79 501.23C1904.82 493.38 1914.84 484.52 1924.87 477.17C1934.89 469.82 1946.75 462.14 1954.94 457.13C1963.12 452.11 1968.97 449.77 1973.98 447.1C1979 444.43 1983.17 442.09 1985.01 441.09" fill="none" stroke="url(#lg14)" stroke-width="9" stroke-linecap="butt"/><path d="M1555.98 602.47C1558.32 600.3 1563.67 595.29 1570.01 589.44C1576.36 583.6 1585.72 574.74 1594.07 567.39C1602.43 560.04 1611.78 552.52 1620.13 545.34C1628.49 538.15 1636.17 530.97 1644.19 524.29C1652.21 517.6 1659.9 511.09 1668.25 505.24C1676.6 499.39 1685.63 493.21 1694.31 489.2C1703 485.19 1712.02 482.69 1720.38 481.18C1728.73 479.68 1735.41 479.18 1744.43 480.18C1753.45 481.18 1764.48 484.02 1774.51 487.2C1784.53 490.37 1794.55 494.88 1804.58 499.23C1814.6 503.57 1824.63 508.92 1834.65 513.26C1844.67 517.6 1854.7 519.94 1864.72 525.29C1874.75 530.63 1884.77 538.65 1894.79 545.34C1904.82 552.02 1914.84 558.7 1924.87 565.38C1934.89 572.07 1946.75 580.09 1954.94 585.43C1963.12 590.78 1968.97 594.29 1973.98 597.46C1979 600.64 1983.17 603.31 1985.01 604.48" fill="none" stroke="url(#lg16)" stroke-width="9" stroke-linecap="butt"/><path d="M1684.29 407C1690.97 407.34 1711.02 407.84 1724.38 409.01C1737.75 410.18 1751.12 411.68 1764.48 414.02C1777.85 416.36 1791.21 420.04 1804.58 423.04C1817.94 426.05 1832.98 430.06 1844.67 432.06C1856.37 434.07 1864.72 435.24 1874.75 435.07C1884.77 434.91 1894.79 433.4 1904.82 431.06C1914.84 428.72 1926.54 423.88 1934.89 421.04C1943.24 418.2 1948.42 416.53 1954.94 414.02C1961.45 411.52 1968.97 408.17 1973.98 406C1979 403.83 1983.17 401.83 1985.01 400.99" fill="none" stroke="url(#lg18)" stroke-width="9" stroke-linecap="butt"/><path d="M1555.98 635.55C1558.32 635.55 1562 635.39 1570.01 635.55C1578.03 635.72 1593.4 635.55 1604.1 636.56C1614.79 637.56 1625.82 640.06 1634.17 641.57C1642.52 643.07 1650.88 644.91 1654.22 645.58" fill="none" stroke="url(#lg20)" stroke-width="9" stroke-linecap="butt"/></g><g filter="url(#bc_f)"><path d="M1555.98 446.1C1558.32 448.27 1563.67 453.28 1570.01 459.13C1576.36 464.98 1585.72 473.83 1594.07 481.18C1602.43 488.53 1611.78 496.05 1620.13 503.24C1628.49 510.42 1636.17 517.6 1644.19 524.29C1652.21 530.97 1659.9 537.48 1668.25 543.33C1676.6 549.18 1684.96 555.03 1694.31 559.37C1703.67 563.71 1714.36 567.39 1724.38 569.39C1734.41 571.4 1744.43 572.07 1754.46 571.4C1764.48 570.73 1774.51 568.73 1784.53 565.38C1794.55 562.04 1804.58 556.36 1814.6 551.35C1824.63 546.34 1836.32 539.82 1844.67 535.31C1853.03 530.8 1856.37 529.97 1864.72 524.29C1873.08 518.61 1884.77 509.08 1894.79 501.23C1904.82 493.38 1914.84 484.52 1924.87 477.17C1934.89 469.82 1946.75 462.14 1954.94 457.13C1963.12 452.11 1968.97 449.77 1973.98 447.1C1979 444.43 1983.17 442.09 1985.01 441.09" fill="none" stroke="url(#lg15)" stroke-width="9" stroke-linecap="butt"/><path d="M1555.98 602.47C1558.32 600.3 1563.67 595.29 1570.01 589.44C1576.36 583.6 1585.72 574.74 1594.07 567.39C1602.43 560.04 1611.78 552.52 1620.13 545.34C1628.49 538.15 1636.17 530.97 1644.19 524.29C1652.21 517.6 1659.9 511.09 1668.25 505.24C1676.6 499.39 1685.63 493.21 1694.31 489.2C1703 485.19 1712.02 482.69 1720.38 481.18C1728.73 479.68 1735.41 479.18 1744.43 480.18C1753.45 481.18 1764.48 484.02 1774.51 487.2C1784.53 490.37 1794.55 494.88 1804.58 499.23C1814.6 503.57 1824.63 508.92 1834.65 513.26C1844.67 517.6 1854.7 519.94 1864.72 525.29C1874.75 530.63 1884.77 538.65 1894.79 545.34C1904.82 552.02 1914.84 558.7 1924.87 565.38C1934.89 572.07 1946.75 580.09 1954.94 585.43C1963.12 590.78 1968.97 594.29 1973.98 597.46C1979 600.64 1983.17 603.31 1985.01 604.48" fill="none" stroke="url(#lg17)" stroke-width="9" stroke-linecap="butt"/><path d="M1684.29 407C1690.97 407.34 1711.02 407.84 1724.38 409.01C1737.75 410.18 1751.12 411.68 1764.48 414.02C1777.85 416.36 1791.21 420.04 1804.58 423.04C1817.94 426.05 1832.98 430.06 1844.67 432.06C1856.37 434.07 1864.72 435.24 1874.75 435.07C1884.77 434.91 1894.79 433.4 1904.82 431.06C1914.84 428.72 1926.54 423.88 1934.89 421.04C1943.24 418.2 1948.42 416.53 1954.94 414.02C1961.45 411.52 1968.97 408.17 1973.98 406C1979 403.83 1983.17 401.83 1985.01 400.99" fill="none" stroke="url(#lg19)" stroke-width="9" stroke-linecap="butt"/><path d="M1555.98 635.55C1558.32 635.55 1562 635.39 1570.01 635.55C1578.03 635.72 1593.4 635.55 1604.1 636.56C1614.79 637.56 1625.82 640.06 1634.17 641.57C1642.52 643.07 1650.88 644.91 1654.22 645.58" fill="none" stroke="url(#lg21)" stroke-width="9" stroke-linecap="butt"/></g></g></g><rect x="1975.1" y="548.4" width="11.7" height="91.9" fill="url(#cbg_f)"/><path d="M1664.3 640.3v16.67M1783.75 640.3v16.67M1903.2 640.3v16.67M1604.57 640.3v8.33M1724.03 640.3v8.33M1843.47 640.3v8.33M1962.93 640.3v8.33M1569.3 409.7h-16.67M1569.3 525h-16.67M1569.3 640.3h-16.67M1569.3 467.35h-8.33M1569.3 582.65h-8.33M1986.8 548.4h16.67M1986.8 594.4h16.67M1986.8 640.3h16.67M1569.3 409.7H1975.1V640.3H1569.3ZM1975.1 548.4H1986.8V640.3H1975.1Z" fill="none" stroke="#000" stroke-width="2.08" stroke-linejoin="miter" stroke-linecap="butt"/><text x="1664.3" y="686.2" font-size="29.17" text-anchor="middle">−250</text><text x="1783.75" y="686.2" font-size="29.17" text-anchor="middle">−245</text><text x="1903.2" y="686.2" font-size="29.17" text-anchor="middle">−240</text><text x="1544.3" y="420.3" font-size="29.17" text-anchor="end">200</text><text x="1544.3" y="535.6" font-size="29.17" text-anchor="end">0</text><text x="1544.3" y="650.9" font-size="29.17" text-anchor="end">−200</text><text x="2011.8" y="558.2" font-size="25" text-anchor="start">1</text><text x="2011.8" y="604.2" font-size="25" text-anchor="start">0.5</text><text x="2011.8" y="650.1" font-size="25" text-anchor="start">0</text><text x="1772.2" y="730.2" font-size="29.17" text-anchor="middle"><tspan font-style="italic">V</tspan><tspan font-size="0.7em" dy="0.21em">QDR</tspan><tspan dy="-0.15em"> (mV)</tspan></text><text transform="translate(1455,525) rotate(-90)" font-size="29.17" text-anchor="middle"><tspan font-style="italic">V</tspan><tspan font-size="0.7em" dy="0.21em">R</tspan><tspan dy="-0.15em"> (μV)</tspan></text><text transform="translate(2070.8,594.35) rotate(90)" font-size="29.17" text-anchor="middle"><tspan font-style="italic">S</tspan><tspan font-size="0.7em" dy="0.33em">21</tspan><tspan font-size="0.7em" dx="-1.03em" dy="-0.96em">R</tspan><tspan dx="0.21em" dy="0.44em"> (arb.unit)</tspan></text><text x="1418.5" y="421.7" font-size="33.33" text-anchor="start" font-weight="bold">f</text></g><g id="panel-g"><g clip-path="url(#clip_g)"><g filter="url(#cm_reds)"><rect x="152" y="764.3" width="410.2" height="234.9" fill="#060606"/><g filter="url(#bcol_gg)" fill="#fff"><rect x="154.41" y="821.17" width="19.32" height="22" opacity="0.27"/><rect x="173.73" y="825.78" width="19.32" height="22" opacity="0.23"/><rect x="193.04" y="831.19" width="19.32" height="22" opacity="0.22"/><rect x="212.36" y="836.21" width="19.32" height="22" opacity="0.22"/><rect x="231.68" y="841.22" width="19.32" height="22" opacity="0.22"/><rect x="250.99" y="846.23" width="19.32" height="22" opacity="0.22"/><rect x="270.31" y="851.24" width="19.32" height="22" opacity="0.22"/><rect x="289.63" y="856.26" width="19.32" height="22" opacity="0.21"/><rect x="308.94" y="861.27" width="19.32" height="22" opacity="0.22"/><rect x="328.26" y="867.28" width="19.32" height="22" opacity="0.22"/><rect x="347.57" y="871.29" width="19.32" height="22" opacity="0.3"/><rect x="366.89" y="872.29" width="19.32" height="22" opacity="0.19"/><rect x="386.21" y="878.31" width="19.32" height="22" opacity="0.15"/><rect x="405.52" y="883.32" width="19.32" height="22" opacity="0.19"/><rect x="424.84" y="889.33" width="19.32" height="22" opacity="0.26"/><rect x="444.16" y="893.34" width="19.32" height="22" opacity="0.28"/><rect x="463.47" y="895.35" width="19.32" height="22" opacity="0.26"/><rect x="482.79" y="898.36" width="19.32" height="22" opacity="0.24"/><rect x="502.11" y="904.37" width="19.32" height="22" opacity="0.2"/><rect x="521.42" y="915.4" width="19.32" height="22" opacity="0.19"/><rect x="540.74" y="912.79" width="19.32" height="22" opacity="0.22"/><rect x="154.41" y="918.4" width="19.32" height="22" opacity="0.27"/><rect x="173.73" y="916.4" width="19.32" height="22" opacity="0.22"/><rect x="193.04" y="908.38" width="19.32" height="22" opacity="0.2"/><rect x="212.36" y="903.37" width="19.32" height="22" opacity="0.19"/><rect x="231.68" y="899.36" width="19.32" height="22" opacity="0.18"/><rect x="250.99" y="893.34" width="19.32" height="22" opacity="0.18"/><rect x="270.31" y="889.33" width="19.32" height="22" opacity="0.18"/><rect x="289.63" y="885.32" width="19.32" height="22" opacity="0.18"/><rect x="308.94" y="880.31" width="19.32" height="22" opacity="0.17"/><rect x="328.26" y="874.7" width="19.32" height="22" opacity="0.15"/><rect x="366.89" y="866.68" width="19.32" height="22" opacity="0.17"/><rect x="386.21" y="861.27" width="19.32" height="22" opacity="0.14"/><rect x="405.52" y="856.26" width="19.32" height="22" opacity="0.14"/><rect x="424.84" y="852.25" width="19.32" height="22" opacity="0.12"/><rect x="444.16" y="848.64" width="19.32" height="22" opacity="0.11"/><rect x="463.47" y="845.83" width="19.32" height="22" opacity="0.1"/><rect x="482.79" y="844.23" width="19.32" height="22" opacity="0.09"/><rect x="502.11" y="840.62" width="19.32" height="22" opacity="0.05"/><rect x="521.42" y="836.61" width="19.32" height="22" opacity="0.03"/><rect x="540.74" y="832.6" width="19.32" height="22" opacity="0.03"/><rect x="173.73" y="926.42" width="19.32" height="22" opacity="0.1"/><rect x="193.04" y="931.44" width="19.32" height="22" opacity="0.11"/><rect x="212.36" y="936.45" width="19.32" height="22" opacity="0.11"/><rect x="231.68" y="941.46" width="19.32" height="22" opacity="0.11"/><rect x="250.99" y="946.07" width="19.32" height="22" opacity="0.12"/><rect x="270.31" y="950.88" width="19.32" height="22" opacity="0.12"/><rect x="289.63" y="956.5" width="19.32" height="22" opacity="0.11"/><rect x="308.94" y="960.91" width="19.32" height="22" opacity="0.11"/><rect x="328.26" y="965.72" width="19.32" height="22" opacity="0.1"/><rect x="347.57" y="970.53" width="19.32" height="22" opacity="0.09"/><rect x="366.89" y="976.14" width="19.32" height="22" opacity="0.08"/><rect x="386.21" y="980.55" width="19.32" height="22" opacity="0.07"/><rect x="405.52" y="983.56" width="19.32" height="22" opacity="0.06"/><rect x="424.84" y="985.57" width="19.32" height="22" opacity="0.04"/><rect x="154.41" y="748.05" width="19.32" height="66" opacity="0.03"/><rect x="173.73" y="808.14" width="19.32" height="22" opacity="0.06"/><rect x="193.04" y="803.73" width="19.32" height="22" opacity="0.08"/><rect x="212.36" y="799.32" width="19.32" height="22" opacity="0.07"/><rect x="231.68" y="795.31" width="19.32" height="22" opacity="0.07"/><rect x="250.99" y="791.3" width="19.32" height="22" opacity="0.06"/><rect x="270.31" y="787.29" width="19.32" height="22" opacity="0.06"/><rect x="289.63" y="784.08" width="19.32" height="22" opacity="0.05"/><rect x="308.94" y="781.07" width="19.32" height="22" opacity="0.04"/><rect x="328.26" y="778.07" width="19.32" height="22" opacity="0.04"/><rect x="347.57" y="774.46" width="19.32" height="22" opacity="0.03"/><rect x="366.89" y="771.05" width="19.32" height="22" opacity="0.02"/><rect x="386.21" y="768.04" width="19.32" height="22" opacity="0.02"/><rect x="405.52" y="765.04" width="19.32" height="22" opacity="0.02"/><rect x="463.47" y="909.21" width="19.32" height="48.4" opacity="0.03"/><rect x="482.79" y="909.02" width="19.32" height="52.8" opacity="0.05"/><rect x="502.11" y="911.02" width="19.32" height="52.8" opacity="0.05"/><rect x="521.42" y="915.03" width="19.32" height="52.8" opacity="0.04"/><rect x="540.74" y="915.03" width="19.32" height="52.8" opacity="0.03"/><rect x="521.42" y="904.37" width="19.32" height="22" opacity="0.09"/><rect x="502.11" y="916.4" width="19.32" height="22" opacity="0.06"/></g><g filter="url(#bcol_g)" fill="#fff"><rect x="154.41" y="827.17" width="19.32" height="10" opacity="0.9"/><rect x="173.73" y="831.78" width="19.32" height="10" opacity="0.78"/><rect x="193.04" y="837.19" width="19.32" height="10" opacity="0.74"/><rect x="212.36" y="842.21" width="19.32" height="10" opacity="0.72"/><rect x="231.68" y="847.22" width="19.32" height="10" opacity="0.72"/><rect x="250.99" y="852.23" width="19.32" height="10" opacity="0.74"/><rect x="270.31" y="857.24" width="19.32" height="10" opacity="0.72"/><rect x="289.63" y="862.26" width="19.32" height="10" opacity="0.7"/><rect x="308.94" y="867.27" width="19.32" height="10" opacity="0.72"/><rect x="328.26" y="873.28" width="19.32" height="10" opacity="0.72"/><rect x="347.57" y="877.29" width="19.32" height="10" opacity="1"/><rect x="366.89" y="878.29" width="19.32" height="10" opacity="0.62"/><rect x="386.21" y="884.31" width="19.32" height="10" opacity="0.5"/><rect x="405.52" y="889.32" width="19.32" height="10" opacity="0.62"/><rect x="424.84" y="895.33" width="19.32" height="10" opacity="0.86"/><rect x="444.16" y="899.34" width="19.32" height="10" opacity="0.92"/><rect x="463.47" y="901.35" width="19.32" height="10" opacity="0.88"/><rect x="482.79" y="904.36" width="19.32" height="10" opacity="0.8"/><rect x="502.11" y="910.37" width="19.32" height="10" opacity="0.68"/><rect x="521.42" y="921.4" width="19.32" height="10" opacity="0.62"/><rect x="540.74" y="918.79" width="19.32" height="10" opacity="0.72"/><rect x="154.41" y="924.4" width="19.32" height="10" opacity="0.9"/><rect x="173.73" y="922.4" width="19.32" height="10" opacity="0.72"/><rect x="193.04" y="914.38" width="19.32" height="10" opacity="0.66"/><rect x="212.36" y="909.37" width="19.32" height="10" opacity="0.62"/><rect x="231.68" y="905.36" width="19.32" height="10" opacity="0.6"/><rect x="250.99" y="899.34" width="19.32" height="10" opacity="0.6"/><rect x="270.31" y="895.33" width="19.32" height="10" opacity="0.6"/><rect x="289.63" y="891.32" width="19.32" height="10" opacity="0.6"/><rect x="308.94" y="886.31" width="19.32" height="10" opacity="0.55"/><rect x="328.26" y="880.7" width="19.32" height="10" opacity="0.5"/><rect x="366.89" y="872.68" width="19.32" height="10" opacity="0.55"/><rect x="386.21" y="867.27" width="19.32" height="10" opacity="0.48"/><rect x="405.52" y="862.26" width="19.32" height="10" opacity="0.45"/><rect x="424.84" y="858.25" width="19.32" height="10" opacity="0.4"/><rect x="444.16" y="854.64" width="19.32" height="10" opacity="0.36"/><rect x="463.47" y="851.83" width="19.32" height="10" opacity="0.32"/><rect x="482.79" y="850.23" width="19.32" height="10" opacity="0.3"/><rect x="502.11" y="846.62" width="19.32" height="10" opacity="0.16"/><rect x="521.42" y="842.61" width="19.32" height="10" opacity="0.1"/><rect x="540.74" y="838.6" width="19.32" height="10" opacity="0.1"/><rect x="173.73" y="932.42" width="19.32" height="10" opacity="0.32"/><rect x="193.04" y="937.44" width="19.32" height="10" opacity="0.36"/><rect x="212.36" y="942.45" width="19.32" height="10" opacity="0.36"/><rect x="231.68" y="947.46" width="19.32" height="10" opacity="0.38"/><rect x="250.99" y="952.07" width="19.32" height="10" opacity="0.4"/><rect x="270.31" y="956.88" width="19.32" height="10" opacity="0.4"/><rect x="289.63" y="962.5" width="19.32" height="10" opacity="0.38"/><rect x="308.94" y="966.91" width="19.32" height="10" opacity="0.38"/><rect x="328.26" y="971.72" width="19.32" height="10" opacity="0.35"/><rect x="347.57" y="976.53" width="19.32" height="10" opacity="0.3"/><rect x="366.89" y="982.14" width="19.32" height="10" opacity="0.28"/><rect x="386.21" y="986.55" width="19.32" height="10" opacity="0.25"/><rect x="405.52" y="989.56" width="19.32" height="10" opacity="0.2"/><rect x="424.84" y="991.57" width="19.32" height="10" opacity="0.12"/><rect x="154.41" y="766.05" width="19.32" height="30" opacity="0.1"/><rect x="173.73" y="814.14" width="19.32" height="10" opacity="0.2"/><rect x="193.04" y="809.73" width="19.32" height="10" opacity="0.26"/><rect x="212.36" y="805.32" width="19.32" height="10" opacity="0.22"/><rect x="231.68" y="801.31" width="19.32" height="10" opacity="0.22"/><rect x="250.99" y="797.3" width="19.32" height="10" opacity="0.2"/><rect x="270.31" y="793.29" width="19.32" height="10" opacity="0.2"/><rect x="289.63" y="790.08" width="19.32" height="10" opacity="0.18"/><rect x="308.94" y="787.07" width="19.32" height="10" opacity="0.15"/><rect x="328.26" y="784.07" width="19.32" height="10" opacity="0.12"/><rect x="347.57" y="780.46" width="19.32" height="10" opacity="0.1"/><rect x="366.89" y="777.05" width="19.32" height="10" opacity="0.08"/><rect x="386.21" y="774.04" width="19.32" height="10" opacity="0.07"/><rect x="405.52" y="771.04" width="19.32" height="10" opacity="0.06"/><rect x="463.47" y="922.41" width="19.32" height="22" opacity="0.1"/><rect x="482.79" y="923.42" width="19.32" height="24" opacity="0.18"/><rect x="502.11" y="925.42" width="19.32" height="24" opacity="0.18"/><rect x="521.42" y="929.43" width="19.32" height="24" opacity="0.12"/><rect x="540.74" y="929.43" width="19.32" height="24" opacity="0.1"/><rect x="521.42" y="910.37" width="19.32" height="10" opacity="0.3"/><rect x="502.11" y="922.4" width="19.32" height="10" opacity="0.2"/></g></g></g><rect x="560.2" y="904.8" width="11.7" height="92.4" fill="url(#cbg_g)"/><path d="M163.7 997.2v16.67M356.9 997.2v16.67M550.1 997.2v16.67M260.3 997.2v8.33M453.5 997.2v8.33M154 790h-16.67M154 881.85h-16.67M154 973.7h-16.67M154 835.92h-8.33M154 927.78h-8.33M571.9 938.4h16.67M571.9 997.2h16.67M154 766.3H560.2V997.2H154ZM560.2 904.8H571.9V997.2H560.2Z" fill="none" stroke="#000" stroke-width="2.08" stroke-linejoin="miter" stroke-linecap="butt"/><text x="163.7" y="1043.1" font-size="29.17" text-anchor="middle">0</text><text x="356.9" y="1043.1" font-size="29.17" text-anchor="middle">0.2</text><text x="550.1" y="1043.1" font-size="29.17" text-anchor="middle">0.4</text><text x="129" y="800.6" font-size="29.17" text-anchor="end">200</text><text x="129" y="892.45" font-size="29.17" text-anchor="end">0</text><text x="129" y="984.3" font-size="29.17" text-anchor="end">−200</text><text x="596.9" y="948.2" font-size="25" text-anchor="start">0.08</text><text x="596.9" y="1007" font-size="25" text-anchor="start">0</text><text x="357.1" y="1087.1" font-size="29.17" text-anchor="middle"><tspan font-style="italic">B</tspan><tspan font-size="0.7em" dy="0.21em">x</tspan><tspan dy="-0.15em"> (T)</tspan></text><text transform="translate(42.5,881.75) rotate(-90)" font-size="29.17" text-anchor="middle"><tspan font-style="italic">V</tspan><tspan font-size="0.7em" dy="0.21em">L</tspan><tspan dy="-0.15em"> (μV)</tspan></text><text transform="translate(671.3,951) rotate(90)" font-size="29.17" text-anchor="middle"><tspan font-style="italic">G</tspan><tspan font-size="0.7em" dy="0.21em">LL</tspan><tspan dy="-0.15em"> (2e</tspan><tspan font-size="0.7em" dy="-0.51em">2</tspan><tspan dy="0.36em">/h)</tspan></text><text x="3.1" y="774" font-size="33.33" text-anchor="start" font-weight="bold">g</text></g><g id="panel-h"><g clip-path="url(#clip_h)"><g filter="url(#cm_reds)"><rect x="858.3" y="764.3" width="410.05" height="234.9" fill="#131313"/><g filter="url(#b8)"><path d="M856 855.23L906.12 855.23L976.29 873.27L1036.43 901.34L976.29 921.38L906.12 905.35L856 909.36Z" fill="#000" opacity="0.8"/><path d="M1196.82 769.02L1268.99 769.02L1268.99 997.57L1076.53 997.57L1076.53 913.37L1196.82 913.37L1156.72 857.23L1216.87 837.18Z" fill="#000" opacity="0.3"/><path d="M856 765.01L1056.48 765.01L1056.48 777.04L1056.48 857.23L976.29 855.23L916.14 837.18L856 827.16Z" fill="#fff" opacity="0.07"/></g><g filter="url(#bcol_hg)" fill="#fff"><rect x="860.41" y="783.09" width="19.29" height="28" opacity="0.09"/><rect x="879.7" y="784.09" width="19.29" height="28" opacity="0.08"/><rect x="898.98" y="790.1" width="19.29" height="28" opacity="0.08"/><rect x="918.27" y="790.11" width="19.29" height="32" opacity="0.08"/><rect x="937.56" y="797.12" width="19.29" height="28" opacity="0.07"/><rect x="956.84" y="798.12" width="19.29" height="28" opacity="0.08"/><rect x="976.13" y="803.14" width="19.29" height="32" opacity="0.07"/><rect x="995.41" y="805.14" width="19.29" height="32" opacity="0.07"/><rect x="1014.7" y="808.15" width="19.29" height="32" opacity="0.07"/><rect x="1033.99" y="810.16" width="19.29" height="36" opacity="0.08"/><rect x="860.41" y="757.04" width="19.29" height="44" opacity="0.05"/><rect x="879.7" y="758.05" width="19.29" height="44" opacity="0.04"/><rect x="898.98" y="761.05" width="19.29" height="44" opacity="0.03"/><rect x="918.27" y="755.05" width="19.29" height="52" opacity="0.05"/><rect x="937.56" y="763.06" width="19.29" height="44" opacity="0.03"/><rect x="956.84" y="765.06" width="19.29" height="44" opacity="0.04"/><rect x="976.13" y="769.07" width="19.29" height="44" opacity="0.03"/><rect x="995.41" y="775.08" width="19.29" height="40" opacity="0.03"/><rect x="1014.7" y="781.1" width="19.29" height="40" opacity="0.03"/><rect x="1033.99" y="787.11" width="19.29" height="40" opacity="0.02"/><rect x="860.41" y="831.19" width="19.29" height="18" opacity="0.09"/><rect x="879.7" y="837.2" width="19.29" height="18" opacity="0.09"/><rect x="898.98" y="840.21" width="19.29" height="18" opacity="0.08"/><rect x="918.27" y="843.22" width="19.29" height="18" opacity="0.09"/><rect x="937.56" y="852.24" width="19.29" height="18" opacity="0.07"/><rect x="956.84" y="851.24" width="19.29" height="18" opacity="0.09"/><rect x="976.13" y="852.24" width="19.29" height="18" opacity="0.06"/><rect x="995.41" y="859.26" width="19.29" height="18" opacity="0.09"/><rect x="1014.7" y="864.27" width="19.29" height="18" opacity="0.06"/><rect x="1033.99" y="870.28" width="19.29" height="18" opacity="0.08"/><rect x="1053.27" y="870.29" width="19.29" height="24" opacity="0.12"/><rect x="1072.56" y="873.69" width="19.29" height="18" opacity="0.06"/><rect x="1091.85" y="876.3" width="19.29" height="18" opacity="0.06"/><rect x="1111.13" y="880.31" width="19.29" height="18" opacity="0.04"/><rect x="1130.42" y="884.32" width="19.29" height="18" opacity="0.04"/><rect x="1149.7" y="888.73" width="19.29" height="18" opacity="0.03"/><rect x="1168.99" y="889.93" width="19.29" height="18" opacity="0.03"/><rect x="1188.28" y="890.33" width="19.29" height="18" opacity="0.03"/><rect x="860.41" y="905.38" width="19.29" height="32" opacity="0.1"/><rect x="879.7" y="901.38" width="19.29" height="32" opacity="0.07"/><rect x="898.98" y="905.38" width="19.29" height="32" opacity="0.04"/><rect x="918.27" y="900.36" width="19.29" height="18" opacity="0.06"/><rect x="918.27" y="921.81" width="19.29" height="24" opacity="0.05"/><rect x="937.56" y="921.41" width="19.29" height="24" opacity="0.04"/><rect x="956.84" y="895.34" width="19.29" height="18" opacity="0.05"/><rect x="956.84" y="925.42" width="19.29" height="24" opacity="0.06"/><rect x="976.13" y="923.82" width="19.29" height="24" opacity="0.06"/><rect x="995.41" y="927.43" width="19.29" height="28" opacity="0.05"/><rect x="1014.7" y="928.44" width="19.29" height="28" opacity="0.05"/><rect x="1033.99" y="929.84" width="19.29" height="28" opacity="0.04"/><rect x="1053.27" y="935.45" width="19.29" height="28" opacity="0.03"/><rect x="1072.56" y="931.44" width="19.29" height="28" opacity="0.02"/><rect x="995.41" y="884.32" width="19.29" height="18" opacity="0.02"/><rect x="1014.7" y="883.32" width="19.29" height="18" opacity="0.02"/><rect x="860.41" y="959.54" width="19.29" height="52" opacity="0.01"/><rect x="879.7" y="959.54" width="19.29" height="52" opacity="0.01"/><rect x="898.98" y="959.54" width="19.29" height="52" opacity="0.01"/><rect x="918.27" y="959.54" width="19.29" height="52" opacity="0.01"/><rect x="937.56" y="959.54" width="19.29" height="52" opacity="0.01"/><rect x="956.84" y="959.54" width="19.29" height="52" opacity="0.01"/><rect x="976.13" y="959.54" width="19.29" height="52" opacity="0.01"/><rect x="995.41" y="959.54" width="19.29" height="52" opacity="0.01"/><rect x="1014.7" y="959.54" width="19.29" height="52" opacity="0.01"/><rect x="1033.99" y="959.54" width="19.29" height="52" opacity="0.01"/><rect x="1053.27" y="959.54" width="19.29" height="52" opacity="0.01"/><rect x="1072.56" y="959.54" width="19.29" height="52" opacity="0.01"/></g><g filter="url(#bcol_h)" fill="#fff"><rect x="860.41" y="790.09" width="19.29" height="14" opacity="0.34"/><rect x="879.7" y="791.09" width="19.29" height="14" opacity="0.31"/><rect x="898.98" y="797.1" width="19.29" height="14" opacity="0.31"/><rect x="918.27" y="798.11" width="19.29" height="16" opacity="0.31"/><rect x="937.56" y="804.12" width="19.29" height="14" opacity="0.26"/><rect x="956.84" y="805.12" width="19.29" height="14" opacity="0.31"/><rect x="976.13" y="811.14" width="19.29" height="16" opacity="0.26"/><rect x="995.41" y="813.14" width="19.29" height="16" opacity="0.26"/><rect x="1014.7" y="816.15" width="19.29" height="16" opacity="0.28"/><rect x="1033.99" y="819.16" width="19.29" height="18" opacity="0.31"/><rect x="860.41" y="768.04" width="19.29" height="22" opacity="0.19"/><rect x="879.7" y="769.05" width="19.29" height="22" opacity="0.15"/><rect x="898.98" y="772.05" width="19.29" height="22" opacity="0.14"/><rect x="918.27" y="768.05" width="19.29" height="26" opacity="0.2"/><rect x="937.56" y="774.06" width="19.29" height="22" opacity="0.12"/><rect x="956.84" y="776.06" width="19.29" height="22" opacity="0.15"/><rect x="976.13" y="780.07" width="19.29" height="22" opacity="0.12"/><rect x="995.41" y="785.08" width="19.29" height="20" opacity="0.12"/><rect x="1014.7" y="791.1" width="19.29" height="20" opacity="0.12"/><rect x="1033.99" y="797.11" width="19.29" height="20" opacity="0.09"/><rect x="860.41" y="835.69" width="19.29" height="9" opacity="0.36"/><rect x="879.7" y="841.7" width="19.29" height="9" opacity="0.34"/><rect x="898.98" y="844.71" width="19.29" height="9" opacity="0.31"/><rect x="918.27" y="847.72" width="19.29" height="9" opacity="0.34"/><rect x="937.56" y="856.74" width="19.29" height="9" opacity="0.3"/><rect x="956.84" y="855.74" width="19.29" height="9" opacity="0.36"/><rect x="976.13" y="856.74" width="19.29" height="9" opacity="0.26"/><rect x="995.41" y="863.76" width="19.29" height="9" opacity="0.34"/><rect x="1014.7" y="868.77" width="19.29" height="9" opacity="0.26"/><rect x="1033.99" y="874.78" width="19.29" height="9" opacity="0.31"/><rect x="1053.27" y="876.29" width="19.29" height="12" opacity="0.47"/><rect x="1072.56" y="878.19" width="19.29" height="9" opacity="0.26"/><rect x="1091.85" y="880.8" width="19.29" height="9" opacity="0.26"/><rect x="1111.13" y="884.81" width="19.29" height="9" opacity="0.17"/><rect x="1130.42" y="888.82" width="19.29" height="9" opacity="0.15"/><rect x="1149.7" y="893.23" width="19.29" height="9" opacity="0.13"/><rect x="1168.99" y="894.43" width="19.29" height="9" opacity="0.12"/><rect x="1188.28" y="894.83" width="19.29" height="9" opacity="0.1"/><rect x="860.41" y="913.38" width="19.29" height="16" opacity="0.4"/><rect x="879.7" y="909.38" width="19.29" height="16" opacity="0.28"/><rect x="898.98" y="913.38" width="19.29" height="16" opacity="0.14"/><rect x="918.27" y="904.86" width="19.29" height="9" opacity="0.24"/><rect x="918.27" y="927.81" width="19.29" height="12" opacity="0.21"/><rect x="937.56" y="927.41" width="19.29" height="12" opacity="0.18"/><rect x="956.84" y="899.84" width="19.29" height="9" opacity="0.2"/><rect x="956.84" y="931.42" width="19.29" height="12" opacity="0.24"/><rect x="976.13" y="929.82" width="19.29" height="12" opacity="0.24"/><rect x="995.41" y="934.43" width="19.29" height="14" opacity="0.21"/><rect x="1014.7" y="935.44" width="19.29" height="14" opacity="0.19"/><rect x="1033.99" y="936.84" width="19.29" height="14" opacity="0.16"/><rect x="1053.27" y="942.45" width="19.29" height="14" opacity="0.11"/><rect x="1072.56" y="938.44" width="19.29" height="14" opacity="0.08"/><rect x="995.41" y="888.82" width="19.29" height="9" opacity="0.1"/><rect x="1014.7" y="887.82" width="19.29" height="9" opacity="0.1"/><rect x="860.41" y="972.54" width="19.29" height="26" opacity="0.05"/><rect x="879.7" y="972.54" width="19.29" height="26" opacity="0.05"/><rect x="898.98" y="972.54" width="19.29" height="26" opacity="0.05"/><rect x="918.27" y="972.54" width="19.29" height="26" opacity="0.05"/><rect x="937.56" y="972.54" width="19.29" height="26" opacity="0.05"/><rect x="956.84" y="972.54" width="19.29" height="26" opacity="0.05"/><rect x="976.13" y="972.54" width="19.29" height="26" opacity="0.05"/><rect x="995.41" y="972.54" width="19.29" height="26" opacity="0.05"/><rect x="1014.7" y="972.54" width="19.29" height="26" opacity="0.05"/><rect x="1033.99" y="972.54" width="19.29" height="26" opacity="0.05"/><rect x="1053.27" y="972.54" width="19.29" height="26" opacity="0.05"/><rect x="1072.56" y="972.54" width="19.29" height="26" opacity="0.05"/></g><g filter="url(#bv05)"><rect x="1014.7" y="814.14" width="19.29" height="3.9" fill="#000" opacity="0.6"/><rect x="1014.7" y="806.34" width="19.29" height="2.4" fill="#fff" opacity="0.42"/><rect x="1014.7" y="844.62" width="19.29" height="2" fill="#fff" opacity="0.47"/><rect x="1014.7" y="788.4" width="19.29" height="3" fill="#fff" opacity="0.38"/><rect x="1014.7" y="793.48" width="19.29" height="3.5" fill="#000" opacity="0.84"/><rect x="1033.99" y="803.39" width="19.29" height="3" fill="#fff" opacity="0.48"/><rect x="1033.99" y="848.89" width="19.29" height="3.5" fill="#000" opacity="0.95"/><rect x="1033.99" y="851.06" width="19.29" height="1.6" fill="#fff" opacity="0.69"/><rect x="1033.99" y="819.22" width="19.29" height="2" fill="#fff" opacity="0.67"/><rect x="1033.99" y="820.44" width="19.29" height="1.6" fill="#fff" opacity="0.4"/><rect x="1033.99" y="823.64" width="19.29" height="3" fill="#fff" opacity="0.44"/><rect x="1033.99" y="827.14" width="19.29" height="1.6" fill="#fff" opacity="0.69"/><rect x="1033.99" y="828.92" width="19.29" height="2.4" fill="#fff" opacity="0.67"/><rect x="1033.99" y="807.19" width="19.29" height="3.9" fill="#000" opacity="0.68"/><rect x="1053.27" y="805.45" width="19.29" height="3.5" fill="#000" opacity="0.89"/><rect x="1053.27" y="810.67" width="19.29" height="3.1" fill="#000" opacity="0.75"/><rect x="1053.27" y="807.39" width="19.29" height="1.6" fill="#fff" opacity="0.73"/><rect x="1053.27" y="783.14" width="19.29" height="3.9" fill="#000" opacity="0.7"/><rect x="1053.27" y="803.95" width="19.29" height="1.6" fill="#fff" opacity="0.39"/><rect x="1053.27" y="803.6" width="19.29" height="3" fill="#fff" opacity="0.54"/><rect x="1053.27" y="814.65" width="19.29" height="2" fill="#fff" opacity="0.44"/><rect x="1053.27" y="791.26" width="19.29" height="2" fill="#fff" opacity="0.65"/><rect x="1053.27" y="798.01" width="19.29" height="3.9" fill="#000" opacity="0.88"/><rect x="1053.27" y="816.24" width="19.29" height="2" fill="#fff" opacity="0.55"/><rect x="1072.56" y="855.11" width="19.29" height="3.5" fill="#000" opacity="0.71"/><rect x="1072.56" y="838.6" width="19.29" height="2.4" fill="#fff" opacity="0.36"/><rect x="1072.56" y="818.26" width="19.29" height="3" fill="#fff" opacity="0.39"/><rect x="1072.56" y="830.56" width="19.29" height="3" fill="#fff" opacity="0.71"/><rect x="1072.56" y="799.82" width="19.29" height="3.1" fill="#000" opacity="0.93"/><rect x="1072.56" y="817.32" width="19.29" height="3" fill="#fff" opacity="0.72"/><rect x="1072.56" y="799.32" width="19.29" height="3.9" fill="#000" opacity="0.6"/><rect x="1072.56" y="779.17" width="19.29" height="2.4" fill="#fff" opacity="0.36"/><rect x="1072.56" y="811.07" width="19.29" height="1.6" fill="#fff" opacity="0.46"/><rect x="1072.56" y="848.97" width="19.29" height="2.4" fill="#fff" opacity="0.8"/><rect x="1072.56" y="823.05" width="19.29" height="3" fill="#fff" opacity="0.85"/><rect x="1072.56" y="804.21" width="19.29" height="2.4" fill="#fff" opacity="0.4"/><rect x="1072.56" y="789.62" width="19.29" height="2" fill="#fff" opacity="0.93"/><rect x="1091.85" y="847.21" width="19.29" height="3" fill="#fff" opacity="0.5"/><rect x="1091.85" y="806.71" width="19.29" height="1.6" fill="#fff" opacity="0.72"/><rect x="1091.85" y="798.2" width="19.29" height="3" fill="#fff" opacity="0.33"/><rect x="1091.85" y="818.81" width="19.29" height="3" fill="#fff" opacity="0.32"/><rect x="1091.85" y="804.85" width="19.29" height="1.6" fill="#fff" opacity="0.7"/><rect x="1091.85" y="784.12" width="19.29" height="3.9" fill="#000" opacity="0.66"/><rect x="1091.85" y="830.08" width="19.29" height="3" fill="#fff" opacity="0.31"/><rect x="1091.85" y="815.18" width="19.29" height="3" fill="#fff" opacity="0.31"/><rect x="1091.85" y="823.5" width="19.29" height="4.5" fill="#000" opacity="0.71"/><rect x="1091.85" y="850.83" width="19.29" height="1.6" fill="#fff" opacity="0.78"/><rect x="1091.85" y="843.4" width="19.29" height="4.5" fill="#000" opacity="0.78"/><rect x="1091.85" y="788.51" width="19.29" height="3.9" fill="#000" opacity="0.76"/><rect x="1091.85" y="824.46" width="19.29" height="2" fill="#fff" opacity="0.5"/><rect x="1111.13" y="785.65" width="19.29" height="2" fill="#fff" opacity="0.47"/><rect x="1111.13" y="840" width="19.29" height="3" fill="#fff" opacity="0.99"/><rect x="1111.13" y="822.58" width="19.29" height="2.4" fill="#fff" opacity="0.48"/><rect x="1111.13" y="805.63" width="19.29" height="3" fill="#fff" opacity="0.87"/><rect x="1111.13" y="794.52" width="19.29" height="4.5" fill="#000" opacity="0.79"/><rect x="1111.13" y="800.48" width="19.29" height="1.6" fill="#fff" opacity="0.39"/><rect x="1111.13" y="811.94" width="19.29" height="2.4" fill="#fff" opacity="0.52"/><rect x="1111.13" y="847.71" width="19.29" height="3.9" fill="#000" opacity="0.69"/><rect x="1111.13" y="784.43" width="19.29" height="3" fill="#fff" opacity="0.45"/><rect x="1111.13" y="801.31" width="19.29" height="3" fill="#fff" opacity="0.82"/><rect x="1111.13" y="850.83" width="19.29" height="3.5" fill="#000" opacity="0.67"/><rect x="1130.42" y="803.15" width="19.29" height="2.4" fill="#fff" opacity="0.31"/><rect x="1130.42" y="839.82" width="19.29" height="2.4" fill="#fff" opacity="0.97"/><rect x="1130.42" y="835.74" width="19.29" height="2.4" fill="#fff" opacity="0.72"/><rect x="1130.42" y="842.62" width="19.29" height="1.6" fill="#fff" opacity="0.31"/><rect x="1130.42" y="838.23" width="19.29" height="3.5" fill="#000" opacity="0.85"/><rect x="1130.42" y="805.79" width="19.29" height="2" fill="#fff" opacity="0.92"/><rect x="1130.42" y="821.55" width="19.29" height="1.6" fill="#fff" opacity="0.33"/><rect x="1130.42" y="830.32" width="19.29" height="2" fill="#fff" opacity="0.43"/><rect x="1149.7" y="826.69" width="19.29" height="3" fill="#fff" opacity="0.46"/><rect x="1149.7" y="816.9" width="19.29" height="3" fill="#fff" opacity="0.67"/><rect x="1149.7" y="793.57" width="19.29" height="3.9" fill="#000" opacity="0.65"/><rect x="1149.7" y="832.3" width="19.29" height="2.4" fill="#fff" opacity="0.69"/><rect x="1149.7" y="828.33" width="19.29" height="3" fill="#fff" opacity="0.54"/><rect x="1149.7" y="812" width="19.29" height="1.6" fill="#fff" opacity="0.49"/><rect x="1149.7" y="795.39" width="19.29" height="1.6" fill="#fff" opacity="0.5"/><rect x="1149.7" y="836.54" width="19.29" height="3.5" fill="#000" opacity="0.84"/><rect x="1168.99" y="821.43" width="19.29" height="1.6" fill="#fff" opacity="0.45"/><rect x="1168.99" y="831.72" width="19.29" height="2" fill="#fff" opacity="0.38"/><rect x="1168.99" y="825.1" width="19.29" height="2.4" fill="#fff" opacity="0.55"/><rect x="1168.99" y="825.36" width="19.29" height="2.4" fill="#fff" opacity="0.7"/><rect x="1168.99" y="830.07" width="19.29" height="3.9" fill="#000" opacity="0.64"/><rect x="1168.99" y="818.02" width="19.29" height="2" fill="#fff" opacity="0.46"/><rect x="1168.99" y="806.94" width="19.29" height="3" fill="#fff" opacity="0.39"/><rect x="1168.99" y="814.56" width="19.29" height="2.4" fill="#fff" opacity="0.4"/><rect x="1188.28" y="830.62" width="19.29" height="3" fill="#fff" opacity="0.52"/><rect x="1188.28" y="823.12" width="19.29" height="3.9" fill="#000" opacity="0.72"/><rect x="1188.28" y="810.91" width="19.29" height="2" fill="#fff" opacity="0.62"/><rect x="1188.28" y="816.67" width="19.29" height="3.9" fill="#000" opacity="0.75"/><rect x="1091.85" y="819.84" width="19.29" height="2.6" fill="#fff" opacity="1"/><rect x="1091.85" y="828.16" width="19.29" height="2" fill="#fff" opacity="1"/><rect x="1111.13" y="837.29" width="19.29" height="3" fill="#fff" opacity="1"/><rect x="1072.56" y="786.46" width="19.29" height="2" fill="#fff" opacity="0.85"/><rect x="1072.56" y="807.82" width="19.29" height="3.4" fill="#fff" opacity="0.8"/><rect x="1091.85" y="777.04" width="19.29" height="2" fill="#fff" opacity="0.7"/><rect x="1130.42" y="822.55" width="19.29" height="2" fill="#fff" opacity="0.85"/><rect x="1149.7" y="803.5" width="19.29" height="2" fill="#fff" opacity="0.8"/><rect x="1188.28" y="812.73" width="19.29" height="4" fill="#fff" opacity="0.5"/><rect x="1033.99" y="819.16" width="19.29" height="16" fill="#fff" opacity="0.2"/><rect x="1111.13" y="851.22" width="19.29" height="4" fill="#fff" opacity="0.45"/><rect x="1188.28" y="993.66" width="19.29" height="3" fill="#fff" opacity="0.6"/><rect x="1149.7" y="992.56" width="19.29" height="2" fill="#fff" opacity="0.4"/><rect x="995.41" y="767.22" width="19.29" height="2" fill="#fff" opacity="0.5"/><rect x="995.41" y="779.55" width="19.29" height="3" fill="#000" opacity="0.9"/><rect x="1014.7" y="784.56" width="19.29" height="5" fill="#000" opacity="0.9"/><rect x="1033.99" y="792.08" width="19.29" height="4" fill="#000" opacity="0.9"/><rect x="1053.27" y="801.1" width="19.29" height="6" fill="#000" opacity="0.9"/><rect x="1091.85" y="821.65" width="19.29" height="7" fill="#000" opacity="0.9"/><rect x="918.27" y="829.67" width="19.29" height="3" fill="#000" opacity="0.9"/><rect x="1053.27" y="937.18" width="19.29" height="2.5" fill="#000" opacity="0.9"/><rect x="1053.27" y="962.99" width="19.29" height="3" fill="#000" opacity="0.9"/><rect x="1188.28" y="987.05" width="19.29" height="3" fill="#000" opacity="0.9"/></g></g></g><rect x="1266.35" y="904.8" width="11.7" height="92.4" fill="url(#cbg_h)"/><path d="M870.1 997.2v16.67M1063.3 997.2v16.67M1256.5 997.2v16.67M966.7 997.2v8.33M1159.9 997.2v8.33M860.3 790h-16.67M860.3 881.85h-16.67M860.3 973.7h-16.67M860.3 835.92h-8.33M860.3 927.78h-8.33M1278.05 941.6h16.67M1278.05 997.2h16.67M860.3 766.3H1266.35V997.2H860.3ZM1266.35 904.8H1278.05V997.2H1266.35Z" fill="none" stroke="#000" stroke-width="2.08" stroke-linejoin="miter" stroke-linecap="butt"/><text x="870.1" y="1043.1" font-size="29.17" text-anchor="middle">0</text><text x="1063.3" y="1043.1" font-size="29.17" text-anchor="middle">0.2</text><text x="1256.5" y="1043.1" font-size="29.17" text-anchor="middle">0.4</text><text x="835.3" y="800.6" font-size="29.17" text-anchor="end">200</text><text x="835.3" y="892.45" font-size="29.17" text-anchor="end">0</text><text x="835.3" y="984.3" font-size="29.17" text-anchor="end">−200</text><text x="1303.05" y="951.4" font-size="25" text-anchor="start">0.04</text><text x="1303.05" y="1007" font-size="25" text-anchor="start">0</text><text x="1063.32" y="1087.1" font-size="29.17" text-anchor="middle"><tspan font-style="italic">B</tspan><tspan font-size="0.7em" dy="0.21em">x</tspan><tspan dy="-0.15em"> (T)</tspan></text><text transform="translate(745.7,881.75) rotate(-90)" font-size="29.17" text-anchor="middle"><tspan font-style="italic">V</tspan><tspan font-size="0.7em" dy="0.21em">M</tspan><tspan dy="-0.15em"> (μV)</tspan></text><text transform="translate(1377.3,951) rotate(90)" font-size="29.17" text-anchor="middle"><tspan font-style="italic">G</tspan><tspan font-size="0.7em" dy="0.21em">MM</tspan><tspan dy="-0.15em"> (2e</tspan><tspan font-size="0.7em" dy="-0.51em">2</tspan><tspan dy="0.36em">/h)</tspan></text><text x="717" y="774" font-size="33.33" text-anchor="start" font-weight="bold">h</text></g><g id="panel-i"><g clip-path="url(#clip_i)"><g filter="url(#cm_reds)"><rect x="1567.3" y="764.3" width="409.8" height="234.9" fill="#131313"/><g filter="url(#b8)"><path d="M1564 861.24L1624.14 867.26L1704.34 879.28L1740.42 883.29L1704.34 891.31L1624.14 901.34L1564 905.35Z" fill="#000" opacity="0.75"/><path d="M1564 813.13L1704.34 821.14L1864.72 837.18L1976.99 827.16L1976.99 857.23L1844.67 861.24L1764.48 865.25L1664.24 849.21L1564 837.18Z" fill="#000" opacity="0.55"/><path d="M1564 933.41L1664.24 941.43L1744.43 941.43L1664.24 961.48L1564 955.47Z" fill="#000" opacity="0.5"/><path d="M1764.48 897.33L1864.72 913.37L1824.63 921.38L1704.34 917.38Z" fill="#000" opacity="0.6"/></g><g filter="url(#bcol_ig)" fill="#fff"><rect x="1569.01" y="838.76" width="19.29" height="20.9" opacity="0.24"/><rect x="1588.3" y="840.17" width="19.29" height="20.9" opacity="0.23"/><rect x="1607.58" y="843.77" width="19.29" height="20.9" opacity="0.22"/><rect x="1626.87" y="846.78" width="19.29" height="20.9" opacity="0.21"/><rect x="1646.16" y="849.79" width="19.29" height="20.9" opacity="0.2"/><rect x="1665.44" y="853.2" width="19.29" height="20.9" opacity="0.22"/><rect x="1684.73" y="856.81" width="19.29" height="20.9" opacity="0.21"/><rect x="1704.02" y="860.81" width="19.29" height="20.9" opacity="0.2"/><rect x="1723.3" y="865.23" width="19.29" height="20.9" opacity="0.19"/><rect x="1742.59" y="869.84" width="19.29" height="20.9" opacity="0.24"/><rect x="1761.87" y="872.24" width="19.29" height="20.9" opacity="0.3"/><rect x="1781.16" y="872.24" width="19.29" height="20.9" opacity="0.24"/><rect x="1800.45" y="875.85" width="19.29" height="20.9" opacity="0.17"/><rect x="1819.73" y="879.86" width="19.29" height="20.9" opacity="0.15"/><rect x="1839.02" y="883.27" width="19.29" height="20.9" opacity="0.2"/><rect x="1858.31" y="885.27" width="19.29" height="20.9" opacity="0.18"/><rect x="1877.59" y="886.88" width="19.29" height="20.9" opacity="0.15"/><rect x="1896.88" y="887.88" width="19.29" height="20.9" opacity="0.14"/><rect x="1916.17" y="888.88" width="19.29" height="20.9" opacity="0.09"/><rect x="1935.45" y="890.89" width="19.29" height="20.9" opacity="0.05"/><rect x="1954.74" y="894.9" width="19.29" height="20.9" opacity="0.04"/><rect x="1569.01" y="905.92" width="19.29" height="20.9" opacity="0.26"/><rect x="1588.3" y="905.32" width="19.29" height="20.9" opacity="0.23"/><rect x="1607.58" y="901.91" width="19.29" height="20.9" opacity="0.18"/><rect x="1626.87" y="897.9" width="19.29" height="20.9" opacity="0.15"/><rect x="1646.16" y="894.5" width="19.29" height="20.9" opacity="0.15"/><rect x="1665.44" y="890.89" width="19.29" height="20.9" opacity="0.16"/><rect x="1684.73" y="886.88" width="19.29" height="20.9" opacity="0.17"/><rect x="1704.02" y="882.87" width="19.29" height="20.9" opacity="0.16"/><rect x="1723.3" y="878.86" width="19.29" height="20.9" opacity="0.15"/><rect x="1742.59" y="874.85" width="19.29" height="20.9" opacity="0.14"/><rect x="1781.16" y="869.23" width="19.29" height="20.9" opacity="0.09"/><rect x="1800.45" y="865.83" width="19.29" height="20.9" opacity="0.13"/><rect x="1819.73" y="862.82" width="19.29" height="20.9" opacity="0.12"/><rect x="1839.02" y="860.41" width="19.29" height="20.9" opacity="0.1"/><rect x="1858.31" y="858.81" width="19.29" height="20.9" opacity="0.09"/><rect x="1877.59" y="856.81" width="19.29" height="20.9" opacity="0.07"/><rect x="1896.88" y="855.8" width="19.29" height="20.9" opacity="0.06"/><rect x="1916.17" y="854.8" width="19.29" height="20.9" opacity="0.04"/><rect x="1569.01" y="778.48" width="19.29" height="35.2" opacity="0.1"/><rect x="1588.3" y="778.48" width="19.29" height="35.2" opacity="0.1"/><rect x="1607.58" y="775.28" width="19.29" height="39.6" opacity="0.08"/><rect x="1626.87" y="767.68" width="19.29" height="52.8" opacity="0.06"/><rect x="1646.16" y="764.28" width="19.29" height="61.6" opacity="0.05"/><rect x="1665.44" y="768.29" width="19.29" height="61.6" opacity="0.04"/><rect x="1684.73" y="775.7" width="19.29" height="52.8" opacity="0.04"/><rect x="1704.02" y="782.1" width="19.29" height="44" opacity="0.04"/><rect x="1723.3" y="788.51" width="19.29" height="35.2" opacity="0.04"/><rect x="1742.59" y="792.71" width="19.29" height="30.8" opacity="0.03"/><rect x="1761.87" y="793.72" width="19.29" height="30.8" opacity="0.03"/><rect x="1781.16" y="794.72" width="19.29" height="30.8" opacity="0.03"/><rect x="1800.45" y="795.72" width="19.29" height="30.8" opacity="0.02"/><rect x="1819.73" y="796.72" width="19.29" height="30.8" opacity="0.02"/><rect x="1839.02" y="798.13" width="19.29" height="30.8" opacity="0.02"/><rect x="1858.31" y="799.73" width="19.29" height="30.8" opacity="0.02"/><rect x="1569.01" y="757.43" width="19.29" height="35.2" opacity="0.02"/><rect x="1588.3" y="758.44" width="19.29" height="35.2" opacity="0.02"/><rect x="1607.58" y="755.85" width="19.29" height="48.4" opacity="0.04"/><rect x="1626.87" y="751.64" width="19.29" height="52.8" opacity="0.05"/><rect x="1646.16" y="749.64" width="19.29" height="52.8" opacity="0.04"/><rect x="1665.44" y="747.63" width="19.29" height="52.8" opacity="0.03"/><rect x="1684.73" y="751.03" width="19.29" height="44" opacity="0.02"/><rect x="1704.02" y="751.03" width="19.29" height="44" opacity="0.02"/><rect x="1723.3" y="751.03" width="19.29" height="44" opacity="0.01"/><rect x="1626.87" y="912.94" width="19.29" height="20.9" opacity="0.03"/><rect x="1646.16" y="915.35" width="19.29" height="20.9" opacity="0.04"/><rect x="1665.44" y="917.35" width="19.29" height="20.9" opacity="0.06"/><rect x="1684.73" y="918.55" width="19.29" height="20.9" opacity="0.06"/><rect x="1704.02" y="918.95" width="19.29" height="20.9" opacity="0.06"/><rect x="1723.3" y="918.95" width="19.29" height="20.9" opacity="0.06"/><rect x="1742.59" y="918.55" width="19.29" height="20.9" opacity="0.06"/><rect x="1761.87" y="917.95" width="19.29" height="20.9" opacity="0.05"/><rect x="1781.16" y="917.35" width="19.29" height="20.9" opacity="0.05"/><rect x="1800.45" y="916.95" width="19.29" height="20.9" opacity="0.04"/><rect x="1819.73" y="917.35" width="19.29" height="20.9" opacity="0.03"/><rect x="1839.02" y="917.95" width="19.29" height="20.9" opacity="0.02"/><rect x="1607.58" y="910.93" width="19.29" height="20.9" opacity="0.07"/><rect x="1626.87" y="905.92" width="19.29" height="20.9" opacity="0.05"/><rect x="1646.16" y="902.92" width="19.29" height="20.9" opacity="0.03"/><rect x="1569.01" y="951.09" width="19.29" height="30.8" opacity="0.06"/><rect x="1588.3" y="951.09" width="19.29" height="30.8" opacity="0.05"/><rect x="1607.58" y="953.1" width="19.29" height="30.8" opacity="0.04"/><rect x="1626.87" y="955.1" width="19.29" height="30.8" opacity="0.04"/><rect x="1646.16" y="957.11" width="19.29" height="30.8" opacity="0.04"/><rect x="1665.44" y="959.11" width="19.29" height="30.8" opacity="0.04"/><rect x="1684.73" y="961.12" width="19.29" height="30.8" opacity="0.04"/><rect x="1704.02" y="963.12" width="19.29" height="30.8" opacity="0.04"/><rect x="1723.3" y="965.13" width="19.29" height="30.8" opacity="0.04"/><rect x="1742.59" y="967.13" width="19.29" height="30.8" opacity="0.04"/><rect x="1761.87" y="968.13" width="19.29" height="30.8" opacity="0.04"/><rect x="1781.16" y="968.13" width="19.29" height="30.8" opacity="0.04"/><rect x="1800.45" y="967.13" width="19.29" height="30.8" opacity="0.04"/><rect x="1819.73" y="966.13" width="19.29" height="30.8" opacity="0.03"/><rect x="1839.02" y="966.13" width="19.29" height="30.8" opacity="0.02"/></g><g filter="url(#bcol_i)" fill="#fff"><rect x="1569.01" y="844.46" width="19.29" height="9.5" opacity="0.8"/><rect x="1588.3" y="845.87" width="19.29" height="9.5" opacity="0.78"/><rect x="1607.58" y="849.47" width="19.29" height="9.5" opacity="0.72"/><rect x="1626.87" y="852.48" width="19.29" height="9.5" opacity="0.7"/><rect x="1646.16" y="855.49" width="19.29" height="9.5" opacity="0.68"/><rect x="1665.44" y="858.9" width="19.29" height="9.5" opacity="0.72"/><rect x="1684.73" y="862.51" width="19.29" height="9.5" opacity="0.7"/><rect x="1704.02" y="866.51" width="19.29" height="9.5" opacity="0.66"/><rect x="1723.3" y="870.93" width="19.29" height="9.5" opacity="0.62"/><rect x="1742.59" y="875.54" width="19.29" height="9.5" opacity="0.8"/><rect x="1761.87" y="877.94" width="19.29" height="9.5" opacity="1"/><rect x="1781.16" y="877.94" width="19.29" height="9.5" opacity="0.8"/><rect x="1800.45" y="881.55" width="19.29" height="9.5" opacity="0.55"/><rect x="1819.73" y="885.56" width="19.29" height="9.5" opacity="0.5"/><rect x="1839.02" y="888.97" width="19.29" height="9.5" opacity="0.65"/><rect x="1858.31" y="890.97" width="19.29" height="9.5" opacity="0.6"/><rect x="1877.59" y="892.58" width="19.29" height="9.5" opacity="0.5"/><rect x="1896.88" y="893.58" width="19.29" height="9.5" opacity="0.45"/><rect x="1916.17" y="894.58" width="19.29" height="9.5" opacity="0.3"/><rect x="1935.45" y="896.59" width="19.29" height="9.5" opacity="0.18"/><rect x="1954.74" y="900.6" width="19.29" height="9.5" opacity="0.15"/><rect x="1569.01" y="911.62" width="19.29" height="9.5" opacity="0.86"/><rect x="1588.3" y="911.02" width="19.29" height="9.5" opacity="0.78"/><rect x="1607.58" y="907.61" width="19.29" height="9.5" opacity="0.6"/><rect x="1626.87" y="903.6" width="19.29" height="9.5" opacity="0.5"/><rect x="1646.16" y="900.2" width="19.29" height="9.5" opacity="0.5"/><rect x="1665.44" y="896.59" width="19.29" height="9.5" opacity="0.52"/><rect x="1684.73" y="892.58" width="19.29" height="9.5" opacity="0.55"/><rect x="1704.02" y="888.57" width="19.29" height="9.5" opacity="0.52"/><rect x="1723.3" y="884.56" width="19.29" height="9.5" opacity="0.5"/><rect x="1742.59" y="880.55" width="19.29" height="9.5" opacity="0.45"/><rect x="1781.16" y="874.93" width="19.29" height="9.5" opacity="0.3"/><rect x="1800.45" y="871.53" width="19.29" height="9.5" opacity="0.42"/><rect x="1819.73" y="868.52" width="19.29" height="9.5" opacity="0.4"/><rect x="1839.02" y="866.11" width="19.29" height="9.5" opacity="0.32"/><rect x="1858.31" y="864.51" width="19.29" height="9.5" opacity="0.3"/><rect x="1877.59" y="862.51" width="19.29" height="9.5" opacity="0.25"/><rect x="1896.88" y="861.5" width="19.29" height="9.5" opacity="0.2"/><rect x="1916.17" y="860.5" width="19.29" height="9.5" opacity="0.12"/><rect x="1569.01" y="788.08" width="19.29" height="16" opacity="0.33"/><rect x="1588.3" y="788.08" width="19.29" height="16" opacity="0.33"/><rect x="1607.58" y="786.08" width="19.29" height="18" opacity="0.28"/><rect x="1626.87" y="782.08" width="19.29" height="24" opacity="0.21"/><rect x="1646.16" y="781.08" width="19.29" height="28" opacity="0.18"/><rect x="1665.44" y="785.09" width="19.29" height="28" opacity="0.14"/><rect x="1684.73" y="790.1" width="19.29" height="24" opacity="0.14"/><rect x="1704.02" y="794.1" width="19.29" height="20" opacity="0.14"/><rect x="1723.3" y="798.11" width="19.29" height="16" opacity="0.12"/><rect x="1742.59" y="801.11" width="19.29" height="14" opacity="0.11"/><rect x="1761.87" y="802.12" width="19.29" height="14" opacity="0.1"/><rect x="1781.16" y="803.12" width="19.29" height="14" opacity="0.09"/><rect x="1800.45" y="804.12" width="19.29" height="14" opacity="0.08"/><rect x="1819.73" y="805.12" width="19.29" height="14" opacity="0.08"/><rect x="1839.02" y="806.53" width="19.29" height="14" opacity="0.07"/><rect x="1858.31" y="808.13" width="19.29" height="14" opacity="0.06"/><rect x="1569.01" y="767.03" width="19.29" height="16" opacity="0.07"/><rect x="1588.3" y="768.04" width="19.29" height="16" opacity="0.08"/><rect x="1607.58" y="769.05" width="19.29" height="22" opacity="0.14"/><rect x="1626.87" y="766.04" width="19.29" height="24" opacity="0.15"/><rect x="1646.16" y="764.04" width="19.29" height="24" opacity="0.13"/><rect x="1665.44" y="762.03" width="19.29" height="24" opacity="0.09"/><rect x="1684.73" y="763.03" width="19.29" height="20" opacity="0.07"/><rect x="1704.02" y="763.03" width="19.29" height="20" opacity="0.06"/><rect x="1723.3" y="763.03" width="19.29" height="20" opacity="0.04"/><rect x="1626.87" y="918.64" width="19.29" height="9.5" opacity="0.1"/><rect x="1646.16" y="921.05" width="19.29" height="9.5" opacity="0.14"/><rect x="1665.44" y="923.05" width="19.29" height="9.5" opacity="0.19"/><rect x="1684.73" y="924.25" width="19.29" height="9.5" opacity="0.22"/><rect x="1704.02" y="924.65" width="19.29" height="9.5" opacity="0.22"/><rect x="1723.3" y="924.65" width="19.29" height="9.5" opacity="0.2"/><rect x="1742.59" y="924.25" width="19.29" height="9.5" opacity="0.19"/><rect x="1761.87" y="923.65" width="19.29" height="9.5" opacity="0.17"/><rect x="1781.16" y="923.05" width="19.29" height="9.5" opacity="0.15"/><rect x="1800.45" y="922.65" width="19.29" height="9.5" opacity="0.14"/><rect x="1819.73" y="923.05" width="19.29" height="9.5" opacity="0.11"/><rect x="1839.02" y="923.65" width="19.29" height="9.5" opacity="0.08"/><rect x="1607.58" y="916.63" width="19.29" height="9.5" opacity="0.24"/><rect x="1626.87" y="911.62" width="19.29" height="9.5" opacity="0.16"/><rect x="1646.16" y="908.62" width="19.29" height="9.5" opacity="0.1"/><rect x="1569.01" y="959.49" width="19.29" height="14" opacity="0.2"/><rect x="1588.3" y="959.49" width="19.29" height="14" opacity="0.18"/><rect x="1607.58" y="961.5" width="19.29" height="14" opacity="0.14"/><rect x="1626.87" y="963.5" width="19.29" height="14" opacity="0.13"/><rect x="1646.16" y="965.51" width="19.29" height="14" opacity="0.12"/><rect x="1665.44" y="967.51" width="19.29" height="14" opacity="0.12"/><rect x="1684.73" y="969.52" width="19.29" height="14" opacity="0.12"/><rect x="1704.02" y="971.52" width="19.29" height="14" opacity="0.13"/><rect x="1723.3" y="973.53" width="19.29" height="14" opacity="0.14"/><rect x="1742.59" y="975.53" width="19.29" height="14" opacity="0.14"/><rect x="1761.87" y="976.53" width="19.29" height="14" opacity="0.14"/><rect x="1781.16" y="976.53" width="19.29" height="14" opacity="0.13"/><rect x="1800.45" y="975.53" width="19.29" height="14" opacity="0.12"/><rect x="1819.73" y="974.53" width="19.29" height="14" opacity="0.1"/><rect x="1839.02" y="974.53" width="19.29" height="14" opacity="0.08"/></g></g></g><rect x="1975.1" y="904.8" width="11.7" height="92.4" fill="url(#cbg_i)"/><path d="M1578.7 997.2v16.67M1771.9 997.2v16.67M1965.1 997.2v16.67M1675.3 997.2v8.33M1868.5 997.2v8.33M1569.3 790h-16.67M1569.3 881.85h-16.67M1569.3 973.7h-16.67M1569.3 835.92h-8.33M1569.3 927.78h-8.33M1986.8 948.1h16.67M1986.8 997.2h16.67M1569.3 766.3H1975.1V997.2H1569.3ZM1975.1 904.8H1986.8V997.2H1975.1Z" fill="none" stroke="#000" stroke-width="2.08" stroke-linejoin="miter" stroke-linecap="butt"/><text x="1578.7" y="1043.1" font-size="29.17" text-anchor="middle">0</text><text x="1771.9" y="1043.1" font-size="29.17" text-anchor="middle">0.2</text><text x="1965.1" y="1043.1" font-size="29.17" text-anchor="middle">0.4</text><text x="1544.3" y="800.6" font-size="29.17" text-anchor="end">200</text><text x="1544.3" y="892.45" font-size="29.17" text-anchor="end">0</text><text x="1544.3" y="984.3" font-size="29.17" text-anchor="end">−200</text><text x="2011.8" y="957.9" font-size="25" text-anchor="start">0.03</text><text x="2011.8" y="1007" font-size="25" text-anchor="start">0</text><text x="1772.2" y="1087.1" font-size="29.17" text-anchor="middle"><tspan font-style="italic">B</tspan><tspan font-size="0.7em" dy="0.21em">x</tspan><tspan dy="-0.15em"> (T)</tspan></text><text transform="translate(1455,881.75) rotate(-90)" font-size="29.17" text-anchor="middle"><tspan font-style="italic">V</tspan><tspan font-size="0.7em" dy="0.21em">R</tspan><tspan dy="-0.15em"> (μV)</tspan></text><text transform="translate(2086.3,951) rotate(90)" font-size="29.17" text-anchor="middle"><tspan font-style="italic">G</tspan><tspan font-size="0.7em" dy="0.21em">RR</tspan><tspan dy="-0.15em"> (2e</tspan><tspan font-size="0.7em" dy="-0.51em">2</tspan><tspan dy="0.36em">/h)</tspan></text><text x="1418.5" y="774" font-size="33.33" text-anchor="start" font-weight="bold">i</text></g><g id="panel-j"><g clip-path="url(#clip_j)"><g filter="url(#cm_dn)"><rect x="152" y="1132.1" width="410.2" height="235.1" fill="#0d0d0d"/><g filter="url(#bg_j)"><path d="M286.33 1120.98C286.49 1123.32 286.66 1128.67 287.33 1135.01C288 1141.36 289 1150.72 290.34 1159.07C291.67 1167.43 293.85 1176.78 295.35 1185.13C296.85 1193.49 299.02 1201.17 299.36 1209.19C299.69 1217.21 298.52 1225.9 297.35 1233.25C296.18 1240.6 294.18 1247.28 292.34 1253.3C290.5 1259.31 288.33 1264.32 286.33 1269.34C284.32 1274.35 281.98 1278.36 280.31 1283.37C278.64 1288.38 277.31 1293.39 276.3 1299.41C275.3 1305.42 274.63 1312.77 274.3 1319.46C273.96 1326.14 274.13 1332.15 274.3 1339.51C274.47 1346.86 274.97 1357.21 275.3 1363.56C275.63 1369.91 276.14 1375.26 276.3 1377.6" fill="none" stroke="url(#lg22)" stroke-width="11" stroke-linecap="butt"/><path d="M468.77 1120.98C468.77 1123.32 468.77 1128.67 468.77 1135.01C468.77 1141.36 469.1 1150.72 468.77 1159.07C468.43 1167.43 467.76 1176.78 466.76 1185.13C465.76 1193.49 464.42 1201.84 462.75 1209.19C461.08 1216.54 458.74 1222.89 456.74 1229.24C454.73 1235.59 452.73 1241.27 450.72 1247.28C448.72 1253.3 446.04 1259.98 444.71 1265.33C443.37 1270.67 442.37 1273.68 442.7 1279.36C443.04 1285.04 445.04 1292.73 446.71 1299.41C448.38 1306.09 450.55 1312.77 452.73 1319.46C454.9 1326.14 457.4 1332.15 459.74 1339.51C462.08 1346.86 464.92 1357.21 466.76 1363.56C468.6 1369.91 470.1 1375.26 470.77 1377.6" fill="none" stroke="url(#lg24)" stroke-width="11" stroke-linecap="butt"/></g><g filter="url(#bc_j)"><path d="M286.33 1120.98C286.49 1123.32 286.66 1128.67 287.33 1135.01C288 1141.36 289 1150.72 290.34 1159.07C291.67 1167.43 293.85 1176.78 295.35 1185.13C296.85 1193.49 299.02 1201.17 299.36 1209.19C299.69 1217.21 298.52 1225.9 297.35 1233.25C296.18 1240.6 294.18 1247.28 292.34 1253.3C290.5 1259.31 288.33 1264.32 286.33 1269.34C284.32 1274.35 281.98 1278.36 280.31 1283.37C278.64 1288.38 277.31 1293.39 276.3 1299.41C275.3 1305.42 274.63 1312.77 274.3 1319.46C273.96 1326.14 274.13 1332.15 274.3 1339.51C274.47 1346.86 274.97 1357.21 275.3 1363.56C275.63 1369.91 276.14 1375.26 276.3 1377.6" fill="none" stroke="url(#lg23)" stroke-width="11" stroke-linecap="butt"/><path d="M468.77 1120.98C468.77 1123.32 468.77 1128.67 468.77 1135.01C468.77 1141.36 469.1 1150.72 468.77 1159.07C468.43 1167.43 467.76 1176.78 466.76 1185.13C465.76 1193.49 464.42 1201.84 462.75 1209.19C461.08 1216.54 458.74 1222.89 456.74 1229.24C454.73 1235.59 452.73 1241.27 450.72 1247.28C448.72 1253.3 446.04 1259.98 444.71 1265.33C443.37 1270.67 442.37 1273.68 442.7 1279.36C443.04 1285.04 445.04 1292.73 446.71 1299.41C448.38 1306.09 450.55 1312.77 452.73 1319.46C454.9 1326.14 457.4 1332.15 459.74 1339.51C462.08 1346.86 464.92 1357.21 466.76 1363.56C468.6 1369.91 470.1 1375.26 470.77 1377.6" fill="none" stroke="url(#lg25)" stroke-width="11" stroke-linecap="butt"/></g></g></g><rect x="560.2" y="1273.1" width="11.7" height="92.1" fill="url(#cbg_j)"/><path d="M153.9 1365.2v16.67M255.43 1365.2v16.67M356.95 1365.2v16.67M458.48 1365.2v16.67M560 1365.2v16.67M204.66 1365.2v8.33M306.19 1365.2v8.33M407.71 1365.2v8.33M509.24 1365.2v8.33M154 1137.1h-16.67M154 1249.8h-16.67M154 1362.5h-16.67M154 1193.45h-8.33M154 1306.15h-8.33M571.9 1273.1h16.67M571.9 1319.2h16.67M571.9 1365.2h16.67M154 1134.1H560.2V1365.2H154ZM560.2 1273.1H571.9V1365.2H560.2Z" fill="none" stroke="#000" stroke-width="2.08" stroke-linejoin="miter" stroke-linecap="butt"/><text x="153.9" y="1411.1" font-size="29.17" text-anchor="middle">−230</text><text x="255.43" y="1411.1" font-size="29.17" text-anchor="middle">−225</text><text x="356.95" y="1411.1" font-size="29.17" text-anchor="middle">−220</text><text x="458.48" y="1411.1" font-size="29.17" text-anchor="middle">−215</text><text x="560" y="1411.1" font-size="29.17" text-anchor="middle">−210</text><text x="129" y="1147.7" font-size="29.17" text-anchor="end">−140</text><text x="129" y="1260.4" font-size="29.17" text-anchor="end">−160</text><text x="129" y="1373.1" font-size="29.17" text-anchor="end">−180</text><text x="596.9" y="1282.9" font-size="25" text-anchor="start">1</text><text x="596.9" y="1329" font-size="25" text-anchor="start">0.5</text><text x="596.9" y="1375" font-size="25" text-anchor="start">0</text><text x="357.1" y="1455.1" font-size="29.17" text-anchor="middle"><tspan font-style="italic">V</tspan><tspan font-size="0.7em" dy="0.21em">QDL</tspan><tspan dy="-0.15em"> (mV)</tspan></text><text transform="translate(38,1250.65) rotate(-90)" font-size="29.17" text-anchor="middle"><tspan font-style="italic">V</tspan><tspan font-size="0.7em" dx="-0.14em" dy="0.39em">ABS</tspan><tspan font-size="0.7em" dx="-1.9em" dy="-1.09em">(1)</tspan><tspan dx="0.4em" dy="0.49em"> (mV)</tspan></text><text transform="translate(654.7,1319.15) rotate(90)" font-size="29.17" text-anchor="middle"><tspan font-style="italic">S</tspan><tspan font-size="0.7em" dy="0.33em">21</tspan><tspan font-size="0.7em" dx="-1.03em" dy="-0.96em">L</tspan><tspan dx="0.33em" dy="0.44em"> (arb.unit)</tspan></text><text x="3.1" y="1125.6" font-size="33.33" text-anchor="start" font-weight="bold">j</text></g><g id="panel-k"><g clip-path="url(#clip_k)"><g filter="url(#cm_k)"><rect x="858.3" y="1132.1" width="410.05" height="235.1" fill="#282828"/><g filter="url(#bg_k1)"><path d="M916.14 1120.98C916.81 1123.32 917.82 1128.67 920.15 1135.01C922.49 1141.36 926.84 1150.38 930.18 1159.07C933.52 1167.76 937.03 1178.12 940.2 1187.14C943.38 1196.16 946.55 1204.85 949.22 1213.2C951.9 1221.56 954.4 1229.91 956.24 1237.26C958.08 1244.61 959.52 1251.43 960.25 1257.31C960.99 1263.19 960.58 1270.01 960.65 1272.54" fill="none" stroke="url(#lg26)" stroke-width="7" stroke-linecap="butt"/><path d="M1110.61 1120.98C1111.28 1123.32 1112.28 1128.67 1114.62 1135.01C1116.96 1141.36 1121.47 1150.38 1124.64 1159.07C1127.82 1167.76 1130.66 1178.12 1133.67 1187.14C1136.67 1196.16 1139.85 1204.85 1142.69 1213.2C1145.53 1221.56 1148.54 1229.91 1150.71 1237.26C1152.88 1244.61 1154.72 1251.43 1155.72 1257.31C1156.72 1263.19 1156.55 1270.01 1156.72 1272.54" fill="none" stroke="url(#lg28)" stroke-width="7" stroke-linecap="butt"/></g><g filter="url(#bc_k1)"><path d="M916.14 1120.98C916.81 1123.32 917.82 1128.67 920.15 1135.01C922.49 1141.36 926.84 1150.38 930.18 1159.07C933.52 1167.76 937.03 1178.12 940.2 1187.14C943.38 1196.16 946.55 1204.85 949.22 1213.2C951.9 1221.56 954.4 1229.91 956.24 1237.26C958.08 1244.61 959.52 1251.43 960.25 1257.31C960.99 1263.19 960.58 1270.01 960.65 1272.54" fill="none" stroke="url(#lg27)" stroke-width="7" stroke-linecap="butt"/><path d="M1110.61 1120.98C1111.28 1123.32 1112.28 1128.67 1114.62 1135.01C1116.96 1141.36 1121.47 1150.38 1124.64 1159.07C1127.82 1167.76 1130.66 1178.12 1133.67 1187.14C1136.67 1196.16 1139.85 1204.85 1142.69 1213.2C1145.53 1221.56 1148.54 1229.91 1150.71 1237.26C1152.88 1244.61 1154.72 1251.43 1155.72 1257.31C1156.72 1263.19 1156.55 1270.01 1156.72 1272.54" fill="none" stroke="url(#lg29)" stroke-width="7" stroke-linecap="butt"/></g><g filter="url(#bg_k2)"><path d="M949.83 1272.54C948.89 1275.02 945.65 1282.57 944.21 1287.38C942.77 1292.19 941.2 1296.07 941.2 1301.41C941.2 1306.76 942.37 1313.11 944.21 1319.46C946.05 1325.81 949.56 1333.49 952.23 1339.51C954.9 1345.52 958.08 1351.37 960.25 1355.54C962.42 1359.72 963.76 1361.22 965.26 1364.57C966.77 1367.91 968.6 1373.75 969.27 1375.59" fill="none" stroke="url(#lg30)" stroke-width="8" stroke-linecap="butt"/><path d="M1145.09 1272.54C1144.19 1275.35 1140.75 1283.91 1139.68 1289.38C1138.61 1294.86 1138.18 1299.41 1138.68 1305.42C1139.18 1311.44 1140.68 1318.79 1142.69 1325.47C1144.69 1332.15 1147.7 1339.17 1150.71 1345.52C1153.71 1351.87 1158.06 1358.55 1160.73 1363.56C1163.4 1368.57 1165.74 1373.59 1166.75 1375.59" fill="none" stroke="url(#lg32)" stroke-width="8" stroke-linecap="butt"/></g><g filter="url(#bc_k2)"><path d="M949.83 1272.54C948.89 1275.02 945.65 1282.57 944.21 1287.38C942.77 1292.19 941.2 1296.07 941.2 1301.41C941.2 1306.76 942.37 1313.11 944.21 1319.46C946.05 1325.81 949.56 1333.49 952.23 1339.51C954.9 1345.52 958.08 1351.37 960.25 1355.54C962.42 1359.72 963.76 1361.22 965.26 1364.57C966.77 1367.91 968.6 1373.75 969.27 1375.59" fill="none" stroke="url(#lg31)" stroke-width="8" stroke-linecap="butt"/><path d="M1145.09 1272.54C1144.19 1275.35 1140.75 1283.91 1139.68 1289.38C1138.61 1294.86 1138.18 1299.41 1138.68 1305.42C1139.18 1311.44 1140.68 1318.79 1142.69 1325.47C1144.69 1332.15 1147.7 1339.17 1150.71 1345.52C1153.71 1351.87 1158.06 1358.55 1160.73 1363.56C1163.4 1368.57 1165.74 1373.59 1166.75 1375.59" fill="none" stroke="url(#lg33)" stroke-width="8" stroke-linecap="butt"/></g></g></g><rect x="1266.35" y="1273.1" width="11.7" height="92.1" fill="url(#cbg_k)"/><path d="M860.3 1365.2v16.67M961.8 1365.2v16.67M1063.3 1365.2v16.67M1164.8 1365.2v16.67M1266.3 1365.2v16.67M911.05 1365.2v8.33M1012.55 1365.2v8.33M1114.05 1365.2v8.33M1215.55 1365.2v8.33M860.3 1134.1h-16.67M860.3 1249.65h-16.67M860.3 1365.2h-16.67M860.3 1191.88h-8.33M860.3 1307.42h-8.33M1278.05 1273.1h16.67M1278.05 1319.2h16.67M1278.05 1365.2h16.67M860.3 1134.1H1266.35V1365.2H860.3ZM1266.35 1273.1H1278.05V1365.2H1266.35Z" fill="none" stroke="#000" stroke-width="2.08" stroke-linejoin="miter" stroke-linecap="butt"/><text x="860.3" y="1411.1" font-size="29.17" text-anchor="middle">−220</text><text x="961.8" y="1411.1" font-size="29.17" text-anchor="middle">−215</text><text x="1063.3" y="1411.1" font-size="29.17" text-anchor="middle">−210</text><text x="1164.8" y="1411.1" font-size="29.17" text-anchor="middle">−205</text><text x="1266.3" y="1411.1" font-size="29.17" text-anchor="middle">−200</text><text x="835.3" y="1144.7" font-size="29.17" text-anchor="end">300</text><text x="835.3" y="1260.25" font-size="29.17" text-anchor="end">250</text><text x="835.3" y="1375.8" font-size="29.17" text-anchor="end">200</text><text x="1303.05" y="1282.9" font-size="25" text-anchor="start">1</text><text x="1303.05" y="1329" font-size="25" text-anchor="start">0.5</text><text x="1303.05" y="1375" font-size="25" text-anchor="start">0</text><text x="1063.32" y="1455.1" font-size="29.17" text-anchor="middle"><tspan font-style="italic">V</tspan><tspan font-size="0.7em" dy="0.21em">QDM</tspan><tspan dy="-0.15em"> (mV)</tspan></text><text transform="translate(760,1250.65) rotate(-90)" font-size="29.17" text-anchor="middle"><tspan font-style="italic">V</tspan><tspan font-size="0.7em" dx="-0.14em" dy="0.39em">ABS</tspan><tspan font-size="0.7em" dx="-1.9em" dy="-1.09em">(2)</tspan><tspan dx="0.4em" dy="0.49em"> (mV)</tspan></text><text transform="translate(1361,1319.15) rotate(90)" font-size="29.17" text-anchor="middle"><tspan font-style="italic">S</tspan><tspan font-size="0.7em" dy="0.33em">21</tspan><tspan font-size="0.7em" dx="-1.03em" dy="-0.96em">M</tspan><tspan dx="0.14em" dy="0.44em"> (arb.unit)</tspan></text><text x="717" y="1125.6" font-size="33.33" text-anchor="start" font-weight="bold">k</text></g><g id="panel-m"><g clip-path="url(#clip_m)"><g filter="url(#cm_m)"><rect x="1567.3" y="1132.1" width="409.8" height="235.1" fill="#1f1f1f"/><rect x="1567.3" y="1129" width="409.8" height="240.58" fill="url(#lg44)"/><rect x="1673.26" y="1361.2" width="4" height="3" fill="#fff" opacity="0.8"/><rect x="1818.21" y="1361.2" width="5" height="3" fill="#fff" opacity="0.8"/><g filter="url(#bg_m2)"><path d="M1696.32 1189.14C1697.32 1191.82 1699.66 1199.5 1702.33 1205.18C1705.01 1210.86 1708.01 1217.55 1712.36 1223.23C1716.7 1228.91 1723.05 1234.25 1728.39 1239.26C1733.74 1244.28 1739.76 1249.29 1744.43 1253.3C1749.11 1257.31 1754.46 1261.65 1756.46 1263.32" fill="none" stroke="url(#lg38)" stroke-width="14" stroke-linecap="butt"/></g><g filter="url(#bc_m2)"><path d="M1696.32 1189.14C1697.32 1191.82 1699.66 1199.5 1702.33 1205.18C1705.01 1210.86 1708.01 1217.55 1712.36 1223.23C1716.7 1228.91 1723.05 1234.25 1728.39 1239.26C1733.74 1244.28 1739.76 1249.29 1744.43 1253.3C1749.11 1257.31 1754.46 1261.65 1756.46 1263.32" fill="none" stroke="url(#lg39)" stroke-width="14" stroke-linecap="butt"/></g><g filter="url(#bg_m4)"><path d="M1695.32 1185.13C1695.75 1187.47 1697.75 1194.82 1697.92 1199.17C1698.09 1203.51 1697.85 1207.52 1696.32 1211.2C1694.78 1214.87 1691.97 1217.88 1688.7 1221.22C1685.42 1224.56 1680.01 1227.57 1676.67 1231.25C1673.33 1234.92 1669.99 1241.27 1668.65 1243.27" fill="none" stroke="url(#lg42)" stroke-width="9" stroke-linecap="butt"/></g><g filter="url(#bc_m4)"><path d="M1695.32 1185.13C1695.75 1187.47 1697.75 1194.82 1697.92 1199.17C1698.09 1203.51 1697.85 1207.52 1696.32 1211.2C1694.78 1214.87 1691.97 1217.88 1688.7 1221.22C1685.42 1224.56 1680.01 1227.57 1676.67 1231.25C1673.33 1234.92 1669.99 1241.27 1668.65 1243.27" fill="none" stroke="url(#lg43)" stroke-width="9" stroke-linecap="butt"/></g><g filter="url(#bg_m3)"><path d="M1576.03 1195.16C1575.69 1197.5 1574.53 1203.51 1574.02 1209.19C1573.52 1214.87 1573.02 1222.56 1573.02 1229.24C1573.02 1235.92 1573.36 1240.94 1574.02 1249.29C1574.69 1257.64 1575.69 1269.34 1577.03 1279.36C1578.37 1289.38 1580.21 1299.41 1582.04 1309.43C1583.88 1319.46 1586.55 1331.15 1588.06 1339.51C1589.56 1347.86 1590.4 1353.54 1591.06 1359.55C1591.73 1365.57 1591.9 1372.92 1592.07 1375.59" fill="none" stroke="url(#lg40)" stroke-width="5" stroke-linecap="butt"/></g><g filter="url(#bc_m3)"><path d="M1576.03 1195.16C1575.69 1197.5 1574.53 1203.51 1574.02 1209.19C1573.52 1214.87 1573.02 1222.56 1573.02 1229.24C1573.02 1235.92 1573.36 1240.94 1574.02 1249.29C1574.69 1257.64 1575.69 1269.34 1577.03 1279.36C1578.37 1289.38 1580.21 1299.41 1582.04 1309.43C1583.88 1319.46 1586.55 1331.15 1588.06 1339.51C1589.56 1347.86 1590.4 1353.54 1591.06 1359.55C1591.73 1365.57 1591.9 1372.92 1592.07 1375.59" fill="none" stroke="url(#lg41)" stroke-width="5" stroke-linecap="butt"/></g><g filter="url(#bg_m1)"><path d="M1682.28 1120.98C1682.62 1123.32 1683.12 1128.67 1684.29 1135.01C1685.46 1141.36 1687.63 1151.05 1689.3 1159.07C1690.97 1167.09 1692.88 1176.45 1694.31 1183.13C1695.75 1189.81 1697.59 1194.49 1697.92 1199.17C1698.26 1203.85 1697.85 1207.52 1696.32 1211.2C1694.78 1214.87 1691.97 1217.88 1688.7 1221.22C1685.42 1224.56 1680.01 1227.57 1676.67 1231.25C1673.33 1234.92 1670.52 1238.6 1668.65 1243.27C1666.78 1247.95 1665.84 1253.3 1665.44 1259.31C1665.04 1265.33 1665.44 1272.68 1666.25 1279.36C1667.05 1286.04 1668.92 1292.73 1670.26 1299.41C1671.59 1306.09 1672.93 1312.77 1674.26 1319.46C1675.6 1326.14 1676.77 1332.82 1678.27 1339.51C1679.78 1346.19 1681.95 1353.54 1683.29 1359.55C1684.62 1365.57 1685.79 1372.92 1686.29 1375.59" fill="none" stroke="url(#lg34)" stroke-width="4.6" stroke-linecap="butt"/><path d="M1823.62 1120.98C1823.96 1123.32 1824.46 1128.67 1825.63 1135.01C1826.8 1141.36 1828.97 1151.05 1830.64 1159.07C1832.31 1167.09 1833.98 1174.78 1835.65 1183.13C1837.32 1191.48 1839.16 1200.84 1840.66 1209.19C1842.17 1217.55 1843.84 1225.9 1844.67 1233.25C1845.51 1240.6 1845.84 1247.28 1845.68 1253.3C1845.51 1259.31 1844.84 1263.99 1843.67 1269.34C1842.5 1274.68 1840.83 1280.03 1838.66 1285.38C1836.49 1290.72 1832.81 1295.73 1830.64 1301.41C1828.47 1307.09 1826.63 1313.11 1825.63 1319.46C1824.63 1325.81 1824.29 1332.82 1824.63 1339.51C1824.96 1346.19 1826.8 1353.54 1827.63 1359.55C1828.47 1365.57 1829.3 1372.92 1829.64 1375.59" fill="none" stroke="url(#lg36)" stroke-width="4.6" stroke-linecap="butt"/></g><g filter="url(#bc_m1)"><path d="M1682.28 1120.98C1682.62 1123.32 1683.12 1128.67 1684.29 1135.01C1685.46 1141.36 1687.63 1151.05 1689.3 1159.07C1690.97 1167.09 1692.88 1176.45 1694.31 1183.13C1695.75 1189.81 1697.59 1194.49 1697.92 1199.17C1698.26 1203.85 1697.85 1207.52 1696.32 1211.2C1694.78 1214.87 1691.97 1217.88 1688.7 1221.22C1685.42 1224.56 1680.01 1227.57 1676.67 1231.25C1673.33 1234.92 1670.52 1238.6 1668.65 1243.27C1666.78 1247.95 1665.84 1253.3 1665.44 1259.31C1665.04 1265.33 1665.44 1272.68 1666.25 1279.36C1667.05 1286.04 1668.92 1292.73 1670.26 1299.41C1671.59 1306.09 1672.93 1312.77 1674.26 1319.46C1675.6 1326.14 1676.77 1332.82 1678.27 1339.51C1679.78 1346.19 1681.95 1353.54 1683.29 1359.55C1684.62 1365.57 1685.79 1372.92 1686.29 1375.59" fill="none" stroke="url(#lg35)" stroke-width="4.6" stroke-linecap="butt"/><path d="M1823.62 1120.98C1823.96 1123.32 1824.46 1128.67 1825.63 1135.01C1826.8 1141.36 1828.97 1151.05 1830.64 1159.07C1832.31 1167.09 1833.98 1174.78 1835.65 1183.13C1837.32 1191.48 1839.16 1200.84 1840.66 1209.19C1842.17 1217.55 1843.84 1225.9 1844.67 1233.25C1845.51 1240.6 1845.84 1247.28 1845.68 1253.3C1845.51 1259.31 1844.84 1263.99 1843.67 1269.34C1842.5 1274.68 1840.83 1280.03 1838.66 1285.38C1836.49 1290.72 1832.81 1295.73 1830.64 1301.41C1828.47 1307.09 1826.63 1313.11 1825.63 1319.46C1824.63 1325.81 1824.29 1332.82 1824.63 1339.51C1824.96 1346.19 1826.8 1353.54 1827.63 1359.55C1828.47 1365.57 1829.3 1372.92 1829.64 1375.59" fill="none" stroke="url(#lg37)" stroke-width="4.6" stroke-linecap="butt"/></g></g></g><rect x="1975.1" y="1273.1" width="11.7" height="92.1" fill="url(#cbg_m)"/><path d="M1680.1 1365.2v16.67M1882.6 1365.2v16.67M1578.85 1365.2v8.33M1781.35 1365.2v8.33M1569.3 1134.1h-16.67M1569.3 1249.65h-16.67M1569.3 1365.2h-16.67M1569.3 1191.88h-8.33M1569.3 1307.42h-8.33M1986.8 1273.1h16.67M1986.8 1319.2h16.67M1986.8 1365.2h16.67M1569.3 1134.1H1975.1V1365.2H1569.3ZM1975.1 1273.1H1986.8V1365.2H1975.1Z" fill="none" stroke="#000" stroke-width="2.08" stroke-linejoin="miter" stroke-linecap="butt"/><text x="1680.1" y="1411.1" font-size="29.17" text-anchor="middle">−220</text><text x="1882.6" y="1411.1" font-size="29.17" text-anchor="middle">−200</text><text x="1544.3" y="1144.7" font-size="29.17" text-anchor="end">300</text><text x="1544.3" y="1260.25" font-size="29.17" text-anchor="end">250</text><text x="1544.3" y="1375.8" font-size="29.17" text-anchor="end">200</text><text x="2011.8" y="1282.9" font-size="25" text-anchor="start">1</text><text x="2011.8" y="1329" font-size="25" text-anchor="start">0.5</text><text x="2011.8" y="1375" font-size="25" text-anchor="start">0</text><text x="1772.2" y="1455.1" font-size="29.17" text-anchor="middle"><tspan font-style="italic">V</tspan><tspan font-size="0.7em" dy="0.21em">QDR</tspan><tspan dy="-0.15em"> (mV)</tspan></text><text transform="translate(1470,1250.65) rotate(-90)" font-size="29.17" text-anchor="middle"><tspan font-style="italic">V</tspan><tspan font-size="0.7em" dx="-0.14em" dy="0.39em">ABS</tspan><tspan font-size="0.7em" dx="-1.9em" dy="-1.09em">(2)</tspan><tspan dx="0.4em" dy="0.49em"> (mV)</tspan></text><text transform="translate(2070.8,1319.15) rotate(90)" font-size="29.17" text-anchor="middle"><tspan font-style="italic">S</tspan><tspan font-size="0.7em" dy="0.33em">21</tspan><tspan font-size="0.7em" dx="-1.03em" dy="-0.96em">R</tspan><tspan dx="0.21em" dy="0.44em"> (arb.unit)</tspan></text><text x="1418.5" y="1125.6" font-size="33.33" text-anchor="start" font-weight="bold">m</text></g><g id="panel-l"><g clip-path="url(#clip_l)"><g filter="url(#cm_l)"><rect x="858.3" y="1494.5" width="410.05" height="235" fill="#2b2b2b"/><g filter="url(#bg_l)"><path d="M936.19 1482.98C936.53 1485.32 937.36 1490.67 938.2 1497.01C939.03 1503.36 940.2 1512.05 941.2 1521.07C942.21 1530.09 943.31 1541.12 944.21 1551.14C945.11 1561.17 945.88 1571.19 946.62 1581.22C947.35 1591.24 947.95 1601.26 948.62 1611.29C949.29 1621.31 949.86 1631.34 950.63 1641.36C951.4 1651.38 952.36 1662.41 953.23 1671.43C954.1 1680.45 954.94 1688.14 955.84 1695.49C956.74 1702.84 957.91 1710.53 958.65 1715.54C959.38 1720.55 959.65 1721.89 960.25 1725.56C960.85 1729.24 961.92 1735.59 962.26 1737.59" fill="none" stroke="url(#lg45)" stroke-width="8" stroke-linecap="butt"/><path d="M1131.06 1482.98C1131.16 1485.32 1131.46 1492.6 1131.66 1497.01C1131.86 1501.43 1132.16 1507.37 1132.26 1509.44" fill="none" stroke="url(#lg47)" stroke-width="8" stroke-linecap="butt"/><path d="M1135.87 1509.44C1136.01 1511.38 1136.14 1514.12 1136.67 1521.07C1137.21 1528.02 1138.24 1541.12 1139.08 1551.14C1139.91 1561.17 1140.85 1571.19 1141.69 1581.22C1142.52 1591.24 1143.32 1601.26 1144.09 1611.29C1144.86 1621.31 1145.6 1631.34 1146.3 1641.36C1147 1651.38 1147.57 1662.41 1148.3 1671.43C1149.04 1680.45 1149.81 1688.14 1150.71 1695.49C1151.61 1702.84 1152.88 1710.53 1153.71 1715.54C1154.55 1720.55 1155.05 1721.89 1155.72 1725.56C1156.39 1729.24 1157.39 1735.59 1157.72 1737.59" fill="none" stroke="url(#lg49)" stroke-width="8" stroke-linecap="butt"/></g><g filter="url(#bc_l)"><path d="M936.19 1482.98C936.53 1485.32 937.36 1490.67 938.2 1497.01C939.03 1503.36 940.2 1512.05 941.2 1521.07C942.21 1530.09 943.31 1541.12 944.21 1551.14C945.11 1561.17 945.88 1571.19 946.62 1581.22C947.35 1591.24 947.95 1601.26 948.62 1611.29C949.29 1621.31 949.86 1631.34 950.63 1641.36C951.4 1651.38 952.36 1662.41 953.23 1671.43C954.1 1680.45 954.94 1688.14 955.84 1695.49C956.74 1702.84 957.91 1710.53 958.65 1715.54C959.38 1720.55 959.65 1721.89 960.25 1725.56C960.85 1729.24 961.92 1735.59 962.26 1737.59" fill="none" stroke="url(#lg46)" stroke-width="8" stroke-linecap="butt"/><path d="M1131.06 1482.98C1131.16 1485.32 1131.46 1492.6 1131.66 1497.01C1131.86 1501.43 1132.16 1507.37 1132.26 1509.44" fill="none" stroke="url(#lg48)" stroke-width="8" stroke-linecap="butt"/><path d="M1135.87 1509.44C1136.01 1511.38 1136.14 1514.12 1136.67 1521.07C1137.21 1528.02 1138.24 1541.12 1139.08 1551.14C1139.91 1561.17 1140.85 1571.19 1141.69 1581.22C1142.52 1591.24 1143.32 1601.26 1144.09 1611.29C1144.86 1621.31 1145.6 1631.34 1146.3 1641.36C1147 1651.38 1147.57 1662.41 1148.3 1671.43C1149.04 1680.45 1149.81 1688.14 1150.71 1695.49C1151.61 1702.84 1152.88 1710.53 1153.71 1715.54C1154.55 1720.55 1155.05 1721.89 1155.72 1725.56C1156.39 1729.24 1157.39 1735.59 1157.72 1737.59" fill="none" stroke="url(#lg50)" stroke-width="8" stroke-linecap="butt"/></g></g></g><rect x="1266.35" y="1635.4" width="11.7" height="92.1" fill="url(#cbg_l)"/><path d="M860.3 1727.5v16.67M961.8 1727.5v16.67M1063.3 1727.5v16.67M1164.8 1727.5v16.67M1266.3 1727.5v16.67M911.05 1727.5v8.33M1012.55 1727.5v8.33M1114.05 1727.5v8.33M1215.55 1727.5v8.33M860.3 1502.5h-16.67M860.3 1611.95h-16.67M860.3 1721.4h-16.67M860.3 1557.22h-8.33M860.3 1666.68h-8.33M1278.05 1635.4h16.67M1278.05 1681.4h16.67M1278.05 1727.5h16.67M860.3 1496.5H1266.35V1727.5H860.3ZM1266.35 1635.4H1278.05V1727.5H1266.35Z" fill="none" stroke="#000" stroke-width="2.08" stroke-linejoin="miter" stroke-linecap="butt"/><text x="860.3" y="1773.4" font-size="29.17" text-anchor="middle">−220</text><text x="961.8" y="1773.4" font-size="29.17" text-anchor="middle">−215</text><text x="1063.3" y="1773.4" font-size="29.17" text-anchor="middle">−210</text><text x="1164.8" y="1773.4" font-size="29.17" text-anchor="middle">−205</text><text x="1266.3" y="1773.4" font-size="29.17" text-anchor="middle">−200</text><text x="835.3" y="1513.1" font-size="29.17" text-anchor="end">−140</text><text x="835.3" y="1622.55" font-size="29.17" text-anchor="end">−160</text><text x="835.3" y="1732" font-size="29.17" text-anchor="end">−180</text><text x="1303.05" y="1645.2" font-size="25" text-anchor="start">1</text><text x="1303.05" y="1691.2" font-size="25" text-anchor="start">0.5</text><text x="1303.05" y="1737.3" font-size="25" text-anchor="start">0</text><text x="1063.32" y="1817.4" font-size="29.17" text-anchor="middle"><tspan font-style="italic">V</tspan><tspan font-size="0.7em" dy="0.21em">QDM</tspan><tspan dy="-0.15em"> (mV)</tspan></text><text transform="translate(745,1613) rotate(-90)" font-size="29.17" text-anchor="middle"><tspan font-style="italic">V</tspan><tspan font-size="0.7em" dx="-0.14em" dy="0.39em">ABS</tspan><tspan font-size="0.7em" dx="-1.9em" dy="-1.09em">(1)</tspan><tspan dx="0.4em" dy="0.49em"> (mV)</tspan></text><text transform="translate(1361,1681.45) rotate(90)" font-size="29.17" text-anchor="middle"><tspan font-style="italic">S</tspan><tspan font-size="0.7em" dy="0.33em">21</tspan><tspan font-size="0.7em" dx="-1.03em" dy="-0.96em">M</tspan><tspan dx="0.14em" dy="0.44em"> (arb.unit)</tspan></text><text x="717" y="1504.2" font-size="33.33" text-anchor="start" font-weight="bold">l</text></g></svg></body></html>
